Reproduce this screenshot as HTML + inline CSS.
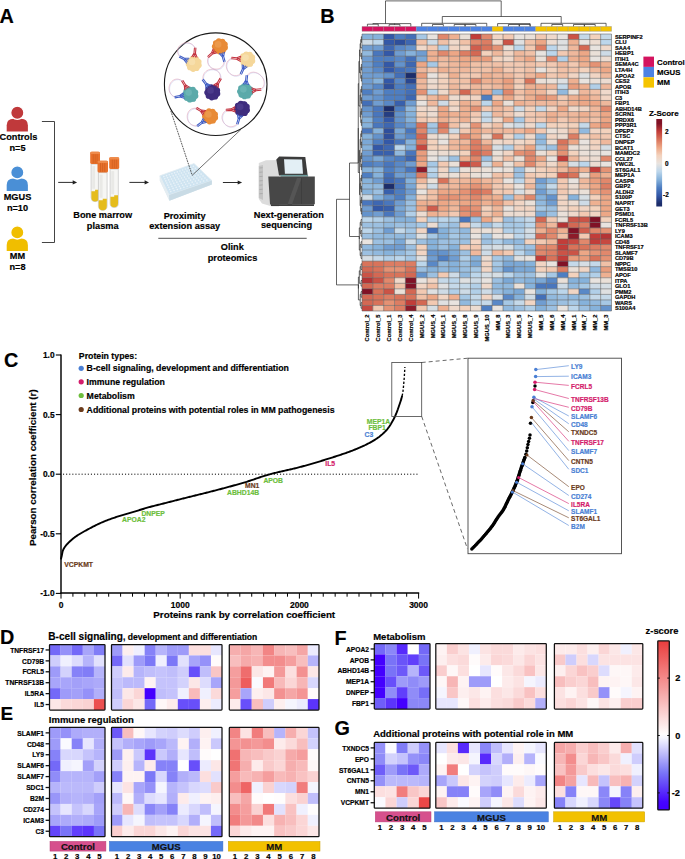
<!DOCTYPE html>
<html><head><meta charset="utf-8"><style>
html,body{margin:0;padding:0;background:#fff;overflow:hidden;}
svg{display:block;}
</style></head><body>
<svg width="685" height="859" viewBox="0 0 685 859" font-family="Liberation Sans, sans-serif">
<rect width="685" height="859" fill="#fff"/>
<text x="-0.40" y="22.80" font-size="19.8" font-weight="bold" text-anchor="start" fill="#000" stroke="#000" stroke-width="0.18" >A</text>
<path d="M6.7 131.40 L6.7 125.30 Q6.7 118.80 13.5 118.80 L21.1 118.80 Q27.9 118.80 27.9 125.30 L27.9 131.40 Z" fill="#C0393B"/>
<circle cx="17.3" cy="112.80" r="6.6" fill="#C0393B" stroke="#fff" stroke-width="1.3"/>
<path d="M6.7 191.00 L6.7 184.90 Q6.7 178.40 13.5 178.40 L21.1 178.40 Q27.9 178.40 27.9 184.90 L27.9 191.00 Z" fill="#4A8FD6"/>
<circle cx="17.3" cy="172.40" r="6.6" fill="#4A8FD6" stroke="#fff" stroke-width="1.3"/>
<path d="M6.7 251.00 L6.7 244.90 Q6.7 238.40 13.5 238.40 L21.1 238.40 Q27.9 238.40 27.9 244.90 L27.9 251.00 Z" fill="#F0BE00"/>
<circle cx="17.3" cy="232.40" r="6.6" fill="#F0BE00" stroke="#fff" stroke-width="1.3"/>
<text x="18.50" y="139.90" font-size="9.6" font-weight="bold" text-anchor="middle" fill="#000" stroke="#000" stroke-width="0.18" textLength="37.82" lengthAdjust="spacingAndGlyphs">Controls</text>
<text x="17.50" y="151.20" font-size="9.6" font-weight="bold" text-anchor="middle" fill="#000" stroke="#000" stroke-width="0.18" textLength="16.11" lengthAdjust="spacingAndGlyphs">n=5</text>
<text x="17.50" y="199.50" font-size="9.6" font-weight="bold" text-anchor="middle" fill="#000" stroke="#000" stroke-width="0.18" textLength="27.60" lengthAdjust="spacingAndGlyphs">MGUS</text>
<text x="17.50" y="210.90" font-size="9.6" font-weight="bold" text-anchor="middle" fill="#000" stroke="#000" stroke-width="0.18" textLength="21.23" lengthAdjust="spacingAndGlyphs">n=10</text>
<text x="17.50" y="258.70" font-size="9.6" font-weight="bold" text-anchor="middle" fill="#000" stroke="#000" stroke-width="0.18" textLength="15.33" lengthAdjust="spacingAndGlyphs">MM</text>
<text x="17.50" y="270.10" font-size="9.6" font-weight="bold" text-anchor="middle" fill="#000" stroke="#000" stroke-width="0.18" textLength="16.11" lengthAdjust="spacingAndGlyphs">n=8</text>
<path d="M41.9 121.5 H54.5 V242.5 H41.9" fill="none" stroke="#3a3a3a" stroke-width="0.95"/>
<line x1="58.20" y1="182.40" x2="74.10" y2="182.40" stroke="#222" stroke-width="0.95" />
<path d="M77.10 182.40 L72.70 180.30 L72.70 184.50 Z" fill="#222"/>
<line x1="129.40" y1="182.40" x2="146.00" y2="182.40" stroke="#222" stroke-width="0.95" />
<path d="M149.00 182.40 L144.60 180.30 L144.60 184.50 Z" fill="#222"/>
<line x1="222.90" y1="182.50" x2="239.10" y2="182.50" stroke="#222" stroke-width="0.95" />
<path d="M242.10 182.50 L237.70 180.40 L237.70 184.60 Z" fill="#222"/>
<path d="M91.10 164.10 V197.70 A4.00 4.00 0 0 0 99.10 197.70 V164.10 Z" fill="#F6F6F4" stroke="#B8B8B8" stroke-width="0.6"/>
<path d="M91.40 191.30 L95.10 191.30 L95.10 189.80 L98.80 189.80 V197.70 A3.70 3.70 0 0 1 91.40 197.70 Z" fill="#E5BC1C"/>
<rect x="92.30" y="166.10" width="2.80" height="22.70" fill="#E9E9E6"/>
<rect x="90.20" y="151.80" width="9.80" height="12.30" rx="1.6" fill="#E8712B"/>
<rect x="90.20" y="151.80" width="9.80" height="2.2" rx="1.1" fill="#EE8A4A"/>
<rect x="92.84" y="154.20" width="0.6" height="9.10" fill="#C95A1D"/>
<rect x="94.80" y="154.20" width="0.6" height="9.10" fill="#C95A1D"/>
<rect x="96.76" y="154.20" width="0.6" height="9.10" fill="#C95A1D"/>
<path d="M110.10 169.10 V203.40 A4.10 4.10 0 0 0 118.30 203.40 V169.10 Z" fill="#F6F6F4" stroke="#B8B8B8" stroke-width="0.6"/>
<path d="M110.40 196.70 L114.20 196.70 L114.20 195.20 L118.00 195.20 V203.40 A3.80 3.80 0 0 1 110.40 203.40 Z" fill="#E5BC1C"/>
<rect x="111.30" y="171.10" width="2.87" height="23.10" fill="#E9E9E6"/>
<rect x="109.20" y="157.20" width="10.00" height="11.90" rx="1.6" fill="#E8712B"/>
<rect x="109.20" y="157.20" width="10.00" height="2.2" rx="1.1" fill="#EE8A4A"/>
<rect x="111.90" y="159.60" width="0.6" height="8.70" fill="#C95A1D"/>
<rect x="113.90" y="159.60" width="0.6" height="8.70" fill="#C95A1D"/>
<rect x="115.90" y="159.60" width="0.6" height="8.70" fill="#C95A1D"/>
<path d="M98.40 172.60 V206.15 A4.35 4.35 0 0 0 107.10 206.15 V172.60 Z" fill="#F6F6F4" stroke="#B8B8B8" stroke-width="0.6"/>
<path d="M98.70 200.20 L102.75 200.20 L102.75 198.70 L106.80 198.70 V206.15 A4.05 4.05 0 0 1 98.70 206.15 Z" fill="#E5BC1C"/>
<rect x="99.60" y="174.60" width="3.04" height="23.10" fill="#E9E9E6"/>
<rect x="97.50" y="160.70" width="10.50" height="11.90" rx="1.6" fill="#E8712B"/>
<rect x="97.50" y="160.70" width="10.50" height="2.2" rx="1.1" fill="#EE8A4A"/>
<rect x="100.35" y="163.10" width="0.6" height="8.70" fill="#C95A1D"/>
<rect x="102.45" y="163.10" width="0.6" height="8.70" fill="#C95A1D"/>
<rect x="104.55" y="163.10" width="0.6" height="8.70" fill="#C95A1D"/>
<path d="M159.8 175.8 L194 163.5 L211.9 180.6 L211.9 184.5 L169.4 200.7 L159.8 180.5 Z" fill="#DCE9F0"/>
<path d="M159.8 175.8 L194 163.5 L211.9 180.6 L169 195 Z" fill="#CFE4F1" stroke="#E6EFF4" stroke-width="0.8"/>
<path d="M159.8 175.8 L169 195 L169.4 200.7 L159.8 180.5 Z" fill="#E4EDF2"/>
<path d="M169 195 L211.9 180.6 L211.9 184.5 L169.4 200.7 Z" fill="#C9DBE5"/>
<circle cx="163.82" cy="176.60" r="0.8" fill="#EAF3F9"/>
<circle cx="164.81" cy="178.75" r="0.8" fill="#EAF3F9"/>
<circle cx="165.81" cy="180.89" r="0.8" fill="#EAF3F9"/>
<circle cx="166.80" cy="183.03" r="0.8" fill="#EAF3F9"/>
<circle cx="167.79" cy="185.17" r="0.8" fill="#EAF3F9"/>
<circle cx="168.78" cy="187.31" r="0.8" fill="#EAF3F9"/>
<circle cx="169.77" cy="189.45" r="0.8" fill="#EAF3F9"/>
<circle cx="170.77" cy="191.60" r="0.8" fill="#EAF3F9"/>
<circle cx="166.51" cy="175.66" r="0.8" fill="#EAF3F9"/>
<circle cx="167.59" cy="177.79" r="0.8" fill="#EAF3F9"/>
<circle cx="168.67" cy="179.91" r="0.8" fill="#EAF3F9"/>
<circle cx="169.74" cy="182.04" r="0.8" fill="#EAF3F9"/>
<circle cx="170.82" cy="184.16" r="0.8" fill="#EAF3F9"/>
<circle cx="171.90" cy="186.29" r="0.8" fill="#EAF3F9"/>
<circle cx="172.97" cy="188.41" r="0.8" fill="#EAF3F9"/>
<circle cx="174.05" cy="190.54" r="0.8" fill="#EAF3F9"/>
<circle cx="169.21" cy="174.72" r="0.8" fill="#EAF3F9"/>
<circle cx="170.37" cy="176.83" r="0.8" fill="#EAF3F9"/>
<circle cx="171.53" cy="178.94" r="0.8" fill="#EAF3F9"/>
<circle cx="172.69" cy="181.05" r="0.8" fill="#EAF3F9"/>
<circle cx="173.85" cy="183.15" r="0.8" fill="#EAF3F9"/>
<circle cx="175.01" cy="185.26" r="0.8" fill="#EAF3F9"/>
<circle cx="176.17" cy="187.37" r="0.8" fill="#EAF3F9"/>
<circle cx="177.33" cy="189.48" r="0.8" fill="#EAF3F9"/>
<circle cx="171.90" cy="173.78" r="0.8" fill="#EAF3F9"/>
<circle cx="173.14" cy="175.87" r="0.8" fill="#EAF3F9"/>
<circle cx="174.39" cy="177.96" r="0.8" fill="#EAF3F9"/>
<circle cx="175.63" cy="180.05" r="0.8" fill="#EAF3F9"/>
<circle cx="176.88" cy="182.15" r="0.8" fill="#EAF3F9"/>
<circle cx="178.12" cy="184.24" r="0.8" fill="#EAF3F9"/>
<circle cx="179.37" cy="186.33" r="0.8" fill="#EAF3F9"/>
<circle cx="180.61" cy="188.42" r="0.8" fill="#EAF3F9"/>
<circle cx="174.59" cy="172.84" r="0.8" fill="#EAF3F9"/>
<circle cx="175.92" cy="174.91" r="0.8" fill="#EAF3F9"/>
<circle cx="177.25" cy="176.99" r="0.8" fill="#EAF3F9"/>
<circle cx="178.58" cy="179.06" r="0.8" fill="#EAF3F9"/>
<circle cx="179.91" cy="181.14" r="0.8" fill="#EAF3F9"/>
<circle cx="181.24" cy="183.21" r="0.8" fill="#EAF3F9"/>
<circle cx="182.57" cy="185.29" r="0.8" fill="#EAF3F9"/>
<circle cx="183.90" cy="187.36" r="0.8" fill="#EAF3F9"/>
<circle cx="177.28" cy="171.90" r="0.8" fill="#EAF3F9"/>
<circle cx="178.70" cy="173.95" r="0.8" fill="#EAF3F9"/>
<circle cx="180.11" cy="176.01" r="0.8" fill="#EAF3F9"/>
<circle cx="181.52" cy="178.07" r="0.8" fill="#EAF3F9"/>
<circle cx="182.94" cy="180.13" r="0.8" fill="#EAF3F9"/>
<circle cx="184.35" cy="182.19" r="0.8" fill="#EAF3F9"/>
<circle cx="185.77" cy="184.25" r="0.8" fill="#EAF3F9"/>
<circle cx="187.18" cy="186.30" r="0.8" fill="#EAF3F9"/>
<circle cx="179.97" cy="170.95" r="0.8" fill="#EAF3F9"/>
<circle cx="181.47" cy="173.00" r="0.8" fill="#EAF3F9"/>
<circle cx="182.97" cy="175.04" r="0.8" fill="#EAF3F9"/>
<circle cx="184.47" cy="177.08" r="0.8" fill="#EAF3F9"/>
<circle cx="185.97" cy="179.12" r="0.8" fill="#EAF3F9"/>
<circle cx="187.47" cy="181.16" r="0.8" fill="#EAF3F9"/>
<circle cx="188.96" cy="183.20" r="0.8" fill="#EAF3F9"/>
<circle cx="190.46" cy="185.25" r="0.8" fill="#EAF3F9"/>
<circle cx="182.67" cy="170.01" r="0.8" fill="#EAF3F9"/>
<circle cx="184.25" cy="172.04" r="0.8" fill="#EAF3F9"/>
<circle cx="185.83" cy="174.06" r="0.8" fill="#EAF3F9"/>
<circle cx="187.41" cy="176.09" r="0.8" fill="#EAF3F9"/>
<circle cx="189.00" cy="178.11" r="0.8" fill="#EAF3F9"/>
<circle cx="190.58" cy="180.14" r="0.8" fill="#EAF3F9"/>
<circle cx="192.16" cy="182.16" r="0.8" fill="#EAF3F9"/>
<circle cx="193.75" cy="184.19" r="0.8" fill="#EAF3F9"/>
<circle cx="185.36" cy="169.07" r="0.8" fill="#EAF3F9"/>
<circle cx="187.03" cy="171.08" r="0.8" fill="#EAF3F9"/>
<circle cx="188.69" cy="173.09" r="0.8" fill="#EAF3F9"/>
<circle cx="190.36" cy="175.10" r="0.8" fill="#EAF3F9"/>
<circle cx="192.03" cy="177.10" r="0.8" fill="#EAF3F9"/>
<circle cx="193.69" cy="179.11" r="0.8" fill="#EAF3F9"/>
<circle cx="195.36" cy="181.12" r="0.8" fill="#EAF3F9"/>
<circle cx="197.03" cy="183.13" r="0.8" fill="#EAF3F9"/>
<circle cx="188.05" cy="168.13" r="0.8" fill="#EAF3F9"/>
<circle cx="189.80" cy="170.12" r="0.8" fill="#EAF3F9"/>
<circle cx="191.55" cy="172.11" r="0.8" fill="#EAF3F9"/>
<circle cx="193.31" cy="174.10" r="0.8" fill="#EAF3F9"/>
<circle cx="195.06" cy="176.10" r="0.8" fill="#EAF3F9"/>
<circle cx="196.81" cy="178.09" r="0.8" fill="#EAF3F9"/>
<circle cx="198.56" cy="180.08" r="0.8" fill="#EAF3F9"/>
<circle cx="200.31" cy="182.07" r="0.8" fill="#EAF3F9"/>
<circle cx="190.74" cy="167.19" r="0.8" fill="#EAF3F9"/>
<circle cx="192.58" cy="169.16" r="0.8" fill="#EAF3F9"/>
<circle cx="194.41" cy="171.14" r="0.8" fill="#EAF3F9"/>
<circle cx="196.25" cy="173.11" r="0.8" fill="#EAF3F9"/>
<circle cx="198.09" cy="175.09" r="0.8" fill="#EAF3F9"/>
<circle cx="199.92" cy="177.06" r="0.8" fill="#EAF3F9"/>
<circle cx="201.76" cy="179.04" r="0.8" fill="#EAF3F9"/>
<circle cx="203.59" cy="181.01" r="0.8" fill="#EAF3F9"/>
<circle cx="193.44" cy="166.25" r="0.8" fill="#EAF3F9"/>
<circle cx="195.36" cy="168.20" r="0.8" fill="#EAF3F9"/>
<circle cx="197.28" cy="170.16" r="0.8" fill="#EAF3F9"/>
<circle cx="199.20" cy="172.12" r="0.8" fill="#EAF3F9"/>
<circle cx="201.12" cy="174.08" r="0.8" fill="#EAF3F9"/>
<circle cx="203.04" cy="176.04" r="0.8" fill="#EAF3F9"/>
<circle cx="204.96" cy="178.00" r="0.8" fill="#EAF3F9"/>
<circle cx="206.88" cy="179.95" r="0.8" fill="#EAF3F9"/>
<line x1="170.8" y1="110.9" x2="192.2" y2="175.3" stroke="#333" stroke-width="0.8" stroke-dasharray="1.8,0.8"/>
<line x1="240.9" y1="129.5" x2="192.2" y2="175.3" stroke="#333" stroke-width="0.7"/>
<circle cx="215.7" cy="84.2" r="51.3" fill="#fff" stroke="#1a1a1a" stroke-width="1.1"/>
<path d="M195.16 48.26 C189.27 36.15 171.08 46.24 179.90 56.72" fill="none" stroke="#E39AAE" stroke-width="0.55"/>
<path d="M195.76 48.86 C189.87 36.75 171.68 46.84 180.50 57.32" fill="none" stroke="#B7BFEA" stroke-width="0.4"/>
<circle cx="193.80" cy="63.80" r="7.40" fill="#F5D79A"/>
<circle cx="198.89" cy="65.37" r="2.81" fill="#F5D79A"/>
<circle cx="196.69" cy="68.28" r="2.81" fill="#F5D79A"/>
<circle cx="193.13" cy="69.09" r="2.81" fill="#F5D79A"/>
<circle cx="189.89" cy="67.42" r="2.81" fill="#F5D79A"/>
<circle cx="188.48" cy="64.06" r="2.81" fill="#F5D79A"/>
<circle cx="189.56" cy="60.58" r="2.81" fill="#F5D79A"/>
<circle cx="192.62" cy="58.60" r="2.81" fill="#F5D79A"/>
<circle cx="196.23" cy="59.06" r="2.81" fill="#F5D79A"/>
<circle cx="198.71" cy="61.73" r="2.81" fill="#F5D79A"/>
<circle cx="191.95" cy="61.95" r="3.33" fill="#FAE7BE" opacity="0.5"/>
<path d="M194.43 47.99 L193.99 52.98 L191.79 56.67 M193.99 52.98 L195.52 57.00" stroke="#C3323F" stroke-width="1.05" fill="none" stroke-linecap="round" stroke-linejoin="round"/>
<path d="M195.92 48.13 L195.49 53.11 L193.29 56.80 M195.49 53.11 L197.01 57.13" stroke="#C3323F" stroke-width="1.05" fill="none" stroke-linecap="round" stroke-linejoin="round"/>
<path d="M179.38 57.30 L183.84 59.57 L186.44 62.99 M183.84 59.57 L188.14 59.66" stroke="#3E5CC4" stroke-width="1.05" fill="none" stroke-linecap="round" stroke-linejoin="round"/>
<path d="M180.06 55.96 L184.52 58.23 L187.12 61.65 M184.52 58.23 L188.82 58.32" stroke="#3E5CC4" stroke-width="1.05" fill="none" stroke-linecap="round" stroke-linejoin="round"/>
<path d="M208.41 56.74 C203.33 69.37 222.28 74.80 224.30 61.30" fill="none" stroke="#E39AAE" stroke-width="0.55"/>
<path d="M209.01 57.34 C203.93 69.97 222.88 75.40 224.90 61.90" fill="none" stroke="#B7BFEA" stroke-width="0.4"/>
<circle cx="220.00" cy="46.30" r="7.40" fill="#E88B37"/>
<circle cx="225.09" cy="47.87" r="2.81" fill="#E88B37"/>
<circle cx="222.89" cy="50.78" r="2.81" fill="#E88B37"/>
<circle cx="219.33" cy="51.59" r="2.81" fill="#E88B37"/>
<circle cx="216.09" cy="49.92" r="2.81" fill="#E88B37"/>
<circle cx="214.68" cy="46.56" r="2.81" fill="#E88B37"/>
<circle cx="215.76" cy="43.08" r="2.81" fill="#E88B37"/>
<circle cx="218.82" cy="41.10" r="2.81" fill="#E88B37"/>
<circle cx="222.43" cy="41.56" r="2.81" fill="#E88B37"/>
<circle cx="224.91" cy="44.23" r="2.81" fill="#E88B37"/>
<circle cx="218.15" cy="44.45" r="3.33" fill="#F0A860" opacity="0.5"/>
<path d="M208.76 57.43 L212.48 54.08 L216.60 52.88 M212.48 54.08 L214.10 50.10" stroke="#C3323F" stroke-width="1.05" fill="none" stroke-linecap="round" stroke-linejoin="round"/>
<path d="M207.76 56.31 L211.47 52.97 L215.60 51.77 M211.47 52.97 L213.10 48.99" stroke="#C3323F" stroke-width="1.05" fill="none" stroke-linecap="round" stroke-linejoin="round"/>
<path d="M225.08 61.28 L223.70 56.47 L224.43 52.24 M223.70 56.47 L220.83 53.27" stroke="#3E5CC4" stroke-width="1.05" fill="none" stroke-linecap="round" stroke-linejoin="round"/>
<path d="M223.63 61.69 L222.26 56.89 L222.99 52.65 M222.26 56.89 L219.39 53.68" stroke="#3E5CC4" stroke-width="1.05" fill="none" stroke-linecap="round" stroke-linejoin="round"/>
<path d="M231.86 58.04 C219.34 63.28 230.31 81.89 241.05 73.65" fill="none" stroke="#E39AAE" stroke-width="0.55"/>
<path d="M232.46 58.64 C219.94 63.88 230.91 82.49 241.65 74.25" fill="none" stroke="#B7BFEA" stroke-width="0.4"/>
<circle cx="247.40" cy="59.40" r="7.40" fill="#F5D79A"/>
<circle cx="252.49" cy="60.97" r="2.81" fill="#F5D79A"/>
<circle cx="250.29" cy="63.88" r="2.81" fill="#F5D79A"/>
<circle cx="246.73" cy="64.69" r="2.81" fill="#F5D79A"/>
<circle cx="243.49" cy="63.02" r="2.81" fill="#F5D79A"/>
<circle cx="242.08" cy="59.66" r="2.81" fill="#F5D79A"/>
<circle cx="243.16" cy="56.18" r="2.81" fill="#F5D79A"/>
<circle cx="246.22" cy="54.20" r="2.81" fill="#F5D79A"/>
<circle cx="249.83" cy="54.66" r="2.81" fill="#F5D79A"/>
<circle cx="252.31" cy="57.33" r="2.81" fill="#F5D79A"/>
<circle cx="245.55" cy="57.55" r="3.33" fill="#FAE7BE" opacity="0.5"/>
<path d="M231.59 58.77 L236.58 59.21 L240.27 61.41 M236.58 59.21 L240.60 57.68" stroke="#C3323F" stroke-width="1.05" fill="none" stroke-linecap="round" stroke-linejoin="round"/>
<path d="M231.73 57.28 L236.71 57.71 L240.40 59.91 M236.71 57.71 L240.73 56.19" stroke="#C3323F" stroke-width="1.05" fill="none" stroke-linecap="round" stroke-linejoin="round"/>
<path d="M241.66 74.14 L243.69 69.57 L246.98 66.79 M243.69 69.57 L243.56 65.27" stroke="#3E5CC4" stroke-width="1.05" fill="none" stroke-linecap="round" stroke-linejoin="round"/>
<path d="M240.29 73.53 L242.32 68.96 L245.61 66.18 M242.32 68.96 L242.19 64.66" stroke="#3E5CC4" stroke-width="1.05" fill="none" stroke-linecap="round" stroke-linejoin="round"/>
<path d="M182.47 81.03 C171.39 72.96 162.66 92.13 175.14 97.11" fill="none" stroke="#E39AAE" stroke-width="0.55"/>
<path d="M183.07 81.63 C171.99 73.56 163.26 92.73 175.74 97.71" fill="none" stroke="#B7BFEA" stroke-width="0.4"/>
<circle cx="190.50" cy="94.40" r="7.40" fill="#5BAAAA"/>
<circle cx="195.59" cy="95.97" r="2.81" fill="#5BAAAA"/>
<circle cx="193.39" cy="98.88" r="2.81" fill="#5BAAAA"/>
<circle cx="189.83" cy="99.69" r="2.81" fill="#5BAAAA"/>
<circle cx="186.59" cy="98.02" r="2.81" fill="#5BAAAA"/>
<circle cx="185.18" cy="94.66" r="2.81" fill="#5BAAAA"/>
<circle cx="186.26" cy="91.18" r="2.81" fill="#5BAAAA"/>
<circle cx="189.32" cy="89.20" r="2.81" fill="#5BAAAA"/>
<circle cx="192.93" cy="89.66" r="2.81" fill="#5BAAAA"/>
<circle cx="195.41" cy="92.33" r="2.81" fill="#5BAAAA"/>
<circle cx="188.65" cy="92.55" r="3.33" fill="#7CC0C0" opacity="0.5"/>
<path d="M181.72 81.24 L184.29 85.53 L184.69 89.81 M184.29 85.53 L187.89 87.88" stroke="#C3323F" stroke-width="1.05" fill="none" stroke-linecap="round" stroke-linejoin="round"/>
<path d="M183.01 80.47 L185.58 84.76 L185.97 89.04 M185.58 84.76 L189.18 87.11" stroke="#C3323F" stroke-width="1.05" fill="none" stroke-linecap="round" stroke-linejoin="round"/>
<path d="M175.07 97.88 L179.99 97.01 L184.13 98.18 M179.99 97.01 L183.48 94.50" stroke="#3E5CC4" stroke-width="1.05" fill="none" stroke-linecap="round" stroke-linejoin="round"/>
<path d="M174.81 96.41 L179.73 95.54 L183.87 96.71 M179.73 95.54 L183.22 93.02" stroke="#3E5CC4" stroke-width="1.05" fill="none" stroke-linecap="round" stroke-linejoin="round"/>
<path d="M203.01 79.84 C201.21 66.45 221.98 65.36 220.43 78.93" fill="none" stroke="#E39AAE" stroke-width="0.55"/>
<path d="M203.61 80.44 C201.81 67.05 222.58 65.96 221.03 79.53" fill="none" stroke="#B7BFEA" stroke-width="0.4"/>
<circle cx="212.40" cy="92.30" r="7.40" fill="#3F2D7E"/>
<circle cx="217.49" cy="93.87" r="2.81" fill="#3F2D7E"/>
<circle cx="215.29" cy="96.78" r="2.81" fill="#3F2D7E"/>
<circle cx="211.73" cy="97.59" r="2.81" fill="#3F2D7E"/>
<circle cx="208.49" cy="95.92" r="2.81" fill="#3F2D7E"/>
<circle cx="207.08" cy="92.56" r="2.81" fill="#3F2D7E"/>
<circle cx="208.16" cy="89.08" r="2.81" fill="#3F2D7E"/>
<circle cx="211.22" cy="87.10" r="2.81" fill="#3F2D7E"/>
<circle cx="214.83" cy="87.56" r="2.81" fill="#3F2D7E"/>
<circle cx="217.31" cy="90.23" r="2.81" fill="#3F2D7E"/>
<circle cx="210.55" cy="90.45" r="3.33" fill="#5A4A9A" opacity="0.5"/>
<path d="M202.29 80.13 L205.30 84.13 L206.14 88.34 M205.30 84.13 L209.13 86.09" stroke="#3E5CC4" stroke-width="1.05" fill="none" stroke-linecap="round" stroke-linejoin="round"/>
<path d="M203.49 79.23 L206.50 83.22 L207.34 87.44 M206.50 83.22 L210.32 85.19" stroke="#3E5CC4" stroke-width="1.05" fill="none" stroke-linecap="round" stroke-linejoin="round"/>
<path d="M219.89 78.37 L217.32 82.66 L213.72 85.01 M217.32 82.66 L216.93 86.94" stroke="#C3323F" stroke-width="1.05" fill="none" stroke-linecap="round" stroke-linejoin="round"/>
<path d="M221.18 79.14 L218.61 83.43 L215.01 85.78 M218.61 83.43 L218.21 87.71" stroke="#C3323F" stroke-width="1.05" fill="none" stroke-linecap="round" stroke-linejoin="round"/>
<path d="M246.83 75.69 C254.92 64.92 271.48 81.48 260.71 89.57" fill="none" stroke="#E39AAE" stroke-width="0.55"/>
<path d="M247.43 76.29 C255.52 65.52 272.08 82.08 261.31 90.17" fill="none" stroke="#B7BFEA" stroke-width="0.4"/>
<circle cx="245.20" cy="91.20" r="7.40" fill="#5BAAAA"/>
<circle cx="250.29" cy="92.77" r="2.81" fill="#5BAAAA"/>
<circle cx="248.09" cy="95.68" r="2.81" fill="#5BAAAA"/>
<circle cx="244.53" cy="96.49" r="2.81" fill="#5BAAAA"/>
<circle cx="241.29" cy="94.82" r="2.81" fill="#5BAAAA"/>
<circle cx="239.88" cy="91.46" r="2.81" fill="#5BAAAA"/>
<circle cx="240.96" cy="87.98" r="2.81" fill="#5BAAAA"/>
<circle cx="244.02" cy="86.00" r="2.81" fill="#5BAAAA"/>
<circle cx="247.63" cy="86.46" r="2.81" fill="#5BAAAA"/>
<circle cx="250.11" cy="89.13" r="2.81" fill="#5BAAAA"/>
<circle cx="243.35" cy="89.35" r="3.33" fill="#7CC0C0" opacity="0.5"/>
<path d="M246.11 75.41 L245.58 80.38 L243.32 84.04 M245.58 80.38 L247.04 84.43" stroke="#3E5CC4" stroke-width="1.05" fill="none" stroke-linecap="round" stroke-linejoin="round"/>
<path d="M247.60 75.56 L247.07 80.54 L244.81 84.19 M247.07 80.54 L248.53 84.58" stroke="#3E5CC4" stroke-width="1.05" fill="none" stroke-linecap="round" stroke-linejoin="round"/>
<path d="M260.84 88.80 L255.86 89.33 L251.82 87.87 M255.86 89.33 L252.21 91.59" stroke="#C3323F" stroke-width="1.05" fill="none" stroke-linecap="round" stroke-linejoin="round"/>
<path d="M260.99 90.29 L256.02 90.82 L251.97 89.36 M256.02 90.82 L252.36 93.08" stroke="#C3323F" stroke-width="1.05" fill="none" stroke-linecap="round" stroke-linejoin="round"/>
<path d="M196.83 108.27 C183.26 106.72 184.35 127.49 197.74 125.69" fill="none" stroke="#E39AAE" stroke-width="0.55"/>
<path d="M197.43 108.87 C183.86 107.32 184.95 128.09 198.34 126.29" fill="none" stroke="#B7BFEA" stroke-width="0.4"/>
<circle cx="210.20" cy="116.30" r="7.40" fill="#E88B37"/>
<circle cx="215.29" cy="117.87" r="2.81" fill="#E88B37"/>
<circle cx="213.09" cy="120.78" r="2.81" fill="#E88B37"/>
<circle cx="209.53" cy="121.59" r="2.81" fill="#E88B37"/>
<circle cx="206.29" cy="119.92" r="2.81" fill="#E88B37"/>
<circle cx="204.88" cy="116.56" r="2.81" fill="#E88B37"/>
<circle cx="205.96" cy="113.08" r="2.81" fill="#E88B37"/>
<circle cx="209.02" cy="111.10" r="2.81" fill="#E88B37"/>
<circle cx="212.63" cy="111.56" r="2.81" fill="#E88B37"/>
<circle cx="215.11" cy="114.23" r="2.81" fill="#E88B37"/>
<circle cx="208.35" cy="114.45" r="3.33" fill="#F0A860" opacity="0.5"/>
<path d="M196.27 108.81 L200.56 111.38 L202.91 114.98 M200.56 111.38 L204.84 111.77" stroke="#C3323F" stroke-width="1.05" fill="none" stroke-linecap="round" stroke-linejoin="round"/>
<path d="M197.04 107.52 L201.33 110.09 L203.68 113.69 M201.33 110.09 L205.61 110.49" stroke="#C3323F" stroke-width="1.05" fill="none" stroke-linecap="round" stroke-linejoin="round"/>
<path d="M198.03 126.41 L202.03 123.40 L206.24 122.56 M202.03 123.40 L203.99 119.57" stroke="#3E5CC4" stroke-width="1.05" fill="none" stroke-linecap="round" stroke-linejoin="round"/>
<path d="M197.13 125.21 L201.12 122.20 L205.34 121.36 M201.12 122.20 L203.09 118.38" stroke="#3E5CC4" stroke-width="1.05" fill="none" stroke-linecap="round" stroke-linejoin="round"/>
<path d="M226.46 110.06 C215.04 117.39 228.14 133.56 237.44 123.62" fill="none" stroke="#E39AAE" stroke-width="0.55"/>
<path d="M227.06 110.66 C215.64 117.99 228.74 134.16 238.04 124.22" fill="none" stroke="#B7BFEA" stroke-width="0.4"/>
<circle cx="242.00" cy="108.70" r="7.40" fill="#3F2D7E"/>
<circle cx="247.09" cy="110.27" r="2.81" fill="#3F2D7E"/>
<circle cx="244.89" cy="113.18" r="2.81" fill="#3F2D7E"/>
<circle cx="241.33" cy="113.99" r="2.81" fill="#3F2D7E"/>
<circle cx="238.09" cy="112.32" r="2.81" fill="#3F2D7E"/>
<circle cx="236.68" cy="108.96" r="2.81" fill="#3F2D7E"/>
<circle cx="237.76" cy="105.48" r="2.81" fill="#3F2D7E"/>
<circle cx="240.82" cy="103.50" r="2.81" fill="#3F2D7E"/>
<circle cx="244.43" cy="103.96" r="2.81" fill="#3F2D7E"/>
<circle cx="246.91" cy="106.63" r="2.81" fill="#3F2D7E"/>
<circle cx="240.15" cy="106.85" r="3.33" fill="#5A4A9A" opacity="0.5"/>
<path d="M226.33 110.82 L231.31 110.39 L235.33 111.91 M231.31 110.39 L235.00 108.19" stroke="#C3323F" stroke-width="1.05" fill="none" stroke-linecap="round" stroke-linejoin="round"/>
<path d="M226.19 109.33 L231.18 108.89 L235.20 110.42 M231.18 108.89 L234.87 106.69" stroke="#C3323F" stroke-width="1.05" fill="none" stroke-linecap="round" stroke-linejoin="round"/>
<path d="M238.10 124.03 L239.56 119.25 L242.48 116.09 M239.56 119.25 L238.90 115.00" stroke="#3E5CC4" stroke-width="1.05" fill="none" stroke-linecap="round" stroke-linejoin="round"/>
<path d="M236.66 123.59 L238.13 118.81 L241.05 115.65 M238.13 118.81 L237.47 114.56" stroke="#3E5CC4" stroke-width="1.05" fill="none" stroke-linecap="round" stroke-linejoin="round"/>
<path d="M258.8 163 L266 160.2 L279 160 L279 206.5 L272 206.5 L262 203.5 L258.8 199 Z" fill="#DCDCDC"/>
<path d="M258.8 166 L263 165 L263 200 L258.8 198 Z" fill="#C4C4C4"/>
<line x1="259.4" y1="168.0" x2="262.6" y2="167.7" stroke="#9a9a9a" stroke-width="0.6"/>
<line x1="259.4" y1="172.3" x2="262.6" y2="172.0" stroke="#9a9a9a" stroke-width="0.6"/>
<line x1="259.4" y1="176.6" x2="262.6" y2="176.3" stroke="#9a9a9a" stroke-width="0.6"/>
<line x1="259.4" y1="180.9" x2="262.6" y2="180.6" stroke="#9a9a9a" stroke-width="0.6"/>
<line x1="259.4" y1="185.2" x2="262.6" y2="184.9" stroke="#9a9a9a" stroke-width="0.6"/>
<line x1="259.4" y1="189.5" x2="262.6" y2="189.2" stroke="#9a9a9a" stroke-width="0.6"/>
<line x1="259.4" y1="193.8" x2="262.6" y2="193.5" stroke="#9a9a9a" stroke-width="0.6"/>
<path d="M276.3 159.5 L279.2 156.6 L305.3 157.1 L307.7 175.6 L279 175.6 Z" fill="#3C3C3C"/>
<path d="M284 159.3 L302 159.6 L303 173.7 L284.9 173.7 Z" fill="#E3EFF5"/>
<rect x="280.6" y="174.9" width="27.5" height="1.8" fill="#6E9C9C"/>
<path d="M268.3 176.6 L314.8 176.6 L314.8 204.3 L270 204.6 Z" fill="#474747"/>
<path d="M297 178 L301.5 178 L292 204.5 L287.5 204.5 Z" fill="#555"/>
<line x1="301.5" y1="178" x2="301.5" y2="204" stroke="#393939" stroke-width="0.6"/>
<rect x="271" y="204.3" width="43" height="1.6" fill="#2a2a2a"/>
<text x="102.70" y="217.90" font-size="9.6" font-weight="bold" text-anchor="middle" fill="#000" stroke="#000" stroke-width="0.18" textLength="58.79" lengthAdjust="spacingAndGlyphs">Bone marrow</text>
<text x="102.70" y="228.80" font-size="9.6" font-weight="bold" text-anchor="middle" fill="#000" stroke="#000" stroke-width="0.18" textLength="31.71" lengthAdjust="spacingAndGlyphs">plasma</text>
<text x="184.60" y="218.60" font-size="9.6" font-weight="bold" text-anchor="middle" fill="#000" stroke="#000" stroke-width="0.18" textLength="41.93" lengthAdjust="spacingAndGlyphs">Proximity</text>
<text x="184.70" y="229.10" font-size="9.6" font-weight="bold" text-anchor="middle" fill="#000" stroke="#000" stroke-width="0.18" textLength="71.08" lengthAdjust="spacingAndGlyphs">extension assay</text>
<text x="288.80" y="217.90" font-size="9.6" font-weight="bold" text-anchor="middle" fill="#000" stroke="#000" stroke-width="0.18" textLength="70.03" lengthAdjust="spacingAndGlyphs">Next-generation</text>
<text x="286.50" y="228.20" font-size="9.6" font-weight="bold" text-anchor="middle" fill="#000" stroke="#000" stroke-width="0.18" textLength="51.12" lengthAdjust="spacingAndGlyphs">sequencing</text>
<line x1="158.30" y1="238.30" x2="306.70" y2="238.30" stroke="#222" stroke-width="0.8" />
<text x="232.30" y="250.00" font-size="9.6" font-weight="bold" text-anchor="middle" fill="#000" stroke="#000" stroke-width="0.18" textLength="23.00" lengthAdjust="spacingAndGlyphs">Olink</text>
<text x="232.50" y="260.60" font-size="9.6" font-weight="bold" text-anchor="middle" fill="#000" stroke="#000" stroke-width="0.18" textLength="49.59" lengthAdjust="spacingAndGlyphs">proteomics</text>
<text x="320.20" y="22.60" font-size="19.8" font-weight="bold" text-anchor="start" fill="#000" stroke="#000" stroke-width="0.18" >B</text>
<g><rect x="362.00" y="34.00" width="10.85" height="5.54" fill="#86b2db"/><rect x="372.85" y="34.00" width="10.85" height="5.54" fill="#86b2db"/><rect x="383.70" y="34.00" width="10.85" height="5.54" fill="#3358a8"/><rect x="394.54" y="34.00" width="10.85" height="5.54" fill="#4e7ec2"/><rect x="405.39" y="34.00" width="10.85" height="5.54" fill="#436fb8"/><rect x="416.24" y="34.00" width="10.85" height="5.54" fill="#a6c8e5"/><rect x="427.09" y="34.00" width="10.85" height="5.54" fill="#e8e3df"/><rect x="437.93" y="34.00" width="10.85" height="5.54" fill="#e1886c"/><rect x="448.78" y="34.00" width="10.85" height="5.54" fill="#eeb091"/><rect x="459.63" y="34.00" width="10.85" height="5.54" fill="#eae0d8"/><rect x="470.48" y="34.00" width="10.85" height="5.54" fill="#c23d39"/><rect x="481.33" y="34.00" width="10.85" height="5.54" fill="#e1886c"/><rect x="492.17" y="34.00" width="10.85" height="5.54" fill="#f1d5c4"/><rect x="503.02" y="34.00" width="10.85" height="5.54" fill="#f2c9b2"/><rect x="513.87" y="34.00" width="10.85" height="5.54" fill="#e8e3df"/><rect x="524.72" y="34.00" width="10.85" height="5.54" fill="#eae0d8"/><rect x="535.57" y="34.00" width="10.85" height="5.54" fill="#f2c9b2"/><rect x="546.41" y="34.00" width="10.85" height="5.54" fill="#efd9cb"/><rect x="557.26" y="34.00" width="10.85" height="5.54" fill="#e8e3df"/><rect x="568.11" y="34.00" width="10.85" height="5.54" fill="#cb5346"/><rect x="578.96" y="34.00" width="10.85" height="5.54" fill="#c5d9e9"/><rect x="589.80" y="34.00" width="10.85" height="5.54" fill="#f3d2bd"/><rect x="600.65" y="34.00" width="10.85" height="5.54" fill="#c5d9e9"/><rect x="362.00" y="39.54" width="10.85" height="5.54" fill="#cedbe6"/><rect x="372.85" y="39.54" width="10.85" height="5.54" fill="#bcd6eb"/><rect x="383.70" y="39.54" width="10.85" height="5.54" fill="#3358a8"/><rect x="394.54" y="39.54" width="10.85" height="5.54" fill="#2e4f9c"/><rect x="405.39" y="39.54" width="10.85" height="5.54" fill="#3e67b2"/><rect x="416.24" y="39.54" width="10.85" height="5.54" fill="#f1c1a7"/><rect x="427.09" y="39.54" width="10.85" height="5.54" fill="#cedbe6"/><rect x="437.93" y="39.54" width="10.85" height="5.54" fill="#f1c1a7"/><rect x="448.78" y="39.54" width="10.85" height="5.54" fill="#efd9cb"/><rect x="459.63" y="39.54" width="10.85" height="5.54" fill="#f1c1a7"/><rect x="470.48" y="39.54" width="10.85" height="5.54" fill="#e1886c"/><rect x="481.33" y="39.54" width="10.85" height="5.54" fill="#dd7d63"/><rect x="492.17" y="39.54" width="10.85" height="5.54" fill="#efd9cb"/><rect x="503.02" y="39.54" width="10.85" height="5.54" fill="#cb5346"/><rect x="513.87" y="39.54" width="10.85" height="5.54" fill="#dfe0e1"/><rect x="524.72" y="39.54" width="10.85" height="5.54" fill="#f1c1a7"/><rect x="535.57" y="39.54" width="10.85" height="5.54" fill="#eda786"/><rect x="546.41" y="39.54" width="10.85" height="5.54" fill="#ecdcd1"/><rect x="557.26" y="39.54" width="10.85" height="5.54" fill="#dfe0e1"/><rect x="568.11" y="39.54" width="10.85" height="5.54" fill="#eeb091"/><rect x="578.96" y="39.54" width="10.85" height="5.54" fill="#e8e3df"/><rect x="589.80" y="39.54" width="10.85" height="5.54" fill="#ecdcd1"/><rect x="600.65" y="39.54" width="10.85" height="5.54" fill="#bcd6eb"/><rect x="362.00" y="45.08" width="10.85" height="5.54" fill="#709dd1"/><rect x="372.85" y="45.08" width="10.85" height="5.54" fill="#709dd1"/><rect x="383.70" y="45.08" width="10.85" height="5.54" fill="#3e67b2"/><rect x="394.54" y="45.08" width="10.85" height="5.54" fill="#5988c7"/><rect x="405.39" y="45.08" width="10.85" height="5.54" fill="#6493cc"/><rect x="416.24" y="45.08" width="10.85" height="5.54" fill="#efd9cb"/><rect x="427.09" y="45.08" width="10.85" height="5.54" fill="#f2c9b2"/><rect x="437.93" y="45.08" width="10.85" height="5.54" fill="#b1cfe8"/><rect x="448.78" y="45.08" width="10.85" height="5.54" fill="#f1d5c4"/><rect x="459.63" y="45.08" width="10.85" height="5.54" fill="#f1d5c4"/><rect x="470.48" y="45.08" width="10.85" height="5.54" fill="#d05d4d"/><rect x="481.33" y="45.08" width="10.85" height="5.54" fill="#d9735a"/><rect x="492.17" y="45.08" width="10.85" height="5.54" fill="#e59274"/><rect x="503.02" y="45.08" width="10.85" height="5.54" fill="#eae0d8"/><rect x="513.87" y="45.08" width="10.85" height="5.54" fill="#bcd6eb"/><rect x="524.72" y="45.08" width="10.85" height="5.54" fill="#f2c9b2"/><rect x="535.57" y="45.08" width="10.85" height="5.54" fill="#dd7d63"/><rect x="546.41" y="45.08" width="10.85" height="5.54" fill="#bcd6eb"/><rect x="557.26" y="45.08" width="10.85" height="5.54" fill="#dfe0e1"/><rect x="568.11" y="45.08" width="10.85" height="5.54" fill="#efb89c"/><rect x="578.96" y="45.08" width="10.85" height="5.54" fill="#d46853"/><rect x="589.80" y="45.08" width="10.85" height="5.54" fill="#e8e3df"/><rect x="600.65" y="45.08" width="10.85" height="5.54" fill="#efd9cb"/><rect x="362.00" y="50.62" width="10.85" height="5.54" fill="#91b9de"/><rect x="372.85" y="50.62" width="10.85" height="5.54" fill="#4976bd"/><rect x="383.70" y="50.62" width="10.85" height="5.54" fill="#3358a8"/><rect x="394.54" y="50.62" width="10.85" height="5.54" fill="#709dd1"/><rect x="405.39" y="50.62" width="10.85" height="5.54" fill="#86b2db"/><rect x="416.24" y="50.62" width="10.85" height="5.54" fill="#709dd1"/><rect x="427.09" y="50.62" width="10.85" height="5.54" fill="#eeb091"/><rect x="437.93" y="50.62" width="10.85" height="5.54" fill="#e1886c"/><rect x="448.78" y="50.62" width="10.85" height="5.54" fill="#eda786"/><rect x="459.63" y="50.62" width="10.85" height="5.54" fill="#dd7d63"/><rect x="470.48" y="50.62" width="10.85" height="5.54" fill="#d46853"/><rect x="481.33" y="50.62" width="10.85" height="5.54" fill="#f3d2bd"/><rect x="492.17" y="50.62" width="10.85" height="5.54" fill="#efb89c"/><rect x="503.02" y="50.62" width="10.85" height="5.54" fill="#f1d5c4"/><rect x="513.87" y="50.62" width="10.85" height="5.54" fill="#efb89c"/><rect x="524.72" y="50.62" width="10.85" height="5.54" fill="#f1c1a7"/><rect x="535.57" y="50.62" width="10.85" height="5.54" fill="#e8e3df"/><rect x="546.41" y="50.62" width="10.85" height="5.54" fill="#bcd6eb"/><rect x="557.26" y="50.62" width="10.85" height="5.54" fill="#f2c9b2"/><rect x="568.11" y="50.62" width="10.85" height="5.54" fill="#efb89c"/><rect x="578.96" y="50.62" width="10.85" height="5.54" fill="#eda786"/><rect x="589.80" y="50.62" width="10.85" height="5.54" fill="#eae0d8"/><rect x="600.65" y="50.62" width="10.85" height="5.54" fill="#cedbe6"/><rect x="362.00" y="56.16" width="10.85" height="5.54" fill="#709dd1"/><rect x="372.85" y="56.16" width="10.85" height="5.54" fill="#4e7ec2"/><rect x="383.70" y="56.16" width="10.85" height="5.54" fill="#4e7ec2"/><rect x="394.54" y="56.16" width="10.85" height="5.54" fill="#5988c7"/><rect x="405.39" y="56.16" width="10.85" height="5.54" fill="#436fb8"/><rect x="416.24" y="56.16" width="10.85" height="5.54" fill="#7ba8d6"/><rect x="427.09" y="56.16" width="10.85" height="5.54" fill="#eeb091"/><rect x="437.93" y="56.16" width="10.85" height="5.54" fill="#efb89c"/><rect x="448.78" y="56.16" width="10.85" height="5.54" fill="#eeb091"/><rect x="459.63" y="56.16" width="10.85" height="5.54" fill="#eda786"/><rect x="470.48" y="56.16" width="10.85" height="5.54" fill="#e99d7d"/><rect x="481.33" y="56.16" width="10.85" height="5.54" fill="#e99d7d"/><rect x="492.17" y="56.16" width="10.85" height="5.54" fill="#f3d2bd"/><rect x="503.02" y="56.16" width="10.85" height="5.54" fill="#efd9cb"/><rect x="513.87" y="56.16" width="10.85" height="5.54" fill="#efb89c"/><rect x="524.72" y="56.16" width="10.85" height="5.54" fill="#eda786"/><rect x="535.57" y="56.16" width="10.85" height="5.54" fill="#eae0d8"/><rect x="546.41" y="56.16" width="10.85" height="5.54" fill="#e1886c"/><rect x="557.26" y="56.16" width="10.85" height="5.54" fill="#b1cfe8"/><rect x="568.11" y="56.16" width="10.85" height="5.54" fill="#eeb091"/><rect x="578.96" y="56.16" width="10.85" height="5.54" fill="#eda786"/><rect x="589.80" y="56.16" width="10.85" height="5.54" fill="#e8e3df"/><rect x="600.65" y="56.16" width="10.85" height="5.54" fill="#ecdcd1"/><rect x="362.00" y="61.70" width="10.85" height="5.54" fill="#709dd1"/><rect x="372.85" y="61.70" width="10.85" height="5.54" fill="#4e7ec2"/><rect x="383.70" y="61.70" width="10.85" height="5.54" fill="#3358a8"/><rect x="394.54" y="61.70" width="10.85" height="5.54" fill="#6493cc"/><rect x="405.39" y="61.70" width="10.85" height="5.54" fill="#3e67b2"/><rect x="416.24" y="61.70" width="10.85" height="5.54" fill="#eda786"/><rect x="427.09" y="61.70" width="10.85" height="5.54" fill="#a6c8e5"/><rect x="437.93" y="61.70" width="10.85" height="5.54" fill="#f1c1a7"/><rect x="448.78" y="61.70" width="10.85" height="5.54" fill="#efb89c"/><rect x="459.63" y="61.70" width="10.85" height="5.54" fill="#eeb091"/><rect x="470.48" y="61.70" width="10.85" height="5.54" fill="#f1c1a7"/><rect x="481.33" y="61.70" width="10.85" height="5.54" fill="#f1c1a7"/><rect x="492.17" y="61.70" width="10.85" height="5.54" fill="#f1c1a7"/><rect x="503.02" y="61.70" width="10.85" height="5.54" fill="#f2c9b2"/><rect x="513.87" y="61.70" width="10.85" height="5.54" fill="#f2c9b2"/><rect x="524.72" y="61.70" width="10.85" height="5.54" fill="#f1c1a7"/><rect x="535.57" y="61.70" width="10.85" height="5.54" fill="#f2c9b2"/><rect x="546.41" y="61.70" width="10.85" height="5.54" fill="#f2c9b2"/><rect x="557.26" y="61.70" width="10.85" height="5.54" fill="#efb89c"/><rect x="568.11" y="61.70" width="10.85" height="5.54" fill="#f2c9b2"/><rect x="578.96" y="61.70" width="10.85" height="5.54" fill="#eeb091"/><rect x="589.80" y="61.70" width="10.85" height="5.54" fill="#e59274"/><rect x="600.65" y="61.70" width="10.85" height="5.54" fill="#eeb091"/><rect x="362.00" y="67.24" width="10.85" height="5.54" fill="#709dd1"/><rect x="372.85" y="67.24" width="10.85" height="5.54" fill="#5988c7"/><rect x="383.70" y="67.24" width="10.85" height="5.54" fill="#3358a8"/><rect x="394.54" y="67.24" width="10.85" height="5.54" fill="#436fb8"/><rect x="405.39" y="67.24" width="10.85" height="5.54" fill="#4976bd"/><rect x="416.24" y="67.24" width="10.85" height="5.54" fill="#efb89c"/><rect x="427.09" y="67.24" width="10.85" height="5.54" fill="#f2c9b2"/><rect x="437.93" y="67.24" width="10.85" height="5.54" fill="#eeb091"/><rect x="448.78" y="67.24" width="10.85" height="5.54" fill="#efb89c"/><rect x="459.63" y="67.24" width="10.85" height="5.54" fill="#efb89c"/><rect x="470.48" y="67.24" width="10.85" height="5.54" fill="#f1c1a7"/><rect x="481.33" y="67.24" width="10.85" height="5.54" fill="#f1c1a7"/><rect x="492.17" y="67.24" width="10.85" height="5.54" fill="#eeb091"/><rect x="503.02" y="67.24" width="10.85" height="5.54" fill="#f2c9b2"/><rect x="513.87" y="67.24" width="10.85" height="5.54" fill="#f2c9b2"/><rect x="524.72" y="67.24" width="10.85" height="5.54" fill="#f1c1a7"/><rect x="535.57" y="67.24" width="10.85" height="5.54" fill="#e8e3df"/><rect x="546.41" y="67.24" width="10.85" height="5.54" fill="#f3d2bd"/><rect x="557.26" y="67.24" width="10.85" height="5.54" fill="#f1c1a7"/><rect x="568.11" y="67.24" width="10.85" height="5.54" fill="#f1c1a7"/><rect x="578.96" y="67.24" width="10.85" height="5.54" fill="#f3d2bd"/><rect x="589.80" y="67.24" width="10.85" height="5.54" fill="#efb89c"/><rect x="600.65" y="67.24" width="10.85" height="5.54" fill="#eda786"/><rect x="362.00" y="72.78" width="10.85" height="5.54" fill="#709dd1"/><rect x="372.85" y="72.78" width="10.85" height="5.54" fill="#709dd1"/><rect x="383.70" y="72.78" width="10.85" height="5.54" fill="#6493cc"/><rect x="394.54" y="72.78" width="10.85" height="5.54" fill="#436fb8"/><rect x="405.39" y="72.78" width="10.85" height="5.54" fill="#1c2d6b"/><rect x="416.24" y="72.78" width="10.85" height="5.54" fill="#e99d7d"/><rect x="427.09" y="72.78" width="10.85" height="5.54" fill="#e8e3df"/><rect x="437.93" y="72.78" width="10.85" height="5.54" fill="#f3d2bd"/><rect x="448.78" y="72.78" width="10.85" height="5.54" fill="#eeb091"/><rect x="459.63" y="72.78" width="10.85" height="5.54" fill="#f2c9b2"/><rect x="470.48" y="72.78" width="10.85" height="5.54" fill="#f2c9b2"/><rect x="481.33" y="72.78" width="10.85" height="5.54" fill="#eeb091"/><rect x="492.17" y="72.78" width="10.85" height="5.54" fill="#efb89c"/><rect x="503.02" y="72.78" width="10.85" height="5.54" fill="#efb89c"/><rect x="513.87" y="72.78" width="10.85" height="5.54" fill="#f2c9b2"/><rect x="524.72" y="72.78" width="10.85" height="5.54" fill="#efb89c"/><rect x="535.57" y="72.78" width="10.85" height="5.54" fill="#eda786"/><rect x="546.41" y="72.78" width="10.85" height="5.54" fill="#f2c9b2"/><rect x="557.26" y="72.78" width="10.85" height="5.54" fill="#f1c1a7"/><rect x="568.11" y="72.78" width="10.85" height="5.54" fill="#f1d5c4"/><rect x="578.96" y="72.78" width="10.85" height="5.54" fill="#dfe0e1"/><rect x="589.80" y="72.78" width="10.85" height="5.54" fill="#f1d5c4"/><rect x="600.65" y="72.78" width="10.85" height="5.54" fill="#efb89c"/><rect x="362.00" y="78.32" width="10.85" height="5.54" fill="#709dd1"/><rect x="372.85" y="78.32" width="10.85" height="5.54" fill="#86b2db"/><rect x="383.70" y="78.32" width="10.85" height="5.54" fill="#3358a8"/><rect x="394.54" y="78.32" width="10.85" height="5.54" fill="#5988c7"/><rect x="405.39" y="78.32" width="10.85" height="5.54" fill="#2a4790"/><rect x="416.24" y="78.32" width="10.85" height="5.54" fill="#efb89c"/><rect x="427.09" y="78.32" width="10.85" height="5.54" fill="#ecdcd1"/><rect x="437.93" y="78.32" width="10.85" height="5.54" fill="#f3d2bd"/><rect x="448.78" y="78.32" width="10.85" height="5.54" fill="#f1c1a7"/><rect x="459.63" y="78.32" width="10.85" height="5.54" fill="#f1c1a7"/><rect x="470.48" y="78.32" width="10.85" height="5.54" fill="#e1886c"/><rect x="481.33" y="78.32" width="10.85" height="5.54" fill="#eeb091"/><rect x="492.17" y="78.32" width="10.85" height="5.54" fill="#eeb091"/><rect x="503.02" y="78.32" width="10.85" height="5.54" fill="#e99d7d"/><rect x="513.87" y="78.32" width="10.85" height="5.54" fill="#f2c9b2"/><rect x="524.72" y="78.32" width="10.85" height="5.54" fill="#d9735a"/><rect x="535.57" y="78.32" width="10.85" height="5.54" fill="#eae0d8"/><rect x="546.41" y="78.32" width="10.85" height="5.54" fill="#eae0d8"/><rect x="557.26" y="78.32" width="10.85" height="5.54" fill="#dfe0e1"/><rect x="568.11" y="78.32" width="10.85" height="5.54" fill="#eeb091"/><rect x="578.96" y="78.32" width="10.85" height="5.54" fill="#e8e3df"/><rect x="589.80" y="78.32" width="10.85" height="5.54" fill="#eae0d8"/><rect x="600.65" y="78.32" width="10.85" height="5.54" fill="#ecdcd1"/><rect x="362.00" y="83.86" width="10.85" height="5.54" fill="#709dd1"/><rect x="372.85" y="83.86" width="10.85" height="5.54" fill="#5988c7"/><rect x="383.70" y="83.86" width="10.85" height="5.54" fill="#2e4f9c"/><rect x="394.54" y="83.86" width="10.85" height="5.54" fill="#4e7ec2"/><rect x="405.39" y="83.86" width="10.85" height="5.54" fill="#436fb8"/><rect x="416.24" y="83.86" width="10.85" height="5.54" fill="#efb89c"/><rect x="427.09" y="83.86" width="10.85" height="5.54" fill="#efd9cb"/><rect x="437.93" y="83.86" width="10.85" height="5.54" fill="#f3d2bd"/><rect x="448.78" y="83.86" width="10.85" height="5.54" fill="#efb89c"/><rect x="459.63" y="83.86" width="10.85" height="5.54" fill="#f2c9b2"/><rect x="470.48" y="83.86" width="10.85" height="5.54" fill="#efb89c"/><rect x="481.33" y="83.86" width="10.85" height="5.54" fill="#f1c1a7"/><rect x="492.17" y="83.86" width="10.85" height="5.54" fill="#efb89c"/><rect x="503.02" y="83.86" width="10.85" height="5.54" fill="#eda786"/><rect x="513.87" y="83.86" width="10.85" height="5.54" fill="#f3d2bd"/><rect x="524.72" y="83.86" width="10.85" height="5.54" fill="#eeb091"/><rect x="535.57" y="83.86" width="10.85" height="5.54" fill="#eeb091"/><rect x="546.41" y="83.86" width="10.85" height="5.54" fill="#efb89c"/><rect x="557.26" y="83.86" width="10.85" height="5.54" fill="#c5d9e9"/><rect x="568.11" y="83.86" width="10.85" height="5.54" fill="#e99d7d"/><rect x="578.96" y="83.86" width="10.85" height="5.54" fill="#eeb091"/><rect x="589.80" y="83.86" width="10.85" height="5.54" fill="#b1cfe8"/><rect x="600.65" y="83.86" width="10.85" height="5.54" fill="#efb89c"/><rect x="362.00" y="89.40" width="10.85" height="5.54" fill="#4e7ec2"/><rect x="372.85" y="89.40" width="10.85" height="5.54" fill="#709dd1"/><rect x="383.70" y="89.40" width="10.85" height="5.54" fill="#4e7ec2"/><rect x="394.54" y="89.40" width="10.85" height="5.54" fill="#4e7ec2"/><rect x="405.39" y="89.40" width="10.85" height="5.54" fill="#436fb8"/><rect x="416.24" y="89.40" width="10.85" height="5.54" fill="#e59274"/><rect x="427.09" y="89.40" width="10.85" height="5.54" fill="#bcd6eb"/><rect x="437.93" y="89.40" width="10.85" height="5.54" fill="#efd9cb"/><rect x="448.78" y="89.40" width="10.85" height="5.54" fill="#efb89c"/><rect x="459.63" y="89.40" width="10.85" height="5.54" fill="#d46853"/><rect x="470.48" y="89.40" width="10.85" height="5.54" fill="#eeb091"/><rect x="481.33" y="89.40" width="10.85" height="5.54" fill="#eda786"/><rect x="492.17" y="89.40" width="10.85" height="5.54" fill="#91b9de"/><rect x="503.02" y="89.40" width="10.85" height="5.54" fill="#e1886c"/><rect x="513.87" y="89.40" width="10.85" height="5.54" fill="#f1c1a7"/><rect x="524.72" y="89.40" width="10.85" height="5.54" fill="#eeb091"/><rect x="535.57" y="89.40" width="10.85" height="5.54" fill="#efb89c"/><rect x="546.41" y="89.40" width="10.85" height="5.54" fill="#f1d5c4"/><rect x="557.26" y="89.40" width="10.85" height="5.54" fill="#91b9de"/><rect x="568.11" y="89.40" width="10.85" height="5.54" fill="#eae0d8"/><rect x="578.96" y="89.40" width="10.85" height="5.54" fill="#efb89c"/><rect x="589.80" y="89.40" width="10.85" height="5.54" fill="#f1c1a7"/><rect x="600.65" y="89.40" width="10.85" height="5.54" fill="#efd9cb"/><rect x="362.00" y="94.94" width="10.85" height="5.54" fill="#709dd1"/><rect x="372.85" y="94.94" width="10.85" height="5.54" fill="#6493cc"/><rect x="383.70" y="94.94" width="10.85" height="5.54" fill="#4e7ec2"/><rect x="394.54" y="94.94" width="10.85" height="5.54" fill="#4e7ec2"/><rect x="405.39" y="94.94" width="10.85" height="5.54" fill="#3e67b2"/><rect x="416.24" y="94.94" width="10.85" height="5.54" fill="#f3d2bd"/><rect x="427.09" y="94.94" width="10.85" height="5.54" fill="#efb89c"/><rect x="437.93" y="94.94" width="10.85" height="5.54" fill="#eda786"/><rect x="448.78" y="94.94" width="10.85" height="5.54" fill="#ecdcd1"/><rect x="459.63" y="94.94" width="10.85" height="5.54" fill="#f1d5c4"/><rect x="470.48" y="94.94" width="10.85" height="5.54" fill="#f1d5c4"/><rect x="481.33" y="94.94" width="10.85" height="5.54" fill="#4e7ec2"/><rect x="492.17" y="94.94" width="10.85" height="5.54" fill="#f2c9b2"/><rect x="503.02" y="94.94" width="10.85" height="5.54" fill="#eda786"/><rect x="513.87" y="94.94" width="10.85" height="5.54" fill="#f2c9b2"/><rect x="524.72" y="94.94" width="10.85" height="5.54" fill="#eeb091"/><rect x="535.57" y="94.94" width="10.85" height="5.54" fill="#e59274"/><rect x="546.41" y="94.94" width="10.85" height="5.54" fill="#e99d7d"/><rect x="557.26" y="94.94" width="10.85" height="5.54" fill="#f2c9b2"/><rect x="568.11" y="94.94" width="10.85" height="5.54" fill="#eeb091"/><rect x="578.96" y="94.94" width="10.85" height="5.54" fill="#eda786"/><rect x="589.80" y="94.94" width="10.85" height="5.54" fill="#efb89c"/><rect x="600.65" y="94.94" width="10.85" height="5.54" fill="#f1d5c4"/><rect x="362.00" y="100.48" width="10.85" height="5.54" fill="#436fb8"/><rect x="372.85" y="100.48" width="10.85" height="5.54" fill="#709dd1"/><rect x="383.70" y="100.48" width="10.85" height="5.54" fill="#5988c7"/><rect x="394.54" y="100.48" width="10.85" height="5.54" fill="#3860ad"/><rect x="405.39" y="100.48" width="10.85" height="5.54" fill="#709dd1"/><rect x="416.24" y="100.48" width="10.85" height="5.54" fill="#e8e3df"/><rect x="427.09" y="100.48" width="10.85" height="5.54" fill="#efb89c"/><rect x="437.93" y="100.48" width="10.85" height="5.54" fill="#cedbe6"/><rect x="448.78" y="100.48" width="10.85" height="5.54" fill="#f3d2bd"/><rect x="459.63" y="100.48" width="10.85" height="5.54" fill="#eeb091"/><rect x="470.48" y="100.48" width="10.85" height="5.54" fill="#efb89c"/><rect x="481.33" y="100.48" width="10.85" height="5.54" fill="#bcd6eb"/><rect x="492.17" y="100.48" width="10.85" height="5.54" fill="#eda786"/><rect x="503.02" y="100.48" width="10.85" height="5.54" fill="#eae0d8"/><rect x="513.87" y="100.48" width="10.85" height="5.54" fill="#eeb091"/><rect x="524.72" y="100.48" width="10.85" height="5.54" fill="#efb89c"/><rect x="535.57" y="100.48" width="10.85" height="5.54" fill="#efb89c"/><rect x="546.41" y="100.48" width="10.85" height="5.54" fill="#efb89c"/><rect x="557.26" y="100.48" width="10.85" height="5.54" fill="#f1c1a7"/><rect x="568.11" y="100.48" width="10.85" height="5.54" fill="#eeb091"/><rect x="578.96" y="100.48" width="10.85" height="5.54" fill="#eda786"/><rect x="589.80" y="100.48" width="10.85" height="5.54" fill="#eda786"/><rect x="600.65" y="100.48" width="10.85" height="5.54" fill="#efb89c"/><rect x="362.00" y="106.02" width="10.85" height="5.54" fill="#6493cc"/><rect x="372.85" y="106.02" width="10.85" height="5.54" fill="#4976bd"/><rect x="383.70" y="106.02" width="10.85" height="5.54" fill="#1c2d6b"/><rect x="394.54" y="106.02" width="10.85" height="5.54" fill="#4e7ec2"/><rect x="405.39" y="106.02" width="10.85" height="5.54" fill="#91b9de"/><rect x="416.24" y="106.02" width="10.85" height="5.54" fill="#efd9cb"/><rect x="427.09" y="106.02" width="10.85" height="5.54" fill="#efd9cb"/><rect x="437.93" y="106.02" width="10.85" height="5.54" fill="#eda786"/><rect x="448.78" y="106.02" width="10.85" height="5.54" fill="#efd9cb"/><rect x="459.63" y="106.02" width="10.85" height="5.54" fill="#eeb091"/><rect x="470.48" y="106.02" width="10.85" height="5.54" fill="#e59274"/><rect x="481.33" y="106.02" width="10.85" height="5.54" fill="#f2c9b2"/><rect x="492.17" y="106.02" width="10.85" height="5.54" fill="#efb89c"/><rect x="503.02" y="106.02" width="10.85" height="5.54" fill="#f1c1a7"/><rect x="513.87" y="106.02" width="10.85" height="5.54" fill="#cedbe6"/><rect x="524.72" y="106.02" width="10.85" height="5.54" fill="#f3d2bd"/><rect x="535.57" y="106.02" width="10.85" height="5.54" fill="#c5d9e9"/><rect x="546.41" y="106.02" width="10.85" height="5.54" fill="#f1d5c4"/><rect x="557.26" y="106.02" width="10.85" height="5.54" fill="#eda786"/><rect x="568.11" y="106.02" width="10.85" height="5.54" fill="#efd9cb"/><rect x="578.96" y="106.02" width="10.85" height="5.54" fill="#f1d5c4"/><rect x="589.80" y="106.02" width="10.85" height="5.54" fill="#efb89c"/><rect x="600.65" y="106.02" width="10.85" height="5.54" fill="#e1886c"/><rect x="362.00" y="111.56" width="10.85" height="5.54" fill="#709dd1"/><rect x="372.85" y="111.56" width="10.85" height="5.54" fill="#4976bd"/><rect x="383.70" y="111.56" width="10.85" height="5.54" fill="#253e83"/><rect x="394.54" y="111.56" width="10.85" height="5.54" fill="#6493cc"/><rect x="405.39" y="111.56" width="10.85" height="5.54" fill="#86b2db"/><rect x="416.24" y="111.56" width="10.85" height="5.54" fill="#f3d2bd"/><rect x="427.09" y="111.56" width="10.85" height="5.54" fill="#ecdcd1"/><rect x="437.93" y="111.56" width="10.85" height="5.54" fill="#eda786"/><rect x="448.78" y="111.56" width="10.85" height="5.54" fill="#eeb091"/><rect x="459.63" y="111.56" width="10.85" height="5.54" fill="#eeb091"/><rect x="470.48" y="111.56" width="10.85" height="5.54" fill="#f2c9b2"/><rect x="481.33" y="111.56" width="10.85" height="5.54" fill="#c5d9e9"/><rect x="492.17" y="111.56" width="10.85" height="5.54" fill="#efb89c"/><rect x="503.02" y="111.56" width="10.85" height="5.54" fill="#f2c9b2"/><rect x="513.87" y="111.56" width="10.85" height="5.54" fill="#ecdcd1"/><rect x="524.72" y="111.56" width="10.85" height="5.54" fill="#f2c9b2"/><rect x="535.57" y="111.56" width="10.85" height="5.54" fill="#f1c1a7"/><rect x="546.41" y="111.56" width="10.85" height="5.54" fill="#eeb091"/><rect x="557.26" y="111.56" width="10.85" height="5.54" fill="#efb89c"/><rect x="568.11" y="111.56" width="10.85" height="5.54" fill="#efb89c"/><rect x="578.96" y="111.56" width="10.85" height="5.54" fill="#eeb091"/><rect x="589.80" y="111.56" width="10.85" height="5.54" fill="#efb89c"/><rect x="600.65" y="111.56" width="10.85" height="5.54" fill="#eda786"/><rect x="362.00" y="117.10" width="10.85" height="5.54" fill="#86b2db"/><rect x="372.85" y="117.10" width="10.85" height="5.54" fill="#4e7ec2"/><rect x="383.70" y="117.10" width="10.85" height="5.54" fill="#3358a8"/><rect x="394.54" y="117.10" width="10.85" height="5.54" fill="#6493cc"/><rect x="405.39" y="117.10" width="10.85" height="5.54" fill="#86b2db"/><rect x="416.24" y="117.10" width="10.85" height="5.54" fill="#f2c9b2"/><rect x="427.09" y="117.10" width="10.85" height="5.54" fill="#f3d2bd"/><rect x="437.93" y="117.10" width="10.85" height="5.54" fill="#eeb091"/><rect x="448.78" y="117.10" width="10.85" height="5.54" fill="#f1c1a7"/><rect x="459.63" y="117.10" width="10.85" height="5.54" fill="#eeb091"/><rect x="470.48" y="117.10" width="10.85" height="5.54" fill="#f3d2bd"/><rect x="481.33" y="117.10" width="10.85" height="5.54" fill="#c5d9e9"/><rect x="492.17" y="117.10" width="10.85" height="5.54" fill="#efd9cb"/><rect x="503.02" y="117.10" width="10.85" height="5.54" fill="#eda786"/><rect x="513.87" y="117.10" width="10.85" height="5.54" fill="#a6c8e5"/><rect x="524.72" y="117.10" width="10.85" height="5.54" fill="#f2c9b2"/><rect x="535.57" y="117.10" width="10.85" height="5.54" fill="#f2c9b2"/><rect x="546.41" y="117.10" width="10.85" height="5.54" fill="#eeb091"/><rect x="557.26" y="117.10" width="10.85" height="5.54" fill="#f2c9b2"/><rect x="568.11" y="117.10" width="10.85" height="5.54" fill="#efb89c"/><rect x="578.96" y="117.10" width="10.85" height="5.54" fill="#efb89c"/><rect x="589.80" y="117.10" width="10.85" height="5.54" fill="#f1c1a7"/><rect x="600.65" y="117.10" width="10.85" height="5.54" fill="#eda786"/><rect x="362.00" y="122.64" width="10.85" height="5.54" fill="#86b2db"/><rect x="372.85" y="122.64" width="10.85" height="5.54" fill="#4976bd"/><rect x="383.70" y="122.64" width="10.85" height="5.54" fill="#3e67b2"/><rect x="394.54" y="122.64" width="10.85" height="5.54" fill="#5988c7"/><rect x="405.39" y="122.64" width="10.85" height="5.54" fill="#709dd1"/><rect x="416.24" y="122.64" width="10.85" height="5.54" fill="#d9735a"/><rect x="427.09" y="122.64" width="10.85" height="5.54" fill="#a6c8e5"/><rect x="437.93" y="122.64" width="10.85" height="5.54" fill="#d9735a"/><rect x="448.78" y="122.64" width="10.85" height="5.54" fill="#f1c1a7"/><rect x="459.63" y="122.64" width="10.85" height="5.54" fill="#efd9cb"/><rect x="470.48" y="122.64" width="10.85" height="5.54" fill="#e59274"/><rect x="481.33" y="122.64" width="10.85" height="5.54" fill="#f1d5c4"/><rect x="492.17" y="122.64" width="10.85" height="5.54" fill="#f1c1a7"/><rect x="503.02" y="122.64" width="10.85" height="5.54" fill="#dfe0e1"/><rect x="513.87" y="122.64" width="10.85" height="5.54" fill="#cedbe6"/><rect x="524.72" y="122.64" width="10.85" height="5.54" fill="#efd9cb"/><rect x="535.57" y="122.64" width="10.85" height="5.54" fill="#bcd6eb"/><rect x="546.41" y="122.64" width="10.85" height="5.54" fill="#f3d2bd"/><rect x="557.26" y="122.64" width="10.85" height="5.54" fill="#f3d2bd"/><rect x="568.11" y="122.64" width="10.85" height="5.54" fill="#f3d2bd"/><rect x="578.96" y="122.64" width="10.85" height="5.54" fill="#c5d9e9"/><rect x="589.80" y="122.64" width="10.85" height="5.54" fill="#eda786"/><rect x="600.65" y="122.64" width="10.85" height="5.54" fill="#e59274"/><rect x="362.00" y="128.18" width="10.85" height="5.54" fill="#4976bd"/><rect x="372.85" y="128.18" width="10.85" height="5.54" fill="#86b2db"/><rect x="383.70" y="128.18" width="10.85" height="5.54" fill="#2e4f9c"/><rect x="394.54" y="128.18" width="10.85" height="5.54" fill="#7ba8d6"/><rect x="405.39" y="128.18" width="10.85" height="5.54" fill="#4976bd"/><rect x="416.24" y="128.18" width="10.85" height="5.54" fill="#e1886c"/><rect x="427.09" y="128.18" width="10.85" height="5.54" fill="#9cc0e1"/><rect x="437.93" y="128.18" width="10.85" height="5.54" fill="#e1886c"/><rect x="448.78" y="128.18" width="10.85" height="5.54" fill="#cedbe6"/><rect x="459.63" y="128.18" width="10.85" height="5.54" fill="#f2c9b2"/><rect x="470.48" y="128.18" width="10.85" height="5.54" fill="#eda786"/><rect x="481.33" y="128.18" width="10.85" height="5.54" fill="#efb89c"/><rect x="492.17" y="128.18" width="10.85" height="5.54" fill="#efb89c"/><rect x="503.02" y="128.18" width="10.85" height="5.54" fill="#efb89c"/><rect x="513.87" y="128.18" width="10.85" height="5.54" fill="#efb89c"/><rect x="524.72" y="128.18" width="10.85" height="5.54" fill="#eda786"/><rect x="535.57" y="128.18" width="10.85" height="5.54" fill="#f2c9b2"/><rect x="546.41" y="128.18" width="10.85" height="5.54" fill="#eae0d8"/><rect x="557.26" y="128.18" width="10.85" height="5.54" fill="#efd9cb"/><rect x="568.11" y="128.18" width="10.85" height="5.54" fill="#efb89c"/><rect x="578.96" y="128.18" width="10.85" height="5.54" fill="#91b9de"/><rect x="589.80" y="128.18" width="10.85" height="5.54" fill="#f1d5c4"/><rect x="600.65" y="128.18" width="10.85" height="5.54" fill="#f3d2bd"/><rect x="362.00" y="133.72" width="10.85" height="5.54" fill="#86b2db"/><rect x="372.85" y="133.72" width="10.85" height="5.54" fill="#6493cc"/><rect x="383.70" y="133.72" width="10.85" height="5.54" fill="#2e4f9c"/><rect x="394.54" y="133.72" width="10.85" height="5.54" fill="#709dd1"/><rect x="405.39" y="133.72" width="10.85" height="5.54" fill="#5988c7"/><rect x="416.24" y="133.72" width="10.85" height="5.54" fill="#d46853"/><rect x="427.09" y="133.72" width="10.85" height="5.54" fill="#ecdcd1"/><rect x="437.93" y="133.72" width="10.85" height="5.54" fill="#eae0d8"/><rect x="448.78" y="133.72" width="10.85" height="5.54" fill="#f3d2bd"/><rect x="459.63" y="133.72" width="10.85" height="5.54" fill="#e1886c"/><rect x="470.48" y="133.72" width="10.85" height="5.54" fill="#eda786"/><rect x="481.33" y="133.72" width="10.85" height="5.54" fill="#efd9cb"/><rect x="492.17" y="133.72" width="10.85" height="5.54" fill="#d9735a"/><rect x="503.02" y="133.72" width="10.85" height="5.54" fill="#f1d5c4"/><rect x="513.87" y="133.72" width="10.85" height="5.54" fill="#b1cfe8"/><rect x="524.72" y="133.72" width="10.85" height="5.54" fill="#efd9cb"/><rect x="535.57" y="133.72" width="10.85" height="5.54" fill="#91b9de"/><rect x="546.41" y="133.72" width="10.85" height="5.54" fill="#f1d5c4"/><rect x="557.26" y="133.72" width="10.85" height="5.54" fill="#ecdcd1"/><rect x="568.11" y="133.72" width="10.85" height="5.54" fill="#dd7d63"/><rect x="578.96" y="133.72" width="10.85" height="5.54" fill="#f3d2bd"/><rect x="589.80" y="133.72" width="10.85" height="5.54" fill="#f1c1a7"/><rect x="600.65" y="133.72" width="10.85" height="5.54" fill="#f2c9b2"/><rect x="362.00" y="139.26" width="10.85" height="5.54" fill="#7ba8d6"/><rect x="372.85" y="139.26" width="10.85" height="5.54" fill="#4e7ec2"/><rect x="383.70" y="139.26" width="10.85" height="5.54" fill="#3358a8"/><rect x="394.54" y="139.26" width="10.85" height="5.54" fill="#4976bd"/><rect x="405.39" y="139.26" width="10.85" height="5.54" fill="#86b2db"/><rect x="416.24" y="139.26" width="10.85" height="5.54" fill="#dd7d63"/><rect x="427.09" y="139.26" width="10.85" height="5.54" fill="#f3d2bd"/><rect x="437.93" y="139.26" width="10.85" height="5.54" fill="#e8e3df"/><rect x="448.78" y="139.26" width="10.85" height="5.54" fill="#efb89c"/><rect x="459.63" y="139.26" width="10.85" height="5.54" fill="#efb89c"/><rect x="470.48" y="139.26" width="10.85" height="5.54" fill="#dd7d63"/><rect x="481.33" y="139.26" width="10.85" height="5.54" fill="#efb89c"/><rect x="492.17" y="139.26" width="10.85" height="5.54" fill="#efd9cb"/><rect x="503.02" y="139.26" width="10.85" height="5.54" fill="#f1d5c4"/><rect x="513.87" y="139.26" width="10.85" height="5.54" fill="#efd9cb"/><rect x="524.72" y="139.26" width="10.85" height="5.54" fill="#f3d2bd"/><rect x="535.57" y="139.26" width="10.85" height="5.54" fill="#91b9de"/><rect x="546.41" y="139.26" width="10.85" height="5.54" fill="#ecdcd1"/><rect x="557.26" y="139.26" width="10.85" height="5.54" fill="#d9735a"/><rect x="568.11" y="139.26" width="10.85" height="5.54" fill="#eda786"/><rect x="578.96" y="139.26" width="10.85" height="5.54" fill="#e8e3df"/><rect x="589.80" y="139.26" width="10.85" height="5.54" fill="#f3d2bd"/><rect x="600.65" y="139.26" width="10.85" height="5.54" fill="#efb89c"/><rect x="362.00" y="144.80" width="10.85" height="5.54" fill="#86b2db"/><rect x="372.85" y="144.80" width="10.85" height="5.54" fill="#3358a8"/><rect x="383.70" y="144.80" width="10.85" height="5.54" fill="#3e67b2"/><rect x="394.54" y="144.80" width="10.85" height="5.54" fill="#bcd6eb"/><rect x="405.39" y="144.80" width="10.85" height="5.54" fill="#86b2db"/><rect x="416.24" y="144.80" width="10.85" height="5.54" fill="#c74840"/><rect x="427.09" y="144.80" width="10.85" height="5.54" fill="#f3d2bd"/><rect x="437.93" y="144.80" width="10.85" height="5.54" fill="#f3d2bd"/><rect x="448.78" y="144.80" width="10.85" height="5.54" fill="#efb89c"/><rect x="459.63" y="144.80" width="10.85" height="5.54" fill="#eda786"/><rect x="470.48" y="144.80" width="10.85" height="5.54" fill="#dd7d63"/><rect x="481.33" y="144.80" width="10.85" height="5.54" fill="#e59274"/><rect x="492.17" y="144.80" width="10.85" height="5.54" fill="#d6dee4"/><rect x="503.02" y="144.80" width="10.85" height="5.54" fill="#b1cfe8"/><rect x="513.87" y="144.80" width="10.85" height="5.54" fill="#f2c9b2"/><rect x="524.72" y="144.80" width="10.85" height="5.54" fill="#eda786"/><rect x="535.57" y="144.80" width="10.85" height="5.54" fill="#b1cfe8"/><rect x="546.41" y="144.80" width="10.85" height="5.54" fill="#9cc0e1"/><rect x="557.26" y="144.80" width="10.85" height="5.54" fill="#e1886c"/><rect x="568.11" y="144.80" width="10.85" height="5.54" fill="#eae0d8"/><rect x="578.96" y="144.80" width="10.85" height="5.54" fill="#eae0d8"/><rect x="589.80" y="144.80" width="10.85" height="5.54" fill="#f1d5c4"/><rect x="600.65" y="144.80" width="10.85" height="5.54" fill="#d6dee4"/><rect x="362.00" y="150.34" width="10.85" height="5.54" fill="#709dd1"/><rect x="372.85" y="150.34" width="10.85" height="5.54" fill="#3860ad"/><rect x="383.70" y="150.34" width="10.85" height="5.54" fill="#3860ad"/><rect x="394.54" y="150.34" width="10.85" height="5.54" fill="#91b9de"/><rect x="405.39" y="150.34" width="10.85" height="5.54" fill="#4976bd"/><rect x="416.24" y="150.34" width="10.85" height="5.54" fill="#e99d7d"/><rect x="427.09" y="150.34" width="10.85" height="5.54" fill="#eae0d8"/><rect x="437.93" y="150.34" width="10.85" height="5.54" fill="#ecdcd1"/><rect x="448.78" y="150.34" width="10.85" height="5.54" fill="#ecdcd1"/><rect x="459.63" y="150.34" width="10.85" height="5.54" fill="#f3d2bd"/><rect x="470.48" y="150.34" width="10.85" height="5.54" fill="#d46853"/><rect x="481.33" y="150.34" width="10.85" height="5.54" fill="#dd7d63"/><rect x="492.17" y="150.34" width="10.85" height="5.54" fill="#eae0d8"/><rect x="503.02" y="150.34" width="10.85" height="5.54" fill="#f1d5c4"/><rect x="513.87" y="150.34" width="10.85" height="5.54" fill="#e59274"/><rect x="524.72" y="150.34" width="10.85" height="5.54" fill="#e1886c"/><rect x="535.57" y="150.34" width="10.85" height="5.54" fill="#eae0d8"/><rect x="546.41" y="150.34" width="10.85" height="5.54" fill="#f3d2bd"/><rect x="557.26" y="150.34" width="10.85" height="5.54" fill="#e59274"/><rect x="568.11" y="150.34" width="10.85" height="5.54" fill="#f3d2bd"/><rect x="578.96" y="150.34" width="10.85" height="5.54" fill="#eae0d8"/><rect x="589.80" y="150.34" width="10.85" height="5.54" fill="#eae0d8"/><rect x="600.65" y="150.34" width="10.85" height="5.54" fill="#e8e3df"/><rect x="362.00" y="155.88" width="10.85" height="5.54" fill="#6493cc"/><rect x="372.85" y="155.88" width="10.85" height="5.54" fill="#7ba8d6"/><rect x="383.70" y="155.88" width="10.85" height="5.54" fill="#5988c7"/><rect x="394.54" y="155.88" width="10.85" height="5.54" fill="#4e7ec2"/><rect x="405.39" y="155.88" width="10.85" height="5.54" fill="#3e67b2"/><rect x="416.24" y="155.88" width="10.85" height="5.54" fill="#e99d7d"/><rect x="427.09" y="155.88" width="10.85" height="5.54" fill="#e8e3df"/><rect x="437.93" y="155.88" width="10.85" height="5.54" fill="#cedbe6"/><rect x="448.78" y="155.88" width="10.85" height="5.54" fill="#9cc0e1"/><rect x="459.63" y="155.88" width="10.85" height="5.54" fill="#eeb091"/><rect x="470.48" y="155.88" width="10.85" height="5.54" fill="#e1886c"/><rect x="481.33" y="155.88" width="10.85" height="5.54" fill="#9cc0e1"/><rect x="492.17" y="155.88" width="10.85" height="5.54" fill="#ecdcd1"/><rect x="503.02" y="155.88" width="10.85" height="5.54" fill="#f1c1a7"/><rect x="513.87" y="155.88" width="10.85" height="5.54" fill="#eae0d8"/><rect x="524.72" y="155.88" width="10.85" height="5.54" fill="#e1886c"/><rect x="535.57" y="155.88" width="10.85" height="5.54" fill="#eda786"/><rect x="546.41" y="155.88" width="10.85" height="5.54" fill="#e8e3df"/><rect x="557.26" y="155.88" width="10.85" height="5.54" fill="#c23d39"/><rect x="568.11" y="155.88" width="10.85" height="5.54" fill="#efb89c"/><rect x="578.96" y="155.88" width="10.85" height="5.54" fill="#efd9cb"/><rect x="589.80" y="155.88" width="10.85" height="5.54" fill="#ecdcd1"/><rect x="600.65" y="155.88" width="10.85" height="5.54" fill="#e1886c"/><rect x="362.00" y="161.42" width="10.85" height="5.54" fill="#4e7ec2"/><rect x="372.85" y="161.42" width="10.85" height="5.54" fill="#5988c7"/><rect x="383.70" y="161.42" width="10.85" height="5.54" fill="#4976bd"/><rect x="394.54" y="161.42" width="10.85" height="5.54" fill="#5988c7"/><rect x="405.39" y="161.42" width="10.85" height="5.54" fill="#709dd1"/><rect x="416.24" y="161.42" width="10.85" height="5.54" fill="#eda786"/><rect x="427.09" y="161.42" width="10.85" height="5.54" fill="#a6c8e5"/><rect x="437.93" y="161.42" width="10.85" height="5.54" fill="#f2c9b2"/><rect x="448.78" y="161.42" width="10.85" height="5.54" fill="#eae0d8"/><rect x="459.63" y="161.42" width="10.85" height="5.54" fill="#c23d39"/><rect x="470.48" y="161.42" width="10.85" height="5.54" fill="#d05d4d"/><rect x="481.33" y="161.42" width="10.85" height="5.54" fill="#cedbe6"/><rect x="492.17" y="161.42" width="10.85" height="5.54" fill="#eeb091"/><rect x="503.02" y="161.42" width="10.85" height="5.54" fill="#eae0d8"/><rect x="513.87" y="161.42" width="10.85" height="5.54" fill="#f1c1a7"/><rect x="524.72" y="161.42" width="10.85" height="5.54" fill="#e1886c"/><rect x="535.57" y="161.42" width="10.85" height="5.54" fill="#f1c1a7"/><rect x="546.41" y="161.42" width="10.85" height="5.54" fill="#efd9cb"/><rect x="557.26" y="161.42" width="10.85" height="5.54" fill="#eeb091"/><rect x="568.11" y="161.42" width="10.85" height="5.54" fill="#d6dee4"/><rect x="578.96" y="161.42" width="10.85" height="5.54" fill="#bcd6eb"/><rect x="589.80" y="161.42" width="10.85" height="5.54" fill="#ecdcd1"/><rect x="600.65" y="161.42" width="10.85" height="5.54" fill="#e8e3df"/><rect x="362.00" y="166.96" width="10.85" height="5.54" fill="#86b2db"/><rect x="372.85" y="166.96" width="10.85" height="5.54" fill="#86b2db"/><rect x="383.70" y="166.96" width="10.85" height="5.54" fill="#4e7ec2"/><rect x="394.54" y="166.96" width="10.85" height="5.54" fill="#6493cc"/><rect x="405.39" y="166.96" width="10.85" height="5.54" fill="#4976bd"/><rect x="416.24" y="166.96" width="10.85" height="5.54" fill="#8d1b2a"/><rect x="427.09" y="166.96" width="10.85" height="5.54" fill="#bcd6eb"/><rect x="437.93" y="166.96" width="10.85" height="5.54" fill="#f1d5c4"/><rect x="448.78" y="166.96" width="10.85" height="5.54" fill="#b1cfe8"/><rect x="459.63" y="166.96" width="10.85" height="5.54" fill="#eae0d8"/><rect x="470.48" y="166.96" width="10.85" height="5.54" fill="#efd9cb"/><rect x="481.33" y="166.96" width="10.85" height="5.54" fill="#eae0d8"/><rect x="492.17" y="166.96" width="10.85" height="5.54" fill="#e8e3df"/><rect x="503.02" y="166.96" width="10.85" height="5.54" fill="#eae0d8"/><rect x="513.87" y="166.96" width="10.85" height="5.54" fill="#9cc0e1"/><rect x="524.72" y="166.96" width="10.85" height="5.54" fill="#eae0d8"/><rect x="535.57" y="166.96" width="10.85" height="5.54" fill="#f3d2bd"/><rect x="546.41" y="166.96" width="10.85" height="5.54" fill="#f2c9b2"/><rect x="557.26" y="166.96" width="10.85" height="5.54" fill="#efb89c"/><rect x="568.11" y="166.96" width="10.85" height="5.54" fill="#e59274"/><rect x="578.96" y="166.96" width="10.85" height="5.54" fill="#eeb091"/><rect x="589.80" y="166.96" width="10.85" height="5.54" fill="#c23d39"/><rect x="600.65" y="166.96" width="10.85" height="5.54" fill="#e59274"/><rect x="362.00" y="172.50" width="10.85" height="5.54" fill="#4e7ec2"/><rect x="372.85" y="172.50" width="10.85" height="5.54" fill="#86b2db"/><rect x="383.70" y="172.50" width="10.85" height="5.54" fill="#436fb8"/><rect x="394.54" y="172.50" width="10.85" height="5.54" fill="#709dd1"/><rect x="405.39" y="172.50" width="10.85" height="5.54" fill="#709dd1"/><rect x="416.24" y="172.50" width="10.85" height="5.54" fill="#dd7d63"/><rect x="427.09" y="172.50" width="10.85" height="5.54" fill="#b1cfe8"/><rect x="437.93" y="172.50" width="10.85" height="5.54" fill="#efd9cb"/><rect x="448.78" y="172.50" width="10.85" height="5.54" fill="#eae0d8"/><rect x="459.63" y="172.50" width="10.85" height="5.54" fill="#f3d2bd"/><rect x="470.48" y="172.50" width="10.85" height="5.54" fill="#eae0d8"/><rect x="481.33" y="172.50" width="10.85" height="5.54" fill="#e8e3df"/><rect x="492.17" y="172.50" width="10.85" height="5.54" fill="#f1c1a7"/><rect x="503.02" y="172.50" width="10.85" height="5.54" fill="#f2c9b2"/><rect x="513.87" y="172.50" width="10.85" height="5.54" fill="#9cc0e1"/><rect x="524.72" y="172.50" width="10.85" height="5.54" fill="#f2c9b2"/><rect x="535.57" y="172.50" width="10.85" height="5.54" fill="#f3d2bd"/><rect x="546.41" y="172.50" width="10.85" height="5.54" fill="#f3d2bd"/><rect x="557.26" y="172.50" width="10.85" height="5.54" fill="#d05d4d"/><rect x="568.11" y="172.50" width="10.85" height="5.54" fill="#d9735a"/><rect x="578.96" y="172.50" width="10.85" height="5.54" fill="#ecdcd1"/><rect x="589.80" y="172.50" width="10.85" height="5.54" fill="#e99d7d"/><rect x="600.65" y="172.50" width="10.85" height="5.54" fill="#eeb091"/><rect x="362.00" y="178.04" width="10.85" height="5.54" fill="#86b2db"/><rect x="372.85" y="178.04" width="10.85" height="5.54" fill="#709dd1"/><rect x="383.70" y="178.04" width="10.85" height="5.54" fill="#3e67b2"/><rect x="394.54" y="178.04" width="10.85" height="5.54" fill="#4976bd"/><rect x="405.39" y="178.04" width="10.85" height="5.54" fill="#86b2db"/><rect x="416.24" y="178.04" width="10.85" height="5.54" fill="#efb89c"/><rect x="427.09" y="178.04" width="10.85" height="5.54" fill="#eae0d8"/><rect x="437.93" y="178.04" width="10.85" height="5.54" fill="#d9735a"/><rect x="448.78" y="178.04" width="10.85" height="5.54" fill="#efb89c"/><rect x="459.63" y="178.04" width="10.85" height="5.54" fill="#efb89c"/><rect x="470.48" y="178.04" width="10.85" height="5.54" fill="#eda786"/><rect x="481.33" y="178.04" width="10.85" height="5.54" fill="#efb89c"/><rect x="492.17" y="178.04" width="10.85" height="5.54" fill="#f1c1a7"/><rect x="503.02" y="178.04" width="10.85" height="5.54" fill="#e8e3df"/><rect x="513.87" y="178.04" width="10.85" height="5.54" fill="#bcd6eb"/><rect x="524.72" y="178.04" width="10.85" height="5.54" fill="#f2c9b2"/><rect x="535.57" y="178.04" width="10.85" height="5.54" fill="#709dd1"/><rect x="546.41" y="178.04" width="10.85" height="5.54" fill="#91b9de"/><rect x="557.26" y="178.04" width="10.85" height="5.54" fill="#f2c9b2"/><rect x="568.11" y="178.04" width="10.85" height="5.54" fill="#e8e3df"/><rect x="578.96" y="178.04" width="10.85" height="5.54" fill="#efb89c"/><rect x="589.80" y="178.04" width="10.85" height="5.54" fill="#e99d7d"/><rect x="600.65" y="178.04" width="10.85" height="5.54" fill="#e1886c"/><rect x="362.00" y="183.58" width="10.85" height="5.54" fill="#91b9de"/><rect x="372.85" y="183.58" width="10.85" height="5.54" fill="#91b9de"/><rect x="383.70" y="183.58" width="10.85" height="5.54" fill="#1c2d6b"/><rect x="394.54" y="183.58" width="10.85" height="5.54" fill="#4976bd"/><rect x="405.39" y="183.58" width="10.85" height="5.54" fill="#7ba8d6"/><rect x="416.24" y="183.58" width="10.85" height="5.54" fill="#f3d2bd"/><rect x="427.09" y="183.58" width="10.85" height="5.54" fill="#cedbe6"/><rect x="437.93" y="183.58" width="10.85" height="5.54" fill="#efb89c"/><rect x="448.78" y="183.58" width="10.85" height="5.54" fill="#efb89c"/><rect x="459.63" y="183.58" width="10.85" height="5.54" fill="#eda786"/><rect x="470.48" y="183.58" width="10.85" height="5.54" fill="#e59274"/><rect x="481.33" y="183.58" width="10.85" height="5.54" fill="#eda786"/><rect x="492.17" y="183.58" width="10.85" height="5.54" fill="#f2c9b2"/><rect x="503.02" y="183.58" width="10.85" height="5.54" fill="#f3d2bd"/><rect x="513.87" y="183.58" width="10.85" height="5.54" fill="#e8e3df"/><rect x="524.72" y="183.58" width="10.85" height="5.54" fill="#efb89c"/><rect x="535.57" y="183.58" width="10.85" height="5.54" fill="#86b2db"/><rect x="546.41" y="183.58" width="10.85" height="5.54" fill="#c5d9e9"/><rect x="557.26" y="183.58" width="10.85" height="5.54" fill="#f2c9b2"/><rect x="568.11" y="183.58" width="10.85" height="5.54" fill="#ecdcd1"/><rect x="578.96" y="183.58" width="10.85" height="5.54" fill="#f1c1a7"/><rect x="589.80" y="183.58" width="10.85" height="5.54" fill="#eda786"/><rect x="600.65" y="183.58" width="10.85" height="5.54" fill="#dd7d63"/><rect x="362.00" y="189.12" width="10.85" height="5.54" fill="#86b2db"/><rect x="372.85" y="189.12" width="10.85" height="5.54" fill="#9cc0e1"/><rect x="383.70" y="189.12" width="10.85" height="5.54" fill="#3860ad"/><rect x="394.54" y="189.12" width="10.85" height="5.54" fill="#4e7ec2"/><rect x="405.39" y="189.12" width="10.85" height="5.54" fill="#709dd1"/><rect x="416.24" y="189.12" width="10.85" height="5.54" fill="#e8e3df"/><rect x="427.09" y="189.12" width="10.85" height="5.54" fill="#f1c1a7"/><rect x="437.93" y="189.12" width="10.85" height="5.54" fill="#eda786"/><rect x="448.78" y="189.12" width="10.85" height="5.54" fill="#eda786"/><rect x="459.63" y="189.12" width="10.85" height="5.54" fill="#e59274"/><rect x="470.48" y="189.12" width="10.85" height="5.54" fill="#d9735a"/><rect x="481.33" y="189.12" width="10.85" height="5.54" fill="#dd7d63"/><rect x="492.17" y="189.12" width="10.85" height="5.54" fill="#f2c9b2"/><rect x="503.02" y="189.12" width="10.85" height="5.54" fill="#f2c9b2"/><rect x="513.87" y="189.12" width="10.85" height="5.54" fill="#d6dee4"/><rect x="524.72" y="189.12" width="10.85" height="5.54" fill="#efd9cb"/><rect x="535.57" y="189.12" width="10.85" height="5.54" fill="#709dd1"/><rect x="546.41" y="189.12" width="10.85" height="5.54" fill="#9cc0e1"/><rect x="557.26" y="189.12" width="10.85" height="5.54" fill="#f2c9b2"/><rect x="568.11" y="189.12" width="10.85" height="5.54" fill="#efd9cb"/><rect x="578.96" y="189.12" width="10.85" height="5.54" fill="#eae0d8"/><rect x="589.80" y="189.12" width="10.85" height="5.54" fill="#eda786"/><rect x="600.65" y="189.12" width="10.85" height="5.54" fill="#e59274"/><rect x="362.00" y="194.66" width="10.85" height="5.54" fill="#cedbe6"/><rect x="372.85" y="194.66" width="10.85" height="5.54" fill="#86b2db"/><rect x="383.70" y="194.66" width="10.85" height="5.54" fill="#6493cc"/><rect x="394.54" y="194.66" width="10.85" height="5.54" fill="#4e7ec2"/><rect x="405.39" y="194.66" width="10.85" height="5.54" fill="#86b2db"/><rect x="416.24" y="194.66" width="10.85" height="5.54" fill="#f3d2bd"/><rect x="427.09" y="194.66" width="10.85" height="5.54" fill="#f1c1a7"/><rect x="437.93" y="194.66" width="10.85" height="5.54" fill="#e59274"/><rect x="448.78" y="194.66" width="10.85" height="5.54" fill="#e59274"/><rect x="459.63" y="194.66" width="10.85" height="5.54" fill="#e99d7d"/><rect x="470.48" y="194.66" width="10.85" height="5.54" fill="#e1886c"/><rect x="481.33" y="194.66" width="10.85" height="5.54" fill="#eda786"/><rect x="492.17" y="194.66" width="10.85" height="5.54" fill="#eeb091"/><rect x="503.02" y="194.66" width="10.85" height="5.54" fill="#9cc0e1"/><rect x="513.87" y="194.66" width="10.85" height="5.54" fill="#efb89c"/><rect x="524.72" y="194.66" width="10.85" height="5.54" fill="#e1886c"/><rect x="535.57" y="194.66" width="10.85" height="5.54" fill="#86b2db"/><rect x="546.41" y="194.66" width="10.85" height="5.54" fill="#6493cc"/><rect x="557.26" y="194.66" width="10.85" height="5.54" fill="#f1d5c4"/><rect x="568.11" y="194.66" width="10.85" height="5.54" fill="#86b2db"/><rect x="578.96" y="194.66" width="10.85" height="5.54" fill="#d6dee4"/><rect x="589.80" y="194.66" width="10.85" height="5.54" fill="#f3d2bd"/><rect x="600.65" y="194.66" width="10.85" height="5.54" fill="#eda786"/><rect x="362.00" y="200.20" width="10.85" height="5.54" fill="#4976bd"/><rect x="372.85" y="200.20" width="10.85" height="5.54" fill="#3e67b2"/><rect x="383.70" y="200.20" width="10.85" height="5.54" fill="#4976bd"/><rect x="394.54" y="200.20" width="10.85" height="5.54" fill="#709dd1"/><rect x="405.39" y="200.20" width="10.85" height="5.54" fill="#9cc0e1"/><rect x="416.24" y="200.20" width="10.85" height="5.54" fill="#eeb091"/><rect x="427.09" y="200.20" width="10.85" height="5.54" fill="#eeb091"/><rect x="437.93" y="200.20" width="10.85" height="5.54" fill="#eda786"/><rect x="448.78" y="200.20" width="10.85" height="5.54" fill="#eeb091"/><rect x="459.63" y="200.20" width="10.85" height="5.54" fill="#eda786"/><rect x="470.48" y="200.20" width="10.85" height="5.54" fill="#e99d7d"/><rect x="481.33" y="200.20" width="10.85" height="5.54" fill="#eeb091"/><rect x="492.17" y="200.20" width="10.85" height="5.54" fill="#e99d7d"/><rect x="503.02" y="200.20" width="10.85" height="5.54" fill="#f1c1a7"/><rect x="513.87" y="200.20" width="10.85" height="5.54" fill="#f1d5c4"/><rect x="524.72" y="200.20" width="10.85" height="5.54" fill="#eae0d8"/><rect x="535.57" y="200.20" width="10.85" height="5.54" fill="#91b9de"/><rect x="546.41" y="200.20" width="10.85" height="5.54" fill="#709dd1"/><rect x="557.26" y="200.20" width="10.85" height="5.54" fill="#f1d5c4"/><rect x="568.11" y="200.20" width="10.85" height="5.54" fill="#ecdcd1"/><rect x="578.96" y="200.20" width="10.85" height="5.54" fill="#cedbe6"/><rect x="589.80" y="200.20" width="10.85" height="5.54" fill="#eeb091"/><rect x="600.65" y="200.20" width="10.85" height="5.54" fill="#eda786"/><rect x="362.00" y="205.74" width="10.85" height="5.54" fill="#709dd1"/><rect x="372.85" y="205.74" width="10.85" height="5.54" fill="#3358a8"/><rect x="383.70" y="205.74" width="10.85" height="5.54" fill="#3860ad"/><rect x="394.54" y="205.74" width="10.85" height="5.54" fill="#7ba8d6"/><rect x="405.39" y="205.74" width="10.85" height="5.54" fill="#9cc0e1"/><rect x="416.24" y="205.74" width="10.85" height="5.54" fill="#eda786"/><rect x="427.09" y="205.74" width="10.85" height="5.54" fill="#d05d4d"/><rect x="437.93" y="205.74" width="10.85" height="5.54" fill="#eda786"/><rect x="448.78" y="205.74" width="10.85" height="5.54" fill="#efb89c"/><rect x="459.63" y="205.74" width="10.85" height="5.54" fill="#e1886c"/><rect x="470.48" y="205.74" width="10.85" height="5.54" fill="#e59274"/><rect x="481.33" y="205.74" width="10.85" height="5.54" fill="#f3d2bd"/><rect x="492.17" y="205.74" width="10.85" height="5.54" fill="#efb89c"/><rect x="503.02" y="205.74" width="10.85" height="5.54" fill="#e8e3df"/><rect x="513.87" y="205.74" width="10.85" height="5.54" fill="#f1d5c4"/><rect x="524.72" y="205.74" width="10.85" height="5.54" fill="#f1d5c4"/><rect x="535.57" y="205.74" width="10.85" height="5.54" fill="#a6c8e5"/><rect x="546.41" y="205.74" width="10.85" height="5.54" fill="#9cc0e1"/><rect x="557.26" y="205.74" width="10.85" height="5.54" fill="#efd9cb"/><rect x="568.11" y="205.74" width="10.85" height="5.54" fill="#f3d2bd"/><rect x="578.96" y="205.74" width="10.85" height="5.54" fill="#f1d5c4"/><rect x="589.80" y="205.74" width="10.85" height="5.54" fill="#f3d2bd"/><rect x="600.65" y="205.74" width="10.85" height="5.54" fill="#eda786"/><rect x="362.00" y="211.28" width="10.85" height="5.54" fill="#6493cc"/><rect x="372.85" y="211.28" width="10.85" height="5.54" fill="#709dd1"/><rect x="383.70" y="211.28" width="10.85" height="5.54" fill="#4976bd"/><rect x="394.54" y="211.28" width="10.85" height="5.54" fill="#709dd1"/><rect x="405.39" y="211.28" width="10.85" height="5.54" fill="#b1cfe8"/><rect x="416.24" y="211.28" width="10.85" height="5.54" fill="#ecdcd1"/><rect x="427.09" y="211.28" width="10.85" height="5.54" fill="#eeb091"/><rect x="437.93" y="211.28" width="10.85" height="5.54" fill="#efb89c"/><rect x="448.78" y="211.28" width="10.85" height="5.54" fill="#f2c9b2"/><rect x="459.63" y="211.28" width="10.85" height="5.54" fill="#e59274"/><rect x="470.48" y="211.28" width="10.85" height="5.54" fill="#dd7d63"/><rect x="481.33" y="211.28" width="10.85" height="5.54" fill="#f2c9b2"/><rect x="492.17" y="211.28" width="10.85" height="5.54" fill="#eeb091"/><rect x="503.02" y="211.28" width="10.85" height="5.54" fill="#ecdcd1"/><rect x="513.87" y="211.28" width="10.85" height="5.54" fill="#ecdcd1"/><rect x="524.72" y="211.28" width="10.85" height="5.54" fill="#efd9cb"/><rect x="535.57" y="211.28" width="10.85" height="5.54" fill="#7ba8d6"/><rect x="546.41" y="211.28" width="10.85" height="5.54" fill="#9cc0e1"/><rect x="557.26" y="211.28" width="10.85" height="5.54" fill="#eae0d8"/><rect x="568.11" y="211.28" width="10.85" height="5.54" fill="#efd9cb"/><rect x="578.96" y="211.28" width="10.85" height="5.54" fill="#f2c9b2"/><rect x="589.80" y="211.28" width="10.85" height="5.54" fill="#f1d5c4"/><rect x="600.65" y="211.28" width="10.85" height="5.54" fill="#eda786"/><rect x="362.00" y="216.82" width="10.85" height="5.54" fill="#bcd6eb"/><rect x="372.85" y="216.82" width="10.85" height="5.54" fill="#b1cfe8"/><rect x="383.70" y="216.82" width="10.85" height="5.54" fill="#9cc0e1"/><rect x="394.54" y="216.82" width="10.85" height="5.54" fill="#86b2db"/><rect x="405.39" y="216.82" width="10.85" height="5.54" fill="#86b2db"/><rect x="416.24" y="216.82" width="10.85" height="5.54" fill="#f3d2bd"/><rect x="427.09" y="216.82" width="10.85" height="5.54" fill="#b1cfe8"/><rect x="437.93" y="216.82" width="10.85" height="5.54" fill="#bcd6eb"/><rect x="448.78" y="216.82" width="10.85" height="5.54" fill="#b1cfe8"/><rect x="459.63" y="216.82" width="10.85" height="5.54" fill="#4976bd"/><rect x="470.48" y="216.82" width="10.85" height="5.54" fill="#9cc0e1"/><rect x="481.33" y="216.82" width="10.85" height="5.54" fill="#eda786"/><rect x="492.17" y="216.82" width="10.85" height="5.54" fill="#f3d2bd"/><rect x="503.02" y="216.82" width="10.85" height="5.54" fill="#9cc0e1"/><rect x="513.87" y="216.82" width="10.85" height="5.54" fill="#b1cfe8"/><rect x="524.72" y="216.82" width="10.85" height="5.54" fill="#c5d9e9"/><rect x="535.57" y="216.82" width="10.85" height="5.54" fill="#d46853"/><rect x="546.41" y="216.82" width="10.85" height="5.54" fill="#f2c9b2"/><rect x="557.26" y="216.82" width="10.85" height="5.54" fill="#eae0d8"/><rect x="568.11" y="216.82" width="10.85" height="5.54" fill="#cb5346"/><rect x="578.96" y="216.82" width="10.85" height="5.54" fill="#cb5346"/><rect x="589.80" y="216.82" width="10.85" height="5.54" fill="#801226"/><rect x="600.65" y="216.82" width="10.85" height="5.54" fill="#f3d2bd"/><rect x="362.00" y="222.36" width="10.85" height="5.54" fill="#9cc0e1"/><rect x="372.85" y="222.36" width="10.85" height="5.54" fill="#9cc0e1"/><rect x="383.70" y="222.36" width="10.85" height="5.54" fill="#91b9de"/><rect x="394.54" y="222.36" width="10.85" height="5.54" fill="#9cc0e1"/><rect x="405.39" y="222.36" width="10.85" height="5.54" fill="#9cc0e1"/><rect x="416.24" y="222.36" width="10.85" height="5.54" fill="#a6c8e5"/><rect x="427.09" y="222.36" width="10.85" height="5.54" fill="#ecdcd1"/><rect x="437.93" y="222.36" width="10.85" height="5.54" fill="#a6c8e5"/><rect x="448.78" y="222.36" width="10.85" height="5.54" fill="#9cc0e1"/><rect x="459.63" y="222.36" width="10.85" height="5.54" fill="#f2c9b2"/><rect x="470.48" y="222.36" width="10.85" height="5.54" fill="#c5d9e9"/><rect x="481.33" y="222.36" width="10.85" height="5.54" fill="#9cc0e1"/><rect x="492.17" y="222.36" width="10.85" height="5.54" fill="#c5d9e9"/><rect x="503.02" y="222.36" width="10.85" height="5.54" fill="#a6c8e5"/><rect x="513.87" y="222.36" width="10.85" height="5.54" fill="#a6c8e5"/><rect x="524.72" y="222.36" width="10.85" height="5.54" fill="#bcd6eb"/><rect x="535.57" y="222.36" width="10.85" height="5.54" fill="#e59274"/><rect x="546.41" y="222.36" width="10.85" height="5.54" fill="#efb89c"/><rect x="557.26" y="222.36" width="10.85" height="5.54" fill="#b53435"/><rect x="568.11" y="222.36" width="10.85" height="5.54" fill="#d46853"/><rect x="578.96" y="222.36" width="10.85" height="5.54" fill="#dd7d63"/><rect x="589.80" y="222.36" width="10.85" height="5.54" fill="#801226"/><rect x="600.65" y="222.36" width="10.85" height="5.54" fill="#e8e3df"/><rect x="362.00" y="227.90" width="10.85" height="5.54" fill="#bcd6eb"/><rect x="372.85" y="227.90" width="10.85" height="5.54" fill="#9cc0e1"/><rect x="383.70" y="227.90" width="10.85" height="5.54" fill="#709dd1"/><rect x="394.54" y="227.90" width="10.85" height="5.54" fill="#c5d9e9"/><rect x="405.39" y="227.90" width="10.85" height="5.54" fill="#a6c8e5"/><rect x="416.24" y="227.90" width="10.85" height="5.54" fill="#f1d5c4"/><rect x="427.09" y="227.90" width="10.85" height="5.54" fill="#436fb8"/><rect x="437.93" y="227.90" width="10.85" height="5.54" fill="#86b2db"/><rect x="448.78" y="227.90" width="10.85" height="5.54" fill="#9cc0e1"/><rect x="459.63" y="227.90" width="10.85" height="5.54" fill="#91b9de"/><rect x="470.48" y="227.90" width="10.85" height="5.54" fill="#ecdcd1"/><rect x="481.33" y="227.90" width="10.85" height="5.54" fill="#eae0d8"/><rect x="492.17" y="227.90" width="10.85" height="5.54" fill="#ecdcd1"/><rect x="503.02" y="227.90" width="10.85" height="5.54" fill="#b1cfe8"/><rect x="513.87" y="227.90" width="10.85" height="5.54" fill="#b1cfe8"/><rect x="524.72" y="227.90" width="10.85" height="5.54" fill="#d6dee4"/><rect x="535.57" y="227.90" width="10.85" height="5.54" fill="#eeb091"/><rect x="546.41" y="227.90" width="10.85" height="5.54" fill="#e1886c"/><rect x="557.26" y="227.90" width="10.85" height="5.54" fill="#eeb091"/><rect x="568.11" y="227.90" width="10.85" height="5.54" fill="#801226"/><rect x="578.96" y="227.90" width="10.85" height="5.54" fill="#d05d4d"/><rect x="589.80" y="227.90" width="10.85" height="5.54" fill="#e1886c"/><rect x="600.65" y="227.90" width="10.85" height="5.54" fill="#e59274"/><rect x="362.00" y="233.44" width="10.85" height="5.54" fill="#9cc0e1"/><rect x="372.85" y="233.44" width="10.85" height="5.54" fill="#91b9de"/><rect x="383.70" y="233.44" width="10.85" height="5.54" fill="#91b9de"/><rect x="394.54" y="233.44" width="10.85" height="5.54" fill="#91b9de"/><rect x="405.39" y="233.44" width="10.85" height="5.54" fill="#9cc0e1"/><rect x="416.24" y="233.44" width="10.85" height="5.54" fill="#dfe0e1"/><rect x="427.09" y="233.44" width="10.85" height="5.54" fill="#a6c8e5"/><rect x="437.93" y="233.44" width="10.85" height="5.54" fill="#86b2db"/><rect x="448.78" y="233.44" width="10.85" height="5.54" fill="#a6c8e5"/><rect x="459.63" y="233.44" width="10.85" height="5.54" fill="#9cc0e1"/><rect x="470.48" y="233.44" width="10.85" height="5.54" fill="#e8e3df"/><rect x="481.33" y="233.44" width="10.85" height="5.54" fill="#a6c8e5"/><rect x="492.17" y="233.44" width="10.85" height="5.54" fill="#e8e3df"/><rect x="503.02" y="233.44" width="10.85" height="5.54" fill="#e8e3df"/><rect x="513.87" y="233.44" width="10.85" height="5.54" fill="#bcd6eb"/><rect x="524.72" y="233.44" width="10.85" height="5.54" fill="#cedbe6"/><rect x="535.57" y="233.44" width="10.85" height="5.54" fill="#d46853"/><rect x="546.41" y="233.44" width="10.85" height="5.54" fill="#e1886c"/><rect x="557.26" y="233.44" width="10.85" height="5.54" fill="#f1c1a7"/><rect x="568.11" y="233.44" width="10.85" height="5.54" fill="#8d1b2a"/><rect x="578.96" y="233.44" width="10.85" height="5.54" fill="#f2c9b2"/><rect x="589.80" y="233.44" width="10.85" height="5.54" fill="#c23d39"/><rect x="600.65" y="233.44" width="10.85" height="5.54" fill="#b53435"/><rect x="362.00" y="238.98" width="10.85" height="5.54" fill="#e8e3df"/><rect x="372.85" y="238.98" width="10.85" height="5.54" fill="#9cc0e1"/><rect x="383.70" y="238.98" width="10.85" height="5.54" fill="#9cc0e1"/><rect x="394.54" y="238.98" width="10.85" height="5.54" fill="#7ba8d6"/><rect x="405.39" y="238.98" width="10.85" height="5.54" fill="#cedbe6"/><rect x="416.24" y="238.98" width="10.85" height="5.54" fill="#9cc0e1"/><rect x="427.09" y="238.98" width="10.85" height="5.54" fill="#86b2db"/><rect x="437.93" y="238.98" width="10.85" height="5.54" fill="#9cc0e1"/><rect x="448.78" y="238.98" width="10.85" height="5.54" fill="#9cc0e1"/><rect x="459.63" y="238.98" width="10.85" height="5.54" fill="#9cc0e1"/><rect x="470.48" y="238.98" width="10.85" height="5.54" fill="#f1d5c4"/><rect x="481.33" y="238.98" width="10.85" height="5.54" fill="#9cc0e1"/><rect x="492.17" y="238.98" width="10.85" height="5.54" fill="#b1cfe8"/><rect x="503.02" y="238.98" width="10.85" height="5.54" fill="#91b9de"/><rect x="513.87" y="238.98" width="10.85" height="5.54" fill="#91b9de"/><rect x="524.72" y="238.98" width="10.85" height="5.54" fill="#f3d2bd"/><rect x="535.57" y="238.98" width="10.85" height="5.54" fill="#f2c9b2"/><rect x="546.41" y="238.98" width="10.85" height="5.54" fill="#efb89c"/><rect x="557.26" y="238.98" width="10.85" height="5.54" fill="#c23d39"/><rect x="568.11" y="238.98" width="10.85" height="5.54" fill="#c74840"/><rect x="578.96" y="238.98" width="10.85" height="5.54" fill="#e1886c"/><rect x="589.80" y="238.98" width="10.85" height="5.54" fill="#c23d39"/><rect x="600.65" y="238.98" width="10.85" height="5.54" fill="#c74840"/><rect x="362.00" y="244.52" width="10.85" height="5.54" fill="#91b9de"/><rect x="372.85" y="244.52" width="10.85" height="5.54" fill="#86b2db"/><rect x="383.70" y="244.52" width="10.85" height="5.54" fill="#709dd1"/><rect x="394.54" y="244.52" width="10.85" height="5.54" fill="#709dd1"/><rect x="405.39" y="244.52" width="10.85" height="5.54" fill="#9cc0e1"/><rect x="416.24" y="244.52" width="10.85" height="5.54" fill="#f3d2bd"/><rect x="427.09" y="244.52" width="10.85" height="5.54" fill="#86b2db"/><rect x="437.93" y="244.52" width="10.85" height="5.54" fill="#9cc0e1"/><rect x="448.78" y="244.52" width="10.85" height="5.54" fill="#86b2db"/><rect x="459.63" y="244.52" width="10.85" height="5.54" fill="#f2c9b2"/><rect x="470.48" y="244.52" width="10.85" height="5.54" fill="#f2c9b2"/><rect x="481.33" y="244.52" width="10.85" height="5.54" fill="#cedbe6"/><rect x="492.17" y="244.52" width="10.85" height="5.54" fill="#d6dee4"/><rect x="503.02" y="244.52" width="10.85" height="5.54" fill="#d6dee4"/><rect x="513.87" y="244.52" width="10.85" height="5.54" fill="#a6c8e5"/><rect x="524.72" y="244.52" width="10.85" height="5.54" fill="#9cc0e1"/><rect x="535.57" y="244.52" width="10.85" height="5.54" fill="#e1886c"/><rect x="546.41" y="244.52" width="10.85" height="5.54" fill="#e1886c"/><rect x="557.26" y="244.52" width="10.85" height="5.54" fill="#c23d39"/><rect x="568.11" y="244.52" width="10.85" height="5.54" fill="#d9735a"/><rect x="578.96" y="244.52" width="10.85" height="5.54" fill="#d9735a"/><rect x="589.80" y="244.52" width="10.85" height="5.54" fill="#dd7d63"/><rect x="600.65" y="244.52" width="10.85" height="5.54" fill="#e1886c"/><rect x="362.00" y="250.06" width="10.85" height="5.54" fill="#9cc0e1"/><rect x="372.85" y="250.06" width="10.85" height="5.54" fill="#91b9de"/><rect x="383.70" y="250.06" width="10.85" height="5.54" fill="#86b2db"/><rect x="394.54" y="250.06" width="10.85" height="5.54" fill="#91b9de"/><rect x="405.39" y="250.06" width="10.85" height="5.54" fill="#a6c8e5"/><rect x="416.24" y="250.06" width="10.85" height="5.54" fill="#f1d5c4"/><rect x="427.09" y="250.06" width="10.85" height="5.54" fill="#6493cc"/><rect x="437.93" y="250.06" width="10.85" height="5.54" fill="#6493cc"/><rect x="448.78" y="250.06" width="10.85" height="5.54" fill="#7ba8d6"/><rect x="459.63" y="250.06" width="10.85" height="5.54" fill="#9cc0e1"/><rect x="470.48" y="250.06" width="10.85" height="5.54" fill="#efb89c"/><rect x="481.33" y="250.06" width="10.85" height="5.54" fill="#cedbe6"/><rect x="492.17" y="250.06" width="10.85" height="5.54" fill="#efb89c"/><rect x="503.02" y="250.06" width="10.85" height="5.54" fill="#f2c9b2"/><rect x="513.87" y="250.06" width="10.85" height="5.54" fill="#bcd6eb"/><rect x="524.72" y="250.06" width="10.85" height="5.54" fill="#91b9de"/><rect x="535.57" y="250.06" width="10.85" height="5.54" fill="#e1886c"/><rect x="546.41" y="250.06" width="10.85" height="5.54" fill="#dd7d63"/><rect x="557.26" y="250.06" width="10.85" height="5.54" fill="#cb5346"/><rect x="568.11" y="250.06" width="10.85" height="5.54" fill="#cb5346"/><rect x="578.96" y="250.06" width="10.85" height="5.54" fill="#eda786"/><rect x="589.80" y="250.06" width="10.85" height="5.54" fill="#e59274"/><rect x="600.65" y="250.06" width="10.85" height="5.54" fill="#e1886c"/><rect x="362.00" y="255.60" width="10.85" height="5.54" fill="#d6dee4"/><rect x="372.85" y="255.60" width="10.85" height="5.54" fill="#c5d9e9"/><rect x="383.70" y="255.60" width="10.85" height="5.54" fill="#b1cfe8"/><rect x="394.54" y="255.60" width="10.85" height="5.54" fill="#bcd6eb"/><rect x="405.39" y="255.60" width="10.85" height="5.54" fill="#a6c8e5"/><rect x="416.24" y="255.60" width="10.85" height="5.54" fill="#dfe0e1"/><rect x="427.09" y="255.60" width="10.85" height="5.54" fill="#709dd1"/><rect x="437.93" y="255.60" width="10.85" height="5.54" fill="#4e7ec2"/><rect x="448.78" y="255.60" width="10.85" height="5.54" fill="#709dd1"/><rect x="459.63" y="255.60" width="10.85" height="5.54" fill="#b1cfe8"/><rect x="470.48" y="255.60" width="10.85" height="5.54" fill="#86b2db"/><rect x="481.33" y="255.60" width="10.85" height="5.54" fill="#ecdcd1"/><rect x="492.17" y="255.60" width="10.85" height="5.54" fill="#a6c8e5"/><rect x="503.02" y="255.60" width="10.85" height="5.54" fill="#91b9de"/><rect x="513.87" y="255.60" width="10.85" height="5.54" fill="#dfe0e1"/><rect x="524.72" y="255.60" width="10.85" height="5.54" fill="#e8e3df"/><rect x="535.57" y="255.60" width="10.85" height="5.54" fill="#c23d39"/><rect x="546.41" y="255.60" width="10.85" height="5.54" fill="#d9735a"/><rect x="557.26" y="255.60" width="10.85" height="5.54" fill="#c23d39"/><rect x="568.11" y="255.60" width="10.85" height="5.54" fill="#e99d7d"/><rect x="578.96" y="255.60" width="10.85" height="5.54" fill="#e99d7d"/><rect x="589.80" y="255.60" width="10.85" height="5.54" fill="#d9735a"/><rect x="600.65" y="255.60" width="10.85" height="5.54" fill="#e59274"/><rect x="362.00" y="261.14" width="10.85" height="5.54" fill="#d9735a"/><rect x="372.85" y="261.14" width="10.85" height="5.54" fill="#d9735a"/><rect x="383.70" y="261.14" width="10.85" height="5.54" fill="#dd7d63"/><rect x="394.54" y="261.14" width="10.85" height="5.54" fill="#dd7d63"/><rect x="405.39" y="261.14" width="10.85" height="5.54" fill="#dd7d63"/><rect x="416.24" y="261.14" width="10.85" height="5.54" fill="#bcd6eb"/><rect x="427.09" y="261.14" width="10.85" height="5.54" fill="#5988c7"/><rect x="437.93" y="261.14" width="10.85" height="5.54" fill="#91b9de"/><rect x="448.78" y="261.14" width="10.85" height="5.54" fill="#86b2db"/><rect x="459.63" y="261.14" width="10.85" height="5.54" fill="#9cc0e1"/><rect x="470.48" y="261.14" width="10.85" height="5.54" fill="#7ba8d6"/><rect x="481.33" y="261.14" width="10.85" height="5.54" fill="#f1d5c4"/><rect x="492.17" y="261.14" width="10.85" height="5.54" fill="#a6c8e5"/><rect x="503.02" y="261.14" width="10.85" height="5.54" fill="#7ba8d6"/><rect x="513.87" y="261.14" width="10.85" height="5.54" fill="#7ba8d6"/><rect x="524.72" y="261.14" width="10.85" height="5.54" fill="#86b2db"/><rect x="535.57" y="261.14" width="10.85" height="5.54" fill="#f1d5c4"/><rect x="546.41" y="261.14" width="10.85" height="5.54" fill="#e8e3df"/><rect x="557.26" y="261.14" width="10.85" height="5.54" fill="#801226"/><rect x="568.11" y="261.14" width="10.85" height="5.54" fill="#c5d9e9"/><rect x="578.96" y="261.14" width="10.85" height="5.54" fill="#d6dee4"/><rect x="589.80" y="261.14" width="10.85" height="5.54" fill="#c5d9e9"/><rect x="600.65" y="261.14" width="10.85" height="5.54" fill="#f1c1a7"/><rect x="362.00" y="266.68" width="10.85" height="5.54" fill="#d46853"/><rect x="372.85" y="266.68" width="10.85" height="5.54" fill="#d9735a"/><rect x="383.70" y="266.68" width="10.85" height="5.54" fill="#e59274"/><rect x="394.54" y="266.68" width="10.85" height="5.54" fill="#e59274"/><rect x="405.39" y="266.68" width="10.85" height="5.54" fill="#d9735a"/><rect x="416.24" y="266.68" width="10.85" height="5.54" fill="#9cc0e1"/><rect x="427.09" y="266.68" width="10.85" height="5.54" fill="#86b2db"/><rect x="437.93" y="266.68" width="10.85" height="5.54" fill="#91b9de"/><rect x="448.78" y="266.68" width="10.85" height="5.54" fill="#86b2db"/><rect x="459.63" y="266.68" width="10.85" height="5.54" fill="#9cc0e1"/><rect x="470.48" y="266.68" width="10.85" height="5.54" fill="#a6c8e5"/><rect x="481.33" y="266.68" width="10.85" height="5.54" fill="#f1d5c4"/><rect x="492.17" y="266.68" width="10.85" height="5.54" fill="#9cc0e1"/><rect x="503.02" y="266.68" width="10.85" height="5.54" fill="#6493cc"/><rect x="513.87" y="266.68" width="10.85" height="5.54" fill="#7ba8d6"/><rect x="524.72" y="266.68" width="10.85" height="5.54" fill="#7ba8d6"/><rect x="535.57" y="266.68" width="10.85" height="5.54" fill="#f3d2bd"/><rect x="546.41" y="266.68" width="10.85" height="5.54" fill="#f2c9b2"/><rect x="557.26" y="266.68" width="10.85" height="5.54" fill="#dd7d63"/><rect x="568.11" y="266.68" width="10.85" height="5.54" fill="#eae0d8"/><rect x="578.96" y="266.68" width="10.85" height="5.54" fill="#f1d5c4"/><rect x="589.80" y="266.68" width="10.85" height="5.54" fill="#91b9de"/><rect x="600.65" y="266.68" width="10.85" height="5.54" fill="#e99d7d"/><rect x="362.00" y="272.22" width="10.85" height="5.54" fill="#cb5346"/><rect x="372.85" y="272.22" width="10.85" height="5.54" fill="#d46853"/><rect x="383.70" y="272.22" width="10.85" height="5.54" fill="#d9735a"/><rect x="394.54" y="272.22" width="10.85" height="5.54" fill="#d9735a"/><rect x="405.39" y="272.22" width="10.85" height="5.54" fill="#d46853"/><rect x="416.24" y="272.22" width="10.85" height="5.54" fill="#6493cc"/><rect x="427.09" y="272.22" width="10.85" height="5.54" fill="#9cc0e1"/><rect x="437.93" y="272.22" width="10.85" height="5.54" fill="#f2c9b2"/><rect x="448.78" y="272.22" width="10.85" height="5.54" fill="#cedbe6"/><rect x="459.63" y="272.22" width="10.85" height="5.54" fill="#91b9de"/><rect x="470.48" y="272.22" width="10.85" height="5.54" fill="#bcd6eb"/><rect x="481.33" y="272.22" width="10.85" height="5.54" fill="#d6dee4"/><rect x="492.17" y="272.22" width="10.85" height="5.54" fill="#d6dee4"/><rect x="503.02" y="272.22" width="10.85" height="5.54" fill="#bcd6eb"/><rect x="513.87" y="272.22" width="10.85" height="5.54" fill="#9cc0e1"/><rect x="524.72" y="272.22" width="10.85" height="5.54" fill="#9cc0e1"/><rect x="535.57" y="272.22" width="10.85" height="5.54" fill="#dfe0e1"/><rect x="546.41" y="272.22" width="10.85" height="5.54" fill="#a6c8e5"/><rect x="557.26" y="272.22" width="10.85" height="5.54" fill="#4e7ec2"/><rect x="568.11" y="272.22" width="10.85" height="5.54" fill="#f3d2bd"/><rect x="578.96" y="272.22" width="10.85" height="5.54" fill="#a6c8e5"/><rect x="589.80" y="272.22" width="10.85" height="5.54" fill="#b1cfe8"/><rect x="600.65" y="272.22" width="10.85" height="5.54" fill="#eeb091"/><rect x="362.00" y="277.76" width="10.85" height="5.54" fill="#b53435"/><rect x="372.85" y="277.76" width="10.85" height="5.54" fill="#cb5346"/><rect x="383.70" y="277.76" width="10.85" height="5.54" fill="#e1886c"/><rect x="394.54" y="277.76" width="10.85" height="5.54" fill="#efd9cb"/><rect x="405.39" y="277.76" width="10.85" height="5.54" fill="#801226"/><rect x="416.24" y="277.76" width="10.85" height="5.54" fill="#e8e3df"/><rect x="427.09" y="277.76" width="10.85" height="5.54" fill="#f1d5c4"/><rect x="437.93" y="277.76" width="10.85" height="5.54" fill="#c5d9e9"/><rect x="448.78" y="277.76" width="10.85" height="5.54" fill="#bcd6eb"/><rect x="459.63" y="277.76" width="10.85" height="5.54" fill="#dfe0e1"/><rect x="470.48" y="277.76" width="10.85" height="5.54" fill="#cedbe6"/><rect x="481.33" y="277.76" width="10.85" height="5.54" fill="#e8e3df"/><rect x="492.17" y="277.76" width="10.85" height="5.54" fill="#9cc0e1"/><rect x="503.02" y="277.76" width="10.85" height="5.54" fill="#7ba8d6"/><rect x="513.87" y="277.76" width="10.85" height="5.54" fill="#91b9de"/><rect x="524.72" y="277.76" width="10.85" height="5.54" fill="#86b2db"/><rect x="535.57" y="277.76" width="10.85" height="5.54" fill="#7ba8d6"/><rect x="546.41" y="277.76" width="10.85" height="5.54" fill="#5988c7"/><rect x="557.26" y="277.76" width="10.85" height="5.54" fill="#eae0d8"/><rect x="568.11" y="277.76" width="10.85" height="5.54" fill="#86b2db"/><rect x="578.96" y="277.76" width="10.85" height="5.54" fill="#86b2db"/><rect x="589.80" y="277.76" width="10.85" height="5.54" fill="#e8e3df"/><rect x="600.65" y="277.76" width="10.85" height="5.54" fill="#eae0d8"/><rect x="362.00" y="283.30" width="10.85" height="5.54" fill="#d46853"/><rect x="372.85" y="283.30" width="10.85" height="5.54" fill="#dd7d63"/><rect x="383.70" y="283.30" width="10.85" height="5.54" fill="#dd7d63"/><rect x="394.54" y="283.30" width="10.85" height="5.54" fill="#f1c1a7"/><rect x="405.39" y="283.30" width="10.85" height="5.54" fill="#801226"/><rect x="416.24" y="283.30" width="10.85" height="5.54" fill="#f1d5c4"/><rect x="427.09" y="283.30" width="10.85" height="5.54" fill="#f1c1a7"/><rect x="437.93" y="283.30" width="10.85" height="5.54" fill="#dfe0e1"/><rect x="448.78" y="283.30" width="10.85" height="5.54" fill="#c5d9e9"/><rect x="459.63" y="283.30" width="10.85" height="5.54" fill="#c5d9e9"/><rect x="470.48" y="283.30" width="10.85" height="5.54" fill="#b1cfe8"/><rect x="481.33" y="283.30" width="10.85" height="5.54" fill="#efd9cb"/><rect x="492.17" y="283.30" width="10.85" height="5.54" fill="#91b9de"/><rect x="503.02" y="283.30" width="10.85" height="5.54" fill="#91b9de"/><rect x="513.87" y="283.30" width="10.85" height="5.54" fill="#eae0d8"/><rect x="524.72" y="283.30" width="10.85" height="5.54" fill="#86b2db"/><rect x="535.57" y="283.30" width="10.85" height="5.54" fill="#4976bd"/><rect x="546.41" y="283.30" width="10.85" height="5.54" fill="#4976bd"/><rect x="557.26" y="283.30" width="10.85" height="5.54" fill="#cedbe6"/><rect x="568.11" y="283.30" width="10.85" height="5.54" fill="#91b9de"/><rect x="578.96" y="283.30" width="10.85" height="5.54" fill="#a6c8e5"/><rect x="589.80" y="283.30" width="10.85" height="5.54" fill="#cedbe6"/><rect x="600.65" y="283.30" width="10.85" height="5.54" fill="#d6dee4"/><rect x="362.00" y="288.84" width="10.85" height="5.54" fill="#801226"/><rect x="372.85" y="288.84" width="10.85" height="5.54" fill="#d9735a"/><rect x="383.70" y="288.84" width="10.85" height="5.54" fill="#cb5346"/><rect x="394.54" y="288.84" width="10.85" height="5.54" fill="#eae0d8"/><rect x="405.39" y="288.84" width="10.85" height="5.54" fill="#d46853"/><rect x="416.24" y="288.84" width="10.85" height="5.54" fill="#f2c9b2"/><rect x="427.09" y="288.84" width="10.85" height="5.54" fill="#dfe0e1"/><rect x="437.93" y="288.84" width="10.85" height="5.54" fill="#cedbe6"/><rect x="448.78" y="288.84" width="10.85" height="5.54" fill="#b1cfe8"/><rect x="459.63" y="288.84" width="10.85" height="5.54" fill="#cedbe6"/><rect x="470.48" y="288.84" width="10.85" height="5.54" fill="#b1cfe8"/><rect x="481.33" y="288.84" width="10.85" height="5.54" fill="#cedbe6"/><rect x="492.17" y="288.84" width="10.85" height="5.54" fill="#9cc0e1"/><rect x="503.02" y="288.84" width="10.85" height="5.54" fill="#86b2db"/><rect x="513.87" y="288.84" width="10.85" height="5.54" fill="#7ba8d6"/><rect x="524.72" y="288.84" width="10.85" height="5.54" fill="#e8e3df"/><rect x="535.57" y="288.84" width="10.85" height="5.54" fill="#86b2db"/><rect x="546.41" y="288.84" width="10.85" height="5.54" fill="#a6c8e5"/><rect x="557.26" y="288.84" width="10.85" height="5.54" fill="#bcd6eb"/><rect x="568.11" y="288.84" width="10.85" height="5.54" fill="#f1d5c4"/><rect x="578.96" y="288.84" width="10.85" height="5.54" fill="#5988c7"/><rect x="589.80" y="288.84" width="10.85" height="5.54" fill="#b1cfe8"/><rect x="600.65" y="288.84" width="10.85" height="5.54" fill="#dfe0e1"/><rect x="362.00" y="294.38" width="10.85" height="5.54" fill="#d46853"/><rect x="372.85" y="294.38" width="10.85" height="5.54" fill="#d9735a"/><rect x="383.70" y="294.38" width="10.85" height="5.54" fill="#dd7d63"/><rect x="394.54" y="294.38" width="10.85" height="5.54" fill="#d9735a"/><rect x="405.39" y="294.38" width="10.85" height="5.54" fill="#d9735a"/><rect x="416.24" y="294.38" width="10.85" height="5.54" fill="#f1c1a7"/><rect x="427.09" y="294.38" width="10.85" height="5.54" fill="#eda786"/><rect x="437.93" y="294.38" width="10.85" height="5.54" fill="#f1d5c4"/><rect x="448.78" y="294.38" width="10.85" height="5.54" fill="#eeb091"/><rect x="459.63" y="294.38" width="10.85" height="5.54" fill="#a6c8e5"/><rect x="470.48" y="294.38" width="10.85" height="5.54" fill="#c5d9e9"/><rect x="481.33" y="294.38" width="10.85" height="5.54" fill="#f1d5c4"/><rect x="492.17" y="294.38" width="10.85" height="5.54" fill="#d6dee4"/><rect x="503.02" y="294.38" width="10.85" height="5.54" fill="#5988c7"/><rect x="513.87" y="294.38" width="10.85" height="5.54" fill="#86b2db"/><rect x="524.72" y="294.38" width="10.85" height="5.54" fill="#cedbe6"/><rect x="535.57" y="294.38" width="10.85" height="5.54" fill="#436fb8"/><rect x="546.41" y="294.38" width="10.85" height="5.54" fill="#91b9de"/><rect x="557.26" y="294.38" width="10.85" height="5.54" fill="#9cc0e1"/><rect x="568.11" y="294.38" width="10.85" height="5.54" fill="#91b9de"/><rect x="578.96" y="294.38" width="10.85" height="5.54" fill="#9cc0e1"/><rect x="589.80" y="294.38" width="10.85" height="5.54" fill="#c5d9e9"/><rect x="600.65" y="294.38" width="10.85" height="5.54" fill="#c5d9e9"/><rect x="362.00" y="299.92" width="10.85" height="5.54" fill="#d46853"/><rect x="372.85" y="299.92" width="10.85" height="5.54" fill="#d9735a"/><rect x="383.70" y="299.92" width="10.85" height="5.54" fill="#e59274"/><rect x="394.54" y="299.92" width="10.85" height="5.54" fill="#dd7d63"/><rect x="405.39" y="299.92" width="10.85" height="5.54" fill="#c23d39"/><rect x="416.24" y="299.92" width="10.85" height="5.54" fill="#d46853"/><rect x="427.09" y="299.92" width="10.85" height="5.54" fill="#f2c9b2"/><rect x="437.93" y="299.92" width="10.85" height="5.54" fill="#dfe0e1"/><rect x="448.78" y="299.92" width="10.85" height="5.54" fill="#e8e3df"/><rect x="459.63" y="299.92" width="10.85" height="5.54" fill="#91b9de"/><rect x="470.48" y="299.92" width="10.85" height="5.54" fill="#bcd6eb"/><rect x="481.33" y="299.92" width="10.85" height="5.54" fill="#c5d9e9"/><rect x="492.17" y="299.92" width="10.85" height="5.54" fill="#5988c7"/><rect x="503.02" y="299.92" width="10.85" height="5.54" fill="#a6c8e5"/><rect x="513.87" y="299.92" width="10.85" height="5.54" fill="#c5d9e9"/><rect x="524.72" y="299.92" width="10.85" height="5.54" fill="#f1d5c4"/><rect x="535.57" y="299.92" width="10.85" height="5.54" fill="#709dd1"/><rect x="546.41" y="299.92" width="10.85" height="5.54" fill="#91b9de"/><rect x="557.26" y="299.92" width="10.85" height="5.54" fill="#9cc0e1"/><rect x="568.11" y="299.92" width="10.85" height="5.54" fill="#a6c8e5"/><rect x="578.96" y="299.92" width="10.85" height="5.54" fill="#86b2db"/><rect x="589.80" y="299.92" width="10.85" height="5.54" fill="#91b9de"/><rect x="600.65" y="299.92" width="10.85" height="5.54" fill="#a6c8e5"/><rect x="362.00" y="305.46" width="10.85" height="5.54" fill="#c74840"/><rect x="372.85" y="305.46" width="10.85" height="5.54" fill="#f2c9b2"/><rect x="383.70" y="305.46" width="10.85" height="5.54" fill="#e59274"/><rect x="394.54" y="305.46" width="10.85" height="5.54" fill="#dd7d63"/><rect x="405.39" y="305.46" width="10.85" height="5.54" fill="#8d1b2a"/><rect x="416.24" y="305.46" width="10.85" height="5.54" fill="#f2c9b2"/><rect x="427.09" y="305.46" width="10.85" height="5.54" fill="#d6dee4"/><rect x="437.93" y="305.46" width="10.85" height="5.54" fill="#eeb091"/><rect x="448.78" y="305.46" width="10.85" height="5.54" fill="#efd9cb"/><rect x="459.63" y="305.46" width="10.85" height="5.54" fill="#f3d2bd"/><rect x="470.48" y="305.46" width="10.85" height="5.54" fill="#ecdcd1"/><rect x="481.33" y="305.46" width="10.85" height="5.54" fill="#4e7ec2"/><rect x="492.17" y="305.46" width="10.85" height="5.54" fill="#e8e3df"/><rect x="503.02" y="305.46" width="10.85" height="5.54" fill="#91b9de"/><rect x="513.87" y="305.46" width="10.85" height="5.54" fill="#9cc0e1"/><rect x="524.72" y="305.46" width="10.85" height="5.54" fill="#b1cfe8"/><rect x="535.57" y="305.46" width="10.85" height="5.54" fill="#86b2db"/><rect x="546.41" y="305.46" width="10.85" height="5.54" fill="#9cc0e1"/><rect x="557.26" y="305.46" width="10.85" height="5.54" fill="#e8e3df"/><rect x="568.11" y="305.46" width="10.85" height="5.54" fill="#bcd6eb"/><rect x="578.96" y="305.46" width="10.85" height="5.54" fill="#9cc0e1"/><rect x="589.80" y="305.46" width="10.85" height="5.54" fill="#86b2db"/><rect x="600.65" y="305.46" width="10.85" height="5.54" fill="#6493cc"/></g>
<path d="M362.00 34.00V311.00M372.85 34.00V311.00M383.70 34.00V311.00M394.54 34.00V311.00M405.39 34.00V311.00M416.24 34.00V311.00M427.09 34.00V311.00M437.93 34.00V311.00M448.78 34.00V311.00M459.63 34.00V311.00M470.48 34.00V311.00M481.33 34.00V311.00M492.17 34.00V311.00M503.02 34.00V311.00M513.87 34.00V311.00M524.72 34.00V311.00M535.57 34.00V311.00M546.41 34.00V311.00M557.26 34.00V311.00M568.11 34.00V311.00M578.96 34.00V311.00M589.80 34.00V311.00M600.65 34.00V311.00M611.50 34.00V311.00M362.00 34.00H611.50M362.00 39.54H611.50M362.00 45.08H611.50M362.00 50.62H611.50M362.00 56.16H611.50M362.00 61.70H611.50M362.00 67.24H611.50M362.00 72.78H611.50M362.00 78.32H611.50M362.00 83.86H611.50M362.00 89.40H611.50M362.00 94.94H611.50M362.00 100.48H611.50M362.00 106.02H611.50M362.00 111.56H611.50M362.00 117.10H611.50M362.00 122.64H611.50M362.00 128.18H611.50M362.00 133.72H611.50M362.00 139.26H611.50M362.00 144.80H611.50M362.00 150.34H611.50M362.00 155.88H611.50M362.00 161.42H611.50M362.00 166.96H611.50M362.00 172.50H611.50M362.00 178.04H611.50M362.00 183.58H611.50M362.00 189.12H611.50M362.00 194.66H611.50M362.00 200.20H611.50M362.00 205.74H611.50M362.00 211.28H611.50M362.00 216.82H611.50M362.00 222.36H611.50M362.00 227.90H611.50M362.00 233.44H611.50M362.00 238.98H611.50M362.00 244.52H611.50M362.00 250.06H611.50M362.00 255.60H611.50M362.00 261.14H611.50M362.00 266.68H611.50M362.00 272.22H611.50M362.00 277.76H611.50M362.00 283.30H611.50M362.00 288.84H611.50M362.00 294.38H611.50M362.00 299.92H611.50M362.00 305.46H611.50M362.00 311.00H611.50" stroke="#5c5c5c" stroke-width="0.55" fill="none"/>
<rect x="362.00" y="26.50" width="10.85" height="4.80" fill="#D4145F" />
<rect x="372.85" y="26.50" width="10.85" height="4.80" fill="#D4145F" />
<rect x="383.70" y="26.50" width="10.85" height="4.80" fill="#D4145F" />
<rect x="394.54" y="26.50" width="10.85" height="4.80" fill="#D4145F" />
<rect x="405.39" y="26.50" width="10.85" height="4.80" fill="#D4145F" />
<rect x="416.24" y="26.50" width="10.85" height="4.80" fill="#4D82E3" />
<rect x="427.09" y="26.50" width="10.85" height="4.80" fill="#4D82E3" />
<rect x="437.93" y="26.50" width="10.85" height="4.80" fill="#4D82E3" />
<rect x="448.78" y="26.50" width="10.85" height="4.80" fill="#4D82E3" />
<rect x="459.63" y="26.50" width="10.85" height="4.80" fill="#4D82E3" />
<rect x="470.48" y="26.50" width="10.85" height="4.80" fill="#4D82E3" />
<rect x="481.33" y="26.50" width="10.85" height="4.80" fill="#4D82E3" />
<rect x="492.17" y="26.50" width="10.85" height="4.80" fill="#F5C400" />
<rect x="503.02" y="26.50" width="10.85" height="4.80" fill="#4D82E3" />
<rect x="513.87" y="26.50" width="10.85" height="4.80" fill="#4D82E3" />
<rect x="524.72" y="26.50" width="10.85" height="4.80" fill="#4D82E3" />
<rect x="535.57" y="26.50" width="10.85" height="4.80" fill="#F5C400" />
<rect x="546.41" y="26.50" width="10.85" height="4.80" fill="#F5C400" />
<rect x="557.26" y="26.50" width="10.85" height="4.80" fill="#F5C400" />
<rect x="568.11" y="26.50" width="10.85" height="4.80" fill="#F5C400" />
<rect x="578.96" y="26.50" width="10.85" height="4.80" fill="#F5C400" />
<rect x="589.80" y="26.50" width="10.85" height="4.80" fill="#F5C400" />
<rect x="600.65" y="26.50" width="10.85" height="4.80" fill="#F5C400" />
<path d="M362.00 26.5V31.3M372.85 26.5V31.3M383.70 26.5V31.3M394.54 26.5V31.3M405.39 26.5V31.3M416.24 26.5V31.3M427.09 26.5V31.3M437.93 26.5V31.3M448.78 26.5V31.3M459.63 26.5V31.3M470.48 26.5V31.3M481.33 26.5V31.3M492.17 26.5V31.3M503.02 26.5V31.3M513.87 26.5V31.3M524.72 26.5V31.3M535.57 26.5V31.3M546.41 26.5V31.3M557.26 26.5V31.3M568.11 26.5V31.3M578.96 26.5V31.3M589.80 26.5V31.3M600.65 26.5V31.3M611.50 26.5V31.3M362.0 26.5H611.5M362.0 31.3H611.5" stroke="#8a8a8a" stroke-width="0.4" fill="none"/>
<path d="M385.5 23.6V0.9H501.2V16.5M442.3 23.3V16.5H561.2V23.3M367.42 26.3V24.2H378.27V26.3M372.85 24.2V23.6H410.82V26.3M389.12 26.3V24.6H399.97V26.3M394.54 24.6V23.6M421.66 26.3V23.3H486.75V26.3M432.51 26.3V24.5H443.36V26.3M454.21 26.3V24.5H465.05V26.3M465.05 26.3V24.5H475.90V26.3M508.45 26.3V24.5H519.29V26.3M519.29 26.3V24.5H530.14V26.3M497.60 26.3V23.6H530.14V26.3M540.99 26.3V23.3H606.08V26.3M551.84 26.3V24.5H562.68V26.3M573.53 26.3V24.5H584.38V26.3M584.38 26.3V24.5H595.23V26.3" stroke="#222" stroke-width="0.7" fill="none"/>
<path d="M336.5 199.3V284.9M336.5 199.3H349.5M349.5 163.0V236.5M362.00 36.77H361.38V42.31H362.00M361.38 39.54H360.76V47.85H362.00M362.00 53.39H361.38V58.93H362.00M360.76 43.70H360.14V56.16H361.38M362.00 64.47H361.38V70.01H362.00M362.00 75.55H361.38V81.09H362.00M361.38 67.24H360.76V78.32H361.38M360.14 49.93H359.52V72.78H360.76M362.00 86.63H361.38V92.17H362.00M362.00 97.71H361.38V103.25H362.00M361.38 89.40H360.76V100.48H361.38M362.00 108.79H361.38V114.33H362.00M362.00 119.87H361.38V125.41H362.00M361.38 111.56H360.76V122.64H361.38M360.76 94.94H360.14V117.10H360.76M359.52 61.35H358.90V106.02H360.14M362.00 130.95H361.38V136.49H362.00M362.00 142.03H361.38V147.57H362.00M361.38 133.72H360.76V144.80H361.38M362.00 153.11H361.38V158.65H362.00M362.00 164.19H361.38V169.73H362.00M361.38 155.88H360.76V166.96H361.38M360.76 139.26H360.14V161.42H360.76M362.00 175.27H361.38V180.81H362.00M362.00 186.35H361.38V191.89H362.00M361.38 178.04H360.76V189.12H361.38M362.00 197.43H361.38V202.97H362.00M362.00 208.51H361.38V214.05H362.00M361.38 200.20H360.76V211.28H361.38M360.76 183.58H360.14V205.74H360.76M360.14 150.34H359.52V194.66H360.14M358.90 83.69H358.28V172.50H359.52M362.00 219.59H361.10V225.13H362.00M362.00 230.67H361.10V236.21H362.00M361.10 222.36H360.20V233.44H361.10M362.00 241.75H361.10V247.29H362.00M362.00 252.83H361.10V258.37H362.00M361.10 244.52H360.20V255.60H361.10M360.20 227.90H359.30V250.06H360.20M362.00 263.91H361.10V269.45H362.00M361.10 266.68H360.20V274.99H362.00M362.00 280.53H361.10V286.07H362.00M360.20 270.83H359.30V283.30H361.10M362.00 291.61H361.10V297.15H362.00M362.00 302.69H361.10V308.23H362.00M361.10 294.38H360.20V305.46H361.10M359.30 277.07H358.40V299.92H360.20M349.5 163.0H358.28V128.09M349.5 236.5H359.30V238.98M336.5 284.9H358.40V288.49" stroke="#222" stroke-width="0.7" fill="none"/>
<text x="614.90" y="38.77" font-size="5.7" font-weight="bold" text-anchor="start" fill="#000" stroke="#000" stroke-width="0.18" >SERPINF2</text>
<text x="614.90" y="44.31" font-size="5.7" font-weight="bold" text-anchor="start" fill="#000" stroke="#000" stroke-width="0.18" >CLU</text>
<text x="614.90" y="49.85" font-size="5.7" font-weight="bold" text-anchor="start" fill="#000" stroke="#000" stroke-width="0.18" >SAA4</text>
<text x="614.90" y="55.39" font-size="5.7" font-weight="bold" text-anchor="start" fill="#000" stroke="#000" stroke-width="0.18" >HEBP1</text>
<text x="614.90" y="60.93" font-size="5.7" font-weight="bold" text-anchor="start" fill="#000" stroke="#000" stroke-width="0.18" >ITIH1</text>
<text x="614.90" y="66.47" font-size="5.7" font-weight="bold" text-anchor="start" fill="#000" stroke="#000" stroke-width="0.18" >SEMA4C</text>
<text x="614.90" y="72.01" font-size="5.7" font-weight="bold" text-anchor="start" fill="#000" stroke="#000" stroke-width="0.18" >LTA4H</text>
<text x="614.90" y="77.55" font-size="5.7" font-weight="bold" text-anchor="start" fill="#000" stroke="#000" stroke-width="0.18" >APOA2</text>
<text x="614.90" y="83.09" font-size="5.7" font-weight="bold" text-anchor="start" fill="#000" stroke="#000" stroke-width="0.18" >CES2</text>
<text x="614.90" y="88.63" font-size="5.7" font-weight="bold" text-anchor="start" fill="#000" stroke="#000" stroke-width="0.18" >APOB</text>
<text x="614.90" y="94.17" font-size="5.7" font-weight="bold" text-anchor="start" fill="#000" stroke="#000" stroke-width="0.18" >ITIH3</text>
<text x="614.90" y="99.71" font-size="5.7" font-weight="bold" text-anchor="start" fill="#000" stroke="#000" stroke-width="0.18" >C3</text>
<text x="614.90" y="105.25" font-size="5.7" font-weight="bold" text-anchor="start" fill="#000" stroke="#000" stroke-width="0.18" >FBP1</text>
<text x="614.90" y="110.79" font-size="5.7" font-weight="bold" text-anchor="start" fill="#000" stroke="#000" stroke-width="0.18" >ABHD14B</text>
<text x="614.90" y="116.33" font-size="5.7" font-weight="bold" text-anchor="start" fill="#000" stroke="#000" stroke-width="0.18" >SCRN1</text>
<text x="614.90" y="121.87" font-size="5.7" font-weight="bold" text-anchor="start" fill="#000" stroke="#000" stroke-width="0.18" >PRDX6</text>
<text x="614.90" y="127.41" font-size="5.7" font-weight="bold" text-anchor="start" fill="#000" stroke="#000" stroke-width="0.18" >PPP3R1</text>
<text x="614.90" y="132.95" font-size="5.7" font-weight="bold" text-anchor="start" fill="#000" stroke="#000" stroke-width="0.18" >DPEP2</text>
<text x="614.90" y="138.49" font-size="5.7" font-weight="bold" text-anchor="start" fill="#000" stroke="#000" stroke-width="0.18" >CTSC</text>
<text x="614.90" y="144.03" font-size="5.7" font-weight="bold" text-anchor="start" fill="#000" stroke="#000" stroke-width="0.18" >DNPEP</text>
<text x="614.90" y="149.57" font-size="5.7" font-weight="bold" text-anchor="start" fill="#000" stroke="#000" stroke-width="0.18" >BCAT1</text>
<text x="614.90" y="155.11" font-size="5.7" font-weight="bold" text-anchor="start" fill="#000" stroke="#000" stroke-width="0.18" >MAMDC2</text>
<text x="614.90" y="160.65" font-size="5.7" font-weight="bold" text-anchor="start" fill="#000" stroke="#000" stroke-width="0.18" >CCL27</text>
<text x="614.90" y="166.19" font-size="5.7" font-weight="bold" text-anchor="start" fill="#000" stroke="#000" stroke-width="0.18" >VWC2L</text>
<text x="614.90" y="171.73" font-size="5.7" font-weight="bold" text-anchor="start" fill="#000" stroke="#000" stroke-width="0.18" >ST6GAL1</text>
<text x="614.90" y="177.27" font-size="5.7" font-weight="bold" text-anchor="start" fill="#000" stroke="#000" stroke-width="0.18" >MEP1A</text>
<text x="614.90" y="182.81" font-size="5.7" font-weight="bold" text-anchor="start" fill="#000" stroke="#000" stroke-width="0.18" >CASP8</text>
<text x="614.90" y="188.35" font-size="5.7" font-weight="bold" text-anchor="start" fill="#000" stroke="#000" stroke-width="0.18" >GBP2</text>
<text x="614.90" y="193.89" font-size="5.7" font-weight="bold" text-anchor="start" fill="#000" stroke="#000" stroke-width="0.18" >ALDH2</text>
<text x="614.90" y="199.43" font-size="5.7" font-weight="bold" text-anchor="start" fill="#000" stroke="#000" stroke-width="0.18" >S100P</text>
<text x="614.90" y="204.97" font-size="5.7" font-weight="bold" text-anchor="start" fill="#000" stroke="#000" stroke-width="0.18" >NAPRT</text>
<text x="614.90" y="210.51" font-size="5.7" font-weight="bold" text-anchor="start" fill="#000" stroke="#000" stroke-width="0.18" >GET3</text>
<text x="614.90" y="216.05" font-size="5.7" font-weight="bold" text-anchor="start" fill="#000" stroke="#000" stroke-width="0.18" >PSMD1</text>
<text x="614.90" y="221.59" font-size="5.7" font-weight="bold" text-anchor="start" fill="#000" stroke="#000" stroke-width="0.18" >FCRL5</text>
<text x="614.90" y="227.13" font-size="5.7" font-weight="bold" text-anchor="start" fill="#000" stroke="#000" stroke-width="0.18" >TNFRSF13B</text>
<text x="614.90" y="232.67" font-size="5.7" font-weight="bold" text-anchor="start" fill="#000" stroke="#000" stroke-width="0.18" >LY9</text>
<text x="614.90" y="238.21" font-size="5.7" font-weight="bold" text-anchor="start" fill="#000" stroke="#000" stroke-width="0.18" >ICAM3</text>
<text x="614.90" y="243.75" font-size="5.7" font-weight="bold" text-anchor="start" fill="#000" stroke="#000" stroke-width="0.18" >CD48</text>
<text x="614.90" y="249.29" font-size="5.7" font-weight="bold" text-anchor="start" fill="#000" stroke="#000" stroke-width="0.18" >TNFRSF17</text>
<text x="614.90" y="254.83" font-size="5.7" font-weight="bold" text-anchor="start" fill="#000" stroke="#000" stroke-width="0.18" >SLAMF7</text>
<text x="614.90" y="260.37" font-size="5.7" font-weight="bold" text-anchor="start" fill="#000" stroke="#000" stroke-width="0.18" >CD79B</text>
<text x="614.90" y="265.91" font-size="5.7" font-weight="bold" text-anchor="start" fill="#000" stroke="#000" stroke-width="0.18" >NPPC</text>
<text x="614.90" y="271.45" font-size="5.7" font-weight="bold" text-anchor="start" fill="#000" stroke="#000" stroke-width="0.18" >TMSB10</text>
<text x="614.90" y="276.99" font-size="5.7" font-weight="bold" text-anchor="start" fill="#000" stroke="#000" stroke-width="0.18" >APOF</text>
<text x="614.90" y="282.53" font-size="5.7" font-weight="bold" text-anchor="start" fill="#000" stroke="#000" stroke-width="0.18" >ITPA</text>
<text x="614.90" y="288.07" font-size="5.7" font-weight="bold" text-anchor="start" fill="#000" stroke="#000" stroke-width="0.18" >GLO1</text>
<text x="614.90" y="293.61" font-size="5.7" font-weight="bold" text-anchor="start" fill="#000" stroke="#000" stroke-width="0.18" >PMM2</text>
<text x="614.90" y="299.15" font-size="5.7" font-weight="bold" text-anchor="start" fill="#000" stroke="#000" stroke-width="0.18" >GAPDH</text>
<text x="614.90" y="304.69" font-size="5.7" font-weight="bold" text-anchor="start" fill="#000" stroke="#000" stroke-width="0.18" >WARS</text>
<text x="614.90" y="310.23" font-size="5.7" font-weight="bold" text-anchor="start" fill="#000" stroke="#000" stroke-width="0.18" >S100A4</text>
<text x="369.42" y="314.60" font-size="5.75" font-weight="bold" stroke="#000" stroke-width="0.18" text-anchor="end" transform="rotate(-90 369.42 314.60)">Control_2</text>
<text x="380.27" y="314.60" font-size="5.75" font-weight="bold" stroke="#000" stroke-width="0.18" text-anchor="end" transform="rotate(-90 380.27 314.60)">Control_5</text>
<text x="391.12" y="314.60" font-size="5.75" font-weight="bold" stroke="#000" stroke-width="0.18" text-anchor="end" transform="rotate(-90 391.12 314.60)">Control_1</text>
<text x="401.97" y="314.60" font-size="5.75" font-weight="bold" stroke="#000" stroke-width="0.18" text-anchor="end" transform="rotate(-90 401.97 314.60)">Control_3</text>
<text x="412.82" y="314.60" font-size="5.75" font-weight="bold" stroke="#000" stroke-width="0.18" text-anchor="end" transform="rotate(-90 412.82 314.60)">Control_4</text>
<text x="423.66" y="314.60" font-size="5.75" font-weight="bold" stroke="#000" stroke-width="0.18" text-anchor="end" transform="rotate(-90 423.66 314.60)">MGUS_2</text>
<text x="434.51" y="314.60" font-size="5.75" font-weight="bold" stroke="#000" stroke-width="0.18" text-anchor="end" transform="rotate(-90 434.51 314.60)">MGUS_4</text>
<text x="445.36" y="314.60" font-size="5.75" font-weight="bold" stroke="#000" stroke-width="0.18" text-anchor="end" transform="rotate(-90 445.36 314.60)">MGUS_1</text>
<text x="456.21" y="314.60" font-size="5.75" font-weight="bold" stroke="#000" stroke-width="0.18" text-anchor="end" transform="rotate(-90 456.21 314.60)">MGUS_6</text>
<text x="467.05" y="314.60" font-size="5.75" font-weight="bold" stroke="#000" stroke-width="0.18" text-anchor="end" transform="rotate(-90 467.05 314.60)">MGUS_8</text>
<text x="477.90" y="314.60" font-size="5.75" font-weight="bold" stroke="#000" stroke-width="0.18" text-anchor="end" transform="rotate(-90 477.90 314.60)">MGUS_9</text>
<text x="488.75" y="314.60" font-size="5.75" font-weight="bold" stroke="#000" stroke-width="0.18" text-anchor="end" transform="rotate(-90 488.75 314.60)">MGUS_10</text>
<text x="499.60" y="314.60" font-size="5.75" font-weight="bold" stroke="#000" stroke-width="0.18" text-anchor="end" transform="rotate(-90 499.60 314.60)">MM_8</text>
<text x="510.45" y="314.60" font-size="5.75" font-weight="bold" stroke="#000" stroke-width="0.18" text-anchor="end" transform="rotate(-90 510.45 314.60)">MGUS_3</text>
<text x="521.29" y="314.60" font-size="5.75" font-weight="bold" stroke="#000" stroke-width="0.18" text-anchor="end" transform="rotate(-90 521.29 314.60)">MGUS_5</text>
<text x="532.14" y="314.60" font-size="5.75" font-weight="bold" stroke="#000" stroke-width="0.18" text-anchor="end" transform="rotate(-90 532.14 314.60)">MGUS_7</text>
<text x="542.99" y="314.60" font-size="5.75" font-weight="bold" stroke="#000" stroke-width="0.18" text-anchor="end" transform="rotate(-90 542.99 314.60)">MM_5</text>
<text x="553.84" y="314.60" font-size="5.75" font-weight="bold" stroke="#000" stroke-width="0.18" text-anchor="end" transform="rotate(-90 553.84 314.60)">MM_6</text>
<text x="564.68" y="314.60" font-size="5.75" font-weight="bold" stroke="#000" stroke-width="0.18" text-anchor="end" transform="rotate(-90 564.68 314.60)">MM_4</text>
<text x="575.53" y="314.60" font-size="5.75" font-weight="bold" stroke="#000" stroke-width="0.18" text-anchor="end" transform="rotate(-90 575.53 314.60)">MM_1</text>
<text x="586.38" y="314.60" font-size="5.75" font-weight="bold" stroke="#000" stroke-width="0.18" text-anchor="end" transform="rotate(-90 586.38 314.60)">MM_7</text>
<text x="597.23" y="314.60" font-size="5.75" font-weight="bold" stroke="#000" stroke-width="0.18" text-anchor="end" transform="rotate(-90 597.23 314.60)">MM_2</text>
<text x="608.08" y="314.60" font-size="5.75" font-weight="bold" stroke="#000" stroke-width="0.18" text-anchor="end" transform="rotate(-90 608.08 314.60)">MM_3</text>
<rect x="643.40" y="56.60" width="10.60" height="10.30" fill="#D4145F" />
<rect x="643.40" y="66.90" width="10.60" height="10.40" fill="#4D82E3" />
<rect x="643.40" y="77.30" width="10.60" height="10.30" fill="#F5C400" />
<text x="657.00" y="64.50" font-size="7.8" font-weight="bold" text-anchor="start" fill="#000" stroke="#000" stroke-width="0.18" >Control</text>
<text x="657.00" y="74.90" font-size="7.8" font-weight="bold" text-anchor="start" fill="#000" stroke="#000" stroke-width="0.18" >MGUS</text>
<text x="657.00" y="85.30" font-size="7.8" font-weight="bold" text-anchor="start" fill="#000" stroke="#000" stroke-width="0.18" >MM</text>
<text x="648.90" y="116.10" font-size="8.0" font-weight="bold" text-anchor="start" fill="#000" stroke="#000" stroke-width="0.18" >Z-Score</text>
<defs><linearGradient id="zs" x1="0" y1="0" x2="0" y2="1"><stop offset="0.0514" stop-color="#801226"/><stop offset="0.1429" stop-color="#c23d39"/><stop offset="0.2343" stop-color="#d9735a"/><stop offset="0.3257" stop-color="#eda786"/><stop offset="0.4171" stop-color="#f3d2bd"/><stop offset="0.5086" stop-color="#e8e3df"/><stop offset="0.6000" stop-color="#bcd6eb"/><stop offset="0.6914" stop-color="#86b2db"/><stop offset="0.7829" stop-color="#4e7ec2"/><stop offset="0.8743" stop-color="#3358a8"/><stop offset="0.9657" stop-color="#1c2d6b"/></linearGradient></defs>
<rect x="656.30" y="119.00" width="5.80" height="87.50" fill="url(#zs)" />
<text x="665.00" y="133.90" font-size="6.4" font-weight="bold" text-anchor="start" fill="#000" stroke="#000" stroke-width="0.18" >2</text>
<text x="665.00" y="165.90" font-size="6.4" font-weight="bold" text-anchor="start" fill="#000" stroke="#000" stroke-width="0.18" >0</text>
<text x="663.00" y="197.40" font-size="6.4" font-weight="bold" text-anchor="start" fill="#000" stroke="#000" stroke-width="0.18" >-2</text>
<text x="4.00" y="366.60" font-size="19.8" font-weight="bold" text-anchor="start" fill="#000" stroke="#000" stroke-width="0.18" >C</text>
<line x1="61.00" y1="354.40" x2="61.00" y2="593.60" stroke="#000" stroke-width="1.45" />
<line x1="60.40" y1="593.00" x2="419.20" y2="593.00" stroke="#000" stroke-width="1.45" />
<line x1="55.80" y1="355.00" x2="61.00" y2="355.00" stroke="#000" stroke-width="1.1" />
<text x="54.60" y="357.95" font-size="8.4" font-weight="bold" text-anchor="end" fill="#000" stroke="#000" stroke-width="0.18" >1.0</text>
<line x1="55.80" y1="414.60" x2="61.00" y2="414.60" stroke="#000" stroke-width="1.1" />
<text x="54.60" y="417.55" font-size="8.4" font-weight="bold" text-anchor="end" fill="#000" stroke="#000" stroke-width="0.18" >0.5</text>
<line x1="55.80" y1="474.20" x2="61.00" y2="474.20" stroke="#000" stroke-width="1.1" />
<text x="54.60" y="477.15" font-size="8.4" font-weight="bold" text-anchor="end" fill="#000" stroke="#000" stroke-width="0.18" >0.0</text>
<line x1="55.80" y1="533.80" x2="61.00" y2="533.80" stroke="#000" stroke-width="1.1" />
<text x="54.60" y="536.75" font-size="8.4" font-weight="bold" text-anchor="end" fill="#000" stroke="#000" stroke-width="0.18" >-0.5</text>
<line x1="55.80" y1="593.40" x2="61.00" y2="593.40" stroke="#000" stroke-width="1.1" />
<text x="54.60" y="596.35" font-size="8.4" font-weight="bold" text-anchor="end" fill="#000" stroke="#000" stroke-width="0.18" >-1.0</text>
<path d="M61.00 593.0V598.60M72.92 593.0V596.70M84.84 593.0V596.70M96.76 593.0V596.70M108.68 593.0V596.70M120.60 593.0V596.70M132.52 593.0V596.70M144.44 593.0V596.70M156.36 593.0V596.70M168.28 593.0V596.70M180.20 593.0V598.60M192.12 593.0V596.70M204.04 593.0V596.70M215.96 593.0V596.70M227.88 593.0V596.70M239.80 593.0V596.70M251.72 593.0V596.70M263.64 593.0V596.70M275.56 593.0V596.70M287.48 593.0V596.70M299.40 593.0V598.60M311.32 593.0V596.70M323.24 593.0V596.70M335.16 593.0V596.70M347.08 593.0V596.70M359.00 593.0V596.70M370.92 593.0V596.70M382.84 593.0V596.70M394.76 593.0V596.70M406.68 593.0V596.70M418.60 593.0V598.60" stroke="#000" stroke-width="1.0" fill="none"/>
<text x="61.00" y="607.80" font-size="8.5" font-weight="bold" text-anchor="middle" fill="#000" stroke="#000" stroke-width="0.18" >0</text>
<text x="180.20" y="607.80" font-size="8.5" font-weight="bold" text-anchor="middle" fill="#000" stroke="#000" stroke-width="0.18" >1000</text>
<text x="299.40" y="607.80" font-size="8.5" font-weight="bold" text-anchor="middle" fill="#000" stroke="#000" stroke-width="0.18" >2000</text>
<text x="418.60" y="607.80" font-size="8.5" font-weight="bold" text-anchor="middle" fill="#000" stroke="#000" stroke-width="0.18" >3000</text>
<text x="153.30" y="617.90" font-size="9.8" font-weight="bold" text-anchor="start" fill="#000" stroke="#000" stroke-width="0.18" >Proteins rank by correlation coefficient</text>
<text x="35.6" y="467.7" font-size="9.8" font-weight="bold" stroke="#000" stroke-width="0.18" text-anchor="middle" transform="rotate(-90 35.6 467.7)">Pearson correlation coefficient (r)</text>
<line x1="63" y1="474.20" x2="419.5" y2="474.20" stroke="#000" stroke-width="1.0" stroke-dasharray="1.1,2.0"/>
<path d="M60.90 559.40 L61.76 555.72 L62.61 551.32 L63.47 549.22 L64.32 547.78 L65.18 546.54 L66.03 545.43 L66.89 544.42 L67.74 543.51 L68.60 542.64 L69.45 541.80 L70.31 540.98 L71.16 540.19 L72.02 539.44 L72.87 538.72 L73.73 538.03 L74.58 537.38 L75.44 536.76 L76.29 536.16 L77.15 535.59 L78.00 535.03 L78.86 534.49 L79.72 533.97 L80.57 533.46 L81.43 532.96 L82.28 532.47 L83.14 531.99 L83.99 531.51 L84.85 531.04 L85.70 530.58 L86.56 530.11 L87.41 529.64 L88.27 529.18 L89.12 528.72 L89.98 528.26 L90.83 527.81 L91.69 527.35 L92.54 526.91 L93.40 526.46 L94.25 526.03 L95.11 525.59 L95.96 525.17 L96.82 524.75 L97.68 524.33 L98.53 523.92 L99.39 523.53 L100.24 523.13 L101.10 522.75 L101.95 522.37 L102.81 522.01 L103.66 521.65 L104.52 521.30 L105.37 520.96 L106.23 520.62 L107.08 520.29 L107.94 519.97 L108.79 519.65 L109.65 519.34 L110.50 519.03 L111.36 518.72 L112.21 518.42 L113.07 518.12 L113.93 517.83 L114.78 517.54 L115.64 517.26 L116.49 516.97 L117.35 516.69 L118.20 516.41 L119.06 516.13 L119.91 515.85 L120.77 515.58 L121.62 515.32 L122.48 515.06 L123.33 514.80 L124.19 514.54 L125.04 514.29 L125.90 514.04 L126.75 513.79 L127.61 513.55 L128.46 513.30 L129.32 513.06 L130.17 512.81 L131.03 512.57 L131.89 512.32 L132.74 512.08 L133.60 511.83 L134.45 511.58 L135.31 511.33 L136.16 511.07 L137.02 510.81 L137.87 510.55 L138.73 510.29 L139.58 510.03 L140.44 509.77 L141.29 509.51 L142.15 509.24 L143.00 508.98 L143.86 508.72 L144.71 508.46 L145.57 508.21 L146.42 507.95 L147.28 507.70 L148.13 507.45 L148.99 507.20 L149.85 506.96 L150.70 506.73 L151.56 506.50 L152.41 506.27 L153.27 506.05 L154.12 505.84 L154.98 505.63 L155.83 505.42 L156.69 505.21 L157.54 505.00 L158.40 504.79 L159.25 504.58 L160.11 504.37 L160.96 504.15 L161.82 503.94 L162.67 503.72 L163.53 503.50 L164.38 503.28 L165.24 503.07 L166.09 502.85 L166.95 502.63 L167.81 502.41 L168.66 502.19 L169.52 501.97 L170.37 501.75 L171.23 501.54 L172.08 501.32 L172.94 501.10 L173.79 500.88 L174.65 500.66 L175.50 500.44 L176.36 500.22 L177.21 500.00 L178.07 499.78 L178.92 499.57 L179.78 499.35 L180.63 499.13 L181.49 498.92 L182.34 498.70 L183.20 498.48 L184.05 498.27 L184.91 498.05 L185.77 497.84 L186.62 497.63 L187.48 497.41 L188.33 497.20 L189.19 496.99 L190.04 496.77 L190.90 496.56 L191.75 496.35 L192.61 496.14 L193.46 495.93 L194.32 495.72 L195.17 495.50 L196.03 495.29 L196.88 495.08 L197.74 494.87 L198.59 494.66 L199.45 494.45 L200.30 494.23 L201.16 494.02 L202.02 493.81 L202.87 493.60 L203.73 493.38 L204.58 493.17 L205.44 492.96 L206.29 492.74 L207.15 492.53 L208.00 492.31 L208.86 492.10 L209.71 491.88 L210.57 491.66 L211.42 491.44 L212.28 491.23 L213.13 491.01 L213.99 490.79 L214.84 490.57 L215.70 490.35 L216.55 490.12 L217.41 489.90 L218.26 489.68 L219.12 489.45 L219.98 489.23 L220.83 489.00 L221.69 488.77 L222.54 488.54 L223.40 488.32 L224.25 488.09 L225.11 487.86 L225.96 487.63 L226.82 487.40 L227.67 487.16 L228.53 486.93 L229.38 486.70 L230.24 486.47 L231.09 486.23 L231.95 486.00 L232.80 485.76 L233.66 485.52 L234.51 485.29 L235.37 485.05 L236.22 484.81 L237.08 484.56 L237.94 484.32 L238.79 484.08 L239.65 483.83 L240.50 483.59 L241.36 483.34 L242.21 483.09 L243.07 482.84 L243.92 482.58 L244.78 482.33 L245.63 482.07 L246.49 481.82 L247.34 481.55 L248.20 481.28 L249.05 481.01 L249.91 480.73 L250.76 480.45 L251.62 480.16 L252.47 479.88 L253.33 479.58 L254.18 479.29 L255.04 479.00 L255.90 478.70 L256.75 478.41 L257.61 478.11 L258.46 477.82 L259.32 477.52 L260.17 477.23 L261.03 476.95 L261.88 476.66 L262.74 476.38 L263.59 476.10 L264.45 475.83 L265.30 475.57 L266.16 475.31 L267.01 475.05 L267.87 474.80 L268.72 474.57 L269.58 474.33 L270.43 474.10 L271.29 473.87 L272.14 473.65 L273.00 473.43 L273.86 473.22 L274.71 473.01 L275.57 472.80 L276.42 472.59 L277.28 472.39 L278.13 472.19 L278.99 471.99 L279.84 471.79 L280.70 471.59 L281.55 471.40 L282.41 471.20 L283.26 471.01 L284.12 470.82 L284.97 470.62 L285.83 470.43 L286.68 470.24 L287.54 470.05 L288.39 469.85 L289.25 469.66 L290.11 469.46 L290.96 469.27 L291.82 469.07 L292.67 468.87 L293.53 468.67 L294.38 468.46 L295.24 468.26 L296.09 468.05 L296.95 467.84 L297.80 467.62 L298.66 467.40 L299.51 467.18 L300.37 466.95 L301.22 466.72 L302.08 466.49 L302.93 466.26 L303.79 466.03 L304.64 465.79 L305.50 465.56 L306.35 465.32 L307.21 465.08 L308.07 464.84 L308.92 464.59 L309.78 464.35 L310.63 464.10 L311.49 463.86 L312.34 463.61 L313.20 463.36 L314.05 463.10 L314.91 462.85 L315.76 462.60 L316.62 462.34 L317.47 462.08 L318.33 461.82 L319.18 461.56 L320.04 461.30 L320.89 461.04 L321.75 460.77 L322.60 460.51 L323.46 460.24 L324.31 459.98 L325.17 459.71 L326.03 459.44 L326.88 459.17 L327.74 458.90 L328.59 458.63 L329.45 458.36 L330.30 458.09 L331.16 457.83 L332.01 457.56 L332.87 457.29 L333.72 457.01 L334.58 456.74 L335.43 456.47 L336.29 456.20 L337.14 455.92 L338.00 455.64 L338.85 455.36 L339.71 455.08 L340.56 454.80 L341.42 454.51 L342.27 454.22 L343.13 453.93 L343.99 453.64 L344.84 453.34 L345.70 453.04 L346.55 452.74 L347.41 452.43 L348.26 452.12 L349.12 451.81 L349.97 451.49 L350.83 451.17 L351.68 450.85 L352.54 450.52 L353.39 450.18 L354.25 449.84 L355.10 449.50 L355.96 449.15 L356.81 448.79 L357.67 448.43 L358.52 448.07 L359.38 447.71 L360.23 447.34 L361.09 446.96 L361.95 446.58 L362.80 446.20 L363.66 445.80 L364.51 445.40 L365.37 445.00 L366.22 444.58 L367.08 444.15 L367.93 443.72 L368.79 443.27 L369.64 442.82 L370.50 442.35 L371.35 441.87 L372.21 441.38 L373.06 440.87 L373.92 440.35 L374.77 439.82 L375.63 439.27 L376.48 438.71 L377.34 438.13 L378.20 437.52 L379.05 436.90 L379.91 436.24 L380.76 435.56 L381.62 434.85 L382.47 434.10 L383.33 433.32 L384.18 432.50 L385.04 431.64 L385.89 430.74 L386.75 429.79 L387.60 428.78 L388.46 427.66 L389.31 426.46 L390.17 425.17 L391.02 423.80 L391.88 422.34 L392.73 420.81 L393.59 419.20 L394.44 417.52 L395.30 415.73 L396.16 413.75 L397.01 411.59 L397.87 409.27 L398.72 406.81 L399.58 404.23 L400.43 401.72 L401.29 399.12 L402.14 395.85" fill="none" stroke="#000" stroke-width="1.9" stroke-linejoin="round"/>
<path d="M402.14 395.85 L402.21 395.53 L402.28 395.21 L402.35 394.87 L402.42 394.53 L402.49 394.17 L402.57 393.81 L402.64 393.43 L402.71 393.05 L402.78 392.64 L402.85 392.20 L402.92 391.72 L402.99 391.20 L403.06 390.63 L403.13 390.04 L403.20 389.41 L403.27 388.75 L403.34 388.06 L403.41 387.35 L403.48 386.61 L403.55 385.84 L403.62 385.06 L403.69 384.26 L403.76 383.45 L403.84 382.62 L403.91 381.78 L403.98 380.94 L404.05 380.08 L404.12 379.21 L404.19 378.28 L404.26 377.30 L404.33 376.28 L404.40 375.22 L404.47 374.12 L404.54 372.99 L404.61 371.84 L404.68 370.67 L404.75 369.48 L404.82 368.28 L404.89 367.07" fill="none" stroke="#000" stroke-width="1.35" stroke-dasharray="2.3,1.7"/>
<rect x="391.8" y="362.5" width="29.9" height="53.9" fill="none" stroke="#444" stroke-width="0.8"/>
<line x1="421.7" y1="362.5" x2="468" y2="358.2" stroke="#444" stroke-width="0.8" stroke-dasharray="4,3"/>
<line x1="421.7" y1="416.4" x2="467.5" y2="549" stroke="#444" stroke-width="0.8" stroke-dasharray="4,3"/>
<text x="78.80" y="359.00" font-size="8.75" font-weight="bold" text-anchor="start" fill="#000" stroke="#000" stroke-width="0.18" >Protein types:</text>
<circle cx="81.2" cy="368.30" r="2.6" fill="#4A7FD4"/>
<text x="86.60" y="371.30" font-size="8.75" font-weight="bold" text-anchor="start" fill="#000" stroke="#000" stroke-width="0.18" >B-cell signaling, development and differentiation</text>
<circle cx="81.2" cy="381.80" r="2.6" fill="#D41C6B"/>
<text x="86.60" y="384.80" font-size="8.75" font-weight="bold" text-anchor="start" fill="#000" stroke="#000" stroke-width="0.18" >Immune regulation</text>
<circle cx="81.2" cy="395.50" r="2.6" fill="#6DBE3C"/>
<text x="86.60" y="398.50" font-size="8.75" font-weight="bold" text-anchor="start" fill="#000" stroke="#000" stroke-width="0.18" >Metabolism</text>
<circle cx="81.2" cy="409.50" r="2.6" fill="#6B3B1B"/>
<text x="86.60" y="412.50" font-size="8.75" font-weight="bold" text-anchor="start" fill="#000" stroke="#000" stroke-width="0.18" >Additional proteins with potential roles in MM pathogenesis</text>
<text x="366.80" y="424.20" font-size="6.8" font-weight="bold" text-anchor="start" fill="#6DBE3C" stroke="#6DBE3C" stroke-width="0.18" >MEP1A</text>
<text x="368.40" y="430.30" font-size="6.8" font-weight="bold" text-anchor="start" fill="#6DBE3C" stroke="#6DBE3C" stroke-width="0.18" >FBP1</text>
<text x="364.50" y="436.70" font-size="6.8" font-weight="bold" text-anchor="start" fill="#4A7FD4" stroke="#4A7FD4" stroke-width="0.18" >C3</text>
<text x="325.30" y="466.30" font-size="6.8" font-weight="bold" text-anchor="start" fill="#D41C6B" stroke="#D41C6B" stroke-width="0.18" >IL5</text>
<text x="263.40" y="482.60" font-size="6.8" font-weight="bold" text-anchor="start" fill="#6DBE3C" stroke="#6DBE3C" stroke-width="0.18" >APOB</text>
<text x="245.00" y="488.40" font-size="6.8" font-weight="bold" text-anchor="start" fill="#6B3B1B" stroke="#6B3B1B" stroke-width="0.18" >MN1</text>
<text x="227.00" y="494.50" font-size="6.8" font-weight="bold" text-anchor="start" fill="#6DBE3C" stroke="#6DBE3C" stroke-width="0.18" >ABHD14B</text>
<text x="141.40" y="515.90" font-size="6.8" font-weight="bold" text-anchor="start" fill="#6DBE3C" stroke="#6DBE3C" stroke-width="0.18" >DNPEP</text>
<text x="122.10" y="521.70" font-size="6.8" font-weight="bold" text-anchor="start" fill="#6DBE3C" stroke="#6DBE3C" stroke-width="0.18" >APOA2</text>
<text x="64.30" y="566.70" font-size="6.8" font-weight="bold" text-anchor="start" fill="#6B3B1B" stroke="#6B3B1B" stroke-width="0.18" >VCPKMT</text>
<rect x="468" y="358.2" width="153.5" height="195.5" fill="none" stroke="#444" stroke-width="0.9"/>
<circle cx="530.03" cy="435.00" r="1.75" fill="#000"/><circle cx="529.44" cy="438.20" r="1.75" fill="#000"/><circle cx="528.61" cy="441.40" r="1.75" fill="#000"/><circle cx="527.95" cy="444.60" r="1.75" fill="#000"/><circle cx="527.32" cy="447.80" r="1.75" fill="#000"/><circle cx="526.70" cy="451.00" r="1.75" fill="#000"/><circle cx="525.92" cy="454.20" r="1.75" fill="#000"/><circle cx="524.88" cy="457.40" r="1.75" fill="#000"/><circle cx="524.67" cy="458.00" r="1.75" fill="#000"/><circle cx="524.22" cy="459.23" r="1.75" fill="#000"/><circle cx="523.78" cy="460.46" r="1.75" fill="#000"/><circle cx="523.34" cy="461.69" r="1.75" fill="#000"/><circle cx="522.93" cy="462.92" r="1.75" fill="#000"/><circle cx="522.52" cy="464.15" r="1.75" fill="#000"/><circle cx="522.11" cy="465.38" r="1.75" fill="#000"/><circle cx="521.69" cy="466.61" r="1.75" fill="#000"/><circle cx="521.28" cy="467.84" r="1.75" fill="#000"/><circle cx="520.87" cy="469.07" r="1.75" fill="#000"/><circle cx="520.46" cy="470.30" r="1.75" fill="#000"/><circle cx="520.05" cy="471.53" r="1.75" fill="#000"/><circle cx="519.65" cy="472.76" r="1.75" fill="#000"/><circle cx="519.25" cy="473.99" r="1.75" fill="#000"/><circle cx="518.87" cy="475.22" r="1.75" fill="#000"/><circle cx="518.49" cy="476.45" r="1.75" fill="#000"/><circle cx="518.10" cy="477.68" r="1.75" fill="#000"/><circle cx="517.71" cy="478.91" r="1.75" fill="#000"/><circle cx="517.30" cy="480.14" r="1.75" fill="#000"/><circle cx="516.88" cy="481.36" r="1.75" fill="#000"/><circle cx="516.43" cy="482.59" r="1.75" fill="#000"/><circle cx="515.94" cy="483.82" r="1.75" fill="#000"/><circle cx="515.43" cy="485.05" r="1.75" fill="#000"/><circle cx="514.90" cy="486.28" r="1.75" fill="#000"/><circle cx="514.35" cy="487.51" r="1.75" fill="#000"/><circle cx="513.78" cy="488.74" r="1.75" fill="#000"/><circle cx="513.20" cy="489.97" r="1.75" fill="#000"/><circle cx="512.62" cy="491.20" r="1.75" fill="#000"/><circle cx="512.04" cy="492.43" r="1.75" fill="#000"/><circle cx="511.44" cy="493.66" r="1.75" fill="#000"/><circle cx="510.83" cy="494.89" r="1.75" fill="#000"/><circle cx="510.20" cy="496.12" r="1.75" fill="#000"/><circle cx="509.57" cy="497.35" r="1.75" fill="#000"/><circle cx="508.94" cy="498.58" r="1.75" fill="#000"/><circle cx="508.30" cy="499.81" r="1.75" fill="#000"/><circle cx="507.68" cy="501.04" r="1.75" fill="#000"/><circle cx="507.08" cy="502.27" r="1.75" fill="#000"/><circle cx="506.49" cy="503.50" r="1.75" fill="#000"/><circle cx="505.92" cy="504.73" r="1.75" fill="#000"/><circle cx="505.33" cy="505.96" r="1.75" fill="#000"/><circle cx="504.73" cy="507.19" r="1.75" fill="#000"/><circle cx="504.08" cy="508.42" r="1.75" fill="#000"/><circle cx="503.39" cy="509.65" r="1.75" fill="#000"/><circle cx="502.62" cy="510.88" r="1.75" fill="#000"/><circle cx="501.76" cy="512.11" r="1.75" fill="#000"/><circle cx="500.84" cy="513.34" r="1.75" fill="#000"/><circle cx="499.90" cy="514.57" r="1.75" fill="#000"/><circle cx="498.96" cy="515.80" r="1.75" fill="#000"/><circle cx="498.06" cy="517.03" r="1.75" fill="#000"/><circle cx="497.22" cy="518.26" r="1.75" fill="#000"/><circle cx="496.42" cy="519.49" r="1.75" fill="#000"/><circle cx="495.64" cy="520.72" r="1.75" fill="#000"/><circle cx="494.87" cy="521.95" r="1.75" fill="#000"/><circle cx="494.09" cy="523.18" r="1.75" fill="#000"/><circle cx="493.30" cy="524.41" r="1.75" fill="#000"/><circle cx="492.48" cy="525.64" r="1.75" fill="#000"/><circle cx="491.62" cy="526.86" r="1.75" fill="#000"/><circle cx="490.70" cy="528.09" r="1.75" fill="#000"/><circle cx="489.71" cy="529.32" r="1.75" fill="#000"/><circle cx="488.69" cy="530.55" r="1.75" fill="#000"/><circle cx="487.63" cy="531.78" r="1.75" fill="#000"/><circle cx="486.56" cy="533.01" r="1.75" fill="#000"/><circle cx="485.51" cy="534.24" r="1.75" fill="#000"/><circle cx="484.45" cy="535.47" r="1.75" fill="#000"/><circle cx="483.39" cy="536.70" r="1.75" fill="#000"/><circle cx="482.31" cy="537.93" r="1.75" fill="#000"/><circle cx="481.23" cy="539.16" r="1.75" fill="#000"/><circle cx="480.13" cy="540.39" r="1.75" fill="#000"/><circle cx="479.01" cy="541.62" r="1.75" fill="#000"/><circle cx="477.86" cy="542.85" r="1.75" fill="#000"/><circle cx="476.70" cy="544.08" r="1.75" fill="#000"/><circle cx="475.51" cy="545.31" r="1.75" fill="#000"/><circle cx="474.29" cy="546.54" r="1.75" fill="#000"/><circle cx="473.06" cy="547.77" r="1.75" fill="#000"/><circle cx="471.81" cy="549.00" r="1.75" fill="#000"/>
<circle cx="530.5" cy="423.3" r="1.75" fill="#000"/>
<circle cx="531.4" cy="417.5" r="1.75" fill="#6B3B1B"/>
<circle cx="532.0" cy="406.8" r="1.75" fill="#4A7FD4"/>
<circle cx="532.8" cy="402.5" r="1.75" fill="#000"/>
<circle cx="533.2" cy="400.5" r="1.75" fill="#6B3B1B"/>
<circle cx="533.9" cy="397.3" r="1.75" fill="#4A7FD4"/>
<circle cx="534.6" cy="389.5" r="1.75" fill="#D41C6B"/>
<circle cx="535.0" cy="386.0" r="1.75" fill="#000"/>
<circle cx="535.0" cy="382.2" r="1.75" fill="#D41C6B"/>
<circle cx="535.6" cy="376.6" r="1.75" fill="#4A7FD4"/>
<circle cx="535.8" cy="369.6" r="1.75" fill="#4A7FD4"/>
<line x1="535.80" y1="369.60" x2="568.80" y2="365.70" stroke="#4A7FD4" stroke-width="0.6" />
<text x="571.10" y="368.90" font-size="6.5" font-weight="bold" text-anchor="start" fill="#4A7FD4" stroke="#4A7FD4" stroke-width="0.18" >LY9</text>
<line x1="535.60" y1="376.60" x2="568.80" y2="376.20" stroke="#4A7FD4" stroke-width="0.6" />
<text x="571.10" y="379.40" font-size="6.5" font-weight="bold" text-anchor="start" fill="#4A7FD4" stroke="#4A7FD4" stroke-width="0.18" >ICAM3</text>
<line x1="535.00" y1="382.20" x2="568.80" y2="385.40" stroke="#D41C6B" stroke-width="0.6" />
<text x="571.10" y="388.60" font-size="6.5" font-weight="bold" text-anchor="start" fill="#D41C6B" stroke="#D41C6B" stroke-width="0.18" >FCRL5</text>
<line x1="534.60" y1="389.50" x2="568.80" y2="398.50" stroke="#D41C6B" stroke-width="0.6" />
<text x="571.10" y="401.70" font-size="6.5" font-weight="bold" text-anchor="start" fill="#D41C6B" stroke="#D41C6B" stroke-width="0.18" >TNFRSF13B</text>
<line x1="533.60" y1="398.50" x2="568.80" y2="407.30" stroke="#D41C6B" stroke-width="0.6" />
<text x="571.10" y="410.50" font-size="6.5" font-weight="bold" text-anchor="start" fill="#D41C6B" stroke="#D41C6B" stroke-width="0.18" >CD79B</text>
<line x1="533.90" y1="397.30" x2="568.80" y2="416.00" stroke="#4A7FD4" stroke-width="0.6" />
<text x="571.10" y="419.20" font-size="6.5" font-weight="bold" text-anchor="start" fill="#4A7FD4" stroke="#4A7FD4" stroke-width="0.18" >SLAMF6</text>
<line x1="533.50" y1="398.80" x2="568.80" y2="423.80" stroke="#4A7FD4" stroke-width="0.6" />
<text x="571.10" y="427.00" font-size="6.5" font-weight="bold" text-anchor="start" fill="#4A7FD4" stroke="#4A7FD4" stroke-width="0.18" >CD48</text>
<line x1="533.20" y1="400.50" x2="568.80" y2="431.80" stroke="#6B3B1B" stroke-width="0.6" />
<text x="571.10" y="435.00" font-size="6.5" font-weight="bold" text-anchor="start" fill="#6B3B1B" stroke="#6B3B1B" stroke-width="0.18" >TXNDC5</text>
<line x1="533.00" y1="401.50" x2="568.80" y2="441.30" stroke="#D41C6B" stroke-width="0.6" />
<text x="571.10" y="444.50" font-size="6.5" font-weight="bold" text-anchor="start" fill="#D41C6B" stroke="#D41C6B" stroke-width="0.18" >TNFRSF17</text>
<line x1="532.00" y1="406.80" x2="568.80" y2="450.60" stroke="#4A7FD4" stroke-width="0.6" />
<text x="571.10" y="453.80" font-size="6.5" font-weight="bold" text-anchor="start" fill="#4A7FD4" stroke="#4A7FD4" stroke-width="0.18" >SLAMF7</text>
<line x1="531.40" y1="417.50" x2="568.80" y2="460.60" stroke="#6B3B1B" stroke-width="0.6" />
<text x="571.10" y="463.80" font-size="6.5" font-weight="bold" text-anchor="start" fill="#6B3B1B" stroke="#6B3B1B" stroke-width="0.18" >CNTN5</text>
<line x1="531.70" y1="422.90" x2="568.80" y2="469.30" stroke="#4A7FD4" stroke-width="0.6" />
<text x="571.10" y="472.50" font-size="6.5" font-weight="bold" text-anchor="start" fill="#4A7FD4" stroke="#4A7FD4" stroke-width="0.18" >SDC1</text>
<line x1="527.00" y1="455.00" x2="568.80" y2="486.70" stroke="#6B3B1B" stroke-width="0.6" />
<circle cx="527.0" cy="455.0" r="1.5" fill="#6B3B1B"/>
<text x="571.10" y="489.90" font-size="6.5" font-weight="bold" text-anchor="start" fill="#6B3B1B" stroke="#6B3B1B" stroke-width="0.18" >EPO</text>
<line x1="522.60" y1="463.80" x2="568.80" y2="495.50" stroke="#4A7FD4" stroke-width="0.6" />
<circle cx="522.6" cy="463.8" r="1.5" fill="#4A7FD4"/>
<text x="571.10" y="498.70" font-size="6.5" font-weight="bold" text-anchor="start" fill="#4A7FD4" stroke="#4A7FD4" stroke-width="0.18" >CD274</text>
<line x1="518.60" y1="477.50" x2="568.80" y2="503.60" stroke="#D41C6B" stroke-width="0.6" />
<circle cx="518.6" cy="477.5" r="1.5" fill="#D41C6B"/>
<text x="571.10" y="506.80" font-size="6.5" font-weight="bold" text-anchor="start" fill="#D41C6B" stroke="#D41C6B" stroke-width="0.18" >IL5RA</text>
<line x1="516.60" y1="482.20" x2="568.80" y2="510.80" stroke="#4A7FD4" stroke-width="0.6" />
<circle cx="516.6" cy="482.2" r="1.5" fill="#4A7FD4"/>
<text x="571.10" y="514.00" font-size="6.5" font-weight="bold" text-anchor="start" fill="#4A7FD4" stroke="#4A7FD4" stroke-width="0.18" >SLAMF1</text>
<line x1="513.00" y1="490.60" x2="568.80" y2="517.80" stroke="#6B3B1B" stroke-width="0.6" />
<circle cx="513.0" cy="490.6" r="1.5" fill="#6B3B1B"/>
<text x="571.10" y="521.00" font-size="6.5" font-weight="bold" text-anchor="start" fill="#6B3B1B" stroke="#6B3B1B" stroke-width="0.18" >ST6GAL1</text>
<line x1="512.30" y1="491.90" x2="568.80" y2="525.50" stroke="#4A7FD4" stroke-width="0.6" />
<circle cx="512.3" cy="491.9" r="1.5" fill="#4A7FD4"/>
<text x="571.10" y="528.70" font-size="6.5" font-weight="bold" text-anchor="start" fill="#4A7FD4" stroke="#4A7FD4" stroke-width="0.18" >B2M</text>
<text x="0.10" y="643.70" font-size="19.8" font-weight="bold" text-anchor="start" fill="#000" stroke="#000" stroke-width="0.18" >D</text>
<text x="48.3" y="639.60" font-size="10.1" font-weight="bold" stroke="#000" stroke-width="0.18">B-cell signaling<tspan font-size="8.55">, development and differentiation</tspan></text>
<rect x="49.50" y="644.50" width="11.15" height="10.97" fill="#7469f8"/><rect x="60.60" y="644.50" width="11.15" height="10.97" fill="#9591f9"/><rect x="71.70" y="644.50" width="11.15" height="10.97" fill="#7469f8"/><rect x="82.80" y="644.50" width="11.15" height="10.97" fill="#a8a5fa"/><rect x="93.90" y="644.50" width="11.15" height="10.97" fill="#817df7"/><rect x="49.50" y="655.42" width="11.15" height="10.97" fill="#cfcdfc"/><rect x="60.60" y="655.42" width="11.15" height="10.97" fill="#f0f0fe"/><rect x="71.70" y="655.42" width="11.15" height="10.97" fill="#dddcfd"/><rect x="82.80" y="655.42" width="11.15" height="10.97" fill="#b6b4fb"/><rect x="93.90" y="655.42" width="11.15" height="10.97" fill="#e2e1fd"/><rect x="49.50" y="666.33" width="11.15" height="10.97" fill="#9e9bf9"/><rect x="60.60" y="666.33" width="11.15" height="10.97" fill="#d3d2fc"/><rect x="71.70" y="666.33" width="11.15" height="10.97" fill="#8682f8"/><rect x="82.80" y="666.33" width="11.15" height="10.97" fill="#817df7"/><rect x="93.90" y="666.33" width="11.15" height="10.97" fill="#b6b4fb"/><rect x="49.50" y="677.25" width="11.15" height="10.97" fill="#a8a5fa"/><rect x="60.60" y="677.25" width="11.15" height="10.97" fill="#a8a5fa"/><rect x="71.70" y="677.25" width="11.15" height="10.97" fill="#a3a0f9"/><rect x="82.80" y="677.25" width="11.15" height="10.97" fill="#a8a5fa"/><rect x="93.90" y="677.25" width="11.15" height="10.97" fill="#adaafa"/><rect x="49.50" y="688.17" width="11.15" height="10.97" fill="#7469f8"/><rect x="60.60" y="688.17" width="11.15" height="10.97" fill="#9e9bf9"/><rect x="71.70" y="688.17" width="11.15" height="10.97" fill="#a3a0f9"/><rect x="82.80" y="688.17" width="11.15" height="10.97" fill="#9591f9"/><rect x="93.90" y="688.17" width="11.15" height="10.97" fill="#b2affa"/><rect x="49.50" y="699.08" width="11.15" height="10.97" fill="#fce7e7"/><rect x="60.60" y="699.08" width="11.15" height="10.97" fill="#fbdada"/><rect x="71.70" y="699.08" width="11.15" height="10.97" fill="#fbd6d6"/><rect x="82.80" y="699.08" width="11.15" height="10.97" fill="#fad2d2"/><rect x="93.90" y="699.08" width="11.15" height="10.97" fill="#ec5050"/>
<rect x="49.50" y="644.50" width="55.50" height="65.50" fill="none" stroke="#111" stroke-width="1.25" rx="0.8"/>
<rect x="111.50" y="644.50" width="11.10" height="10.97" fill="#9e9bf9"/><rect x="122.55" y="644.50" width="11.10" height="10.97" fill="#fdefef"/><rect x="133.60" y="644.50" width="11.10" height="10.97" fill="#f0f0fe"/><rect x="144.65" y="644.50" width="11.10" height="10.97" fill="#8682f8"/><rect x="155.70" y="644.50" width="11.10" height="10.97" fill="#b6b4fb"/><rect x="166.75" y="644.50" width="11.10" height="10.97" fill="#9e9bf9"/><rect x="177.80" y="644.50" width="11.10" height="10.97" fill="#9e9bf9"/><rect x="188.85" y="644.50" width="11.10" height="10.97" fill="#fcdfdf"/><rect x="199.90" y="644.50" width="11.10" height="10.97" fill="#fcdfdf"/><rect x="210.95" y="644.50" width="11.10" height="10.97" fill="#e7e6fe"/><rect x="111.50" y="655.42" width="11.10" height="10.97" fill="#7469f8"/><rect x="122.55" y="655.42" width="11.10" height="10.97" fill="#e2e1fd"/><rect x="133.60" y="655.42" width="11.10" height="10.97" fill="#9e9bf9"/><rect x="144.65" y="655.42" width="11.10" height="10.97" fill="#7c78f7"/><rect x="155.70" y="655.42" width="11.10" height="10.97" fill="#f0f0fe"/><rect x="166.75" y="655.42" width="11.10" height="10.97" fill="#7c78f7"/><rect x="177.80" y="655.42" width="11.10" height="10.97" fill="#e2e1fd"/><rect x="188.85" y="655.42" width="11.10" height="10.97" fill="#a8a5fa"/><rect x="199.90" y="655.42" width="11.10" height="10.97" fill="#9591f9"/><rect x="210.95" y="655.42" width="11.10" height="10.97" fill="#fffbfb"/><rect x="111.50" y="666.33" width="11.10" height="10.97" fill="#cfcdfc"/><rect x="122.55" y="666.33" width="11.10" height="10.97" fill="#fdebeb"/><rect x="133.60" y="666.33" width="11.10" height="10.97" fill="#b6b4fb"/><rect x="144.65" y="666.33" width="11.10" height="10.97" fill="#c0befb"/><rect x="155.70" y="666.33" width="11.10" height="10.97" fill="#c5c3fc"/><rect x="166.75" y="666.33" width="11.10" height="10.97" fill="#c0befb"/><rect x="177.80" y="666.33" width="11.10" height="10.97" fill="#cfcdfc"/><rect x="188.85" y="666.33" width="11.10" height="10.97" fill="#684ffa"/><rect x="199.90" y="666.33" width="11.10" height="10.97" fill="#c0befb"/><rect x="210.95" y="666.33" width="11.10" height="10.97" fill="#f9c6c6"/><rect x="111.50" y="677.25" width="11.10" height="10.97" fill="#c5c3fc"/><rect x="122.55" y="677.25" width="11.10" height="10.97" fill="#bbb9fb"/><rect x="133.60" y="677.25" width="11.10" height="10.97" fill="#bbb9fb"/><rect x="144.65" y="677.25" width="11.10" height="10.97" fill="#fef3f3"/><rect x="155.70" y="677.25" width="11.10" height="10.97" fill="#c5c3fc"/><rect x="166.75" y="677.25" width="11.10" height="10.97" fill="#c5c3fc"/><rect x="177.80" y="677.25" width="11.10" height="10.97" fill="#d3d2fc"/><rect x="188.85" y="677.25" width="11.10" height="10.97" fill="#fce7e7"/><rect x="199.90" y="677.25" width="11.10" height="10.97" fill="#dddcfd"/><rect x="210.95" y="677.25" width="11.10" height="10.97" fill="#a8a5fa"/><rect x="111.50" y="688.17" width="11.10" height="10.97" fill="#c0befb"/><rect x="122.55" y="688.17" width="11.10" height="10.97" fill="#fce7e7"/><rect x="133.60" y="688.17" width="11.10" height="10.97" fill="#fbd6d6"/><rect x="144.65" y="688.17" width="11.10" height="10.97" fill="#4400ff"/><rect x="155.70" y="688.17" width="11.10" height="10.97" fill="#c0befb"/><rect x="166.75" y="688.17" width="11.10" height="10.97" fill="#c5c3fc"/><rect x="177.80" y="688.17" width="11.10" height="10.97" fill="#f0f0fe"/><rect x="188.85" y="688.17" width="11.10" height="10.97" fill="#f8baba"/><rect x="199.90" y="688.17" width="11.10" height="10.97" fill="#f0f0fe"/><rect x="210.95" y="688.17" width="11.10" height="10.97" fill="#fbdada"/><rect x="111.50" y="699.08" width="11.10" height="10.97" fill="#cfcdfc"/><rect x="122.55" y="699.08" width="11.10" height="10.97" fill="#fbd6d6"/><rect x="133.60" y="699.08" width="11.10" height="10.97" fill="#fce7e7"/><rect x="144.65" y="699.08" width="11.10" height="10.97" fill="#7469f8"/><rect x="155.70" y="699.08" width="11.10" height="10.97" fill="#fef7f7"/><rect x="166.75" y="699.08" width="11.10" height="10.97" fill="#fdebeb"/><rect x="177.80" y="699.08" width="11.10" height="10.97" fill="#684ffa"/><rect x="188.85" y="699.08" width="11.10" height="10.97" fill="#684ffa"/><rect x="199.90" y="699.08" width="11.10" height="10.97" fill="#fdefef"/><rect x="210.95" y="699.08" width="11.10" height="10.97" fill="#ecebfe"/>
<rect x="111.50" y="644.50" width="110.50" height="65.50" fill="none" stroke="#111" stroke-width="1.25" rx="0.8"/>
<rect x="229.30" y="644.50" width="11.26" height="10.97" fill="#f6aeae"/><rect x="240.51" y="644.50" width="11.26" height="10.97" fill="#f5a6a6"/><rect x="251.73" y="644.50" width="11.26" height="10.97" fill="#f7b6b6"/><rect x="262.94" y="644.50" width="11.26" height="10.97" fill="#f28585"/><rect x="274.15" y="644.50" width="11.26" height="10.97" fill="#f7b6b6"/><rect x="285.36" y="644.50" width="11.26" height="10.97" fill="#f8bebe"/><rect x="296.57" y="644.50" width="11.26" height="10.97" fill="#f5a6a6"/><rect x="307.79" y="644.50" width="11.26" height="10.97" fill="#ecebfe"/><rect x="229.30" y="655.42" width="11.26" height="10.97" fill="#f8bebe"/><rect x="240.51" y="655.42" width="11.26" height="10.97" fill="#f6aaaa"/><rect x="251.73" y="655.42" width="11.26" height="10.97" fill="#f7b2b2"/><rect x="262.94" y="655.42" width="11.26" height="10.97" fill="#f38d8d"/><rect x="274.15" y="655.42" width="11.26" height="10.97" fill="#f38d8d"/><rect x="285.36" y="655.42" width="11.26" height="10.97" fill="#f59e9e"/><rect x="296.57" y="655.42" width="11.26" height="10.97" fill="#f8bebe"/><rect x="307.79" y="655.42" width="11.26" height="10.97" fill="#b6b4fb"/><rect x="229.30" y="666.33" width="11.26" height="10.97" fill="#f59e9e"/><rect x="240.51" y="666.33" width="11.26" height="10.97" fill="#ef6d6d"/><rect x="251.73" y="666.33" width="11.26" height="10.97" fill="#fce7e7"/><rect x="262.94" y="666.33" width="11.26" height="10.97" fill="#fef3f3"/><rect x="274.15" y="666.33" width="11.26" height="10.97" fill="#f49999"/><rect x="285.36" y="666.33" width="11.26" height="10.97" fill="#fcdfdf"/><rect x="296.57" y="666.33" width="11.26" height="10.97" fill="#f39191"/><rect x="307.79" y="666.33" width="11.26" height="10.97" fill="#fce7e7"/><rect x="229.30" y="677.25" width="11.26" height="10.97" fill="#f49999"/><rect x="240.51" y="677.25" width="11.26" height="10.97" fill="#ee5d5d"/><rect x="251.73" y="677.25" width="11.26" height="10.97" fill="#fafaff"/><rect x="262.94" y="677.25" width="11.26" height="10.97" fill="#f17979"/><rect x="274.15" y="677.25" width="11.26" height="10.97" fill="#f8baba"/><rect x="285.36" y="677.25" width="11.26" height="10.97" fill="#fbd6d6"/><rect x="296.57" y="677.25" width="11.26" height="10.97" fill="#f7b6b6"/><rect x="307.79" y="677.25" width="11.26" height="10.97" fill="#d8d7fd"/><rect x="229.30" y="688.17" width="11.26" height="10.97" fill="#f59e9e"/><rect x="240.51" y="688.17" width="11.26" height="10.97" fill="#a8a5fa"/><rect x="251.73" y="688.17" width="11.26" height="10.97" fill="#fdefef"/><rect x="262.94" y="688.17" width="11.26" height="10.97" fill="#fce7e7"/><rect x="274.15" y="688.17" width="11.26" height="10.97" fill="#f39191"/><rect x="285.36" y="688.17" width="11.26" height="10.97" fill="#f5a6a6"/><rect x="296.57" y="688.17" width="11.26" height="10.97" fill="#f49595"/><rect x="307.79" y="688.17" width="11.26" height="10.97" fill="#fffbfb"/><rect x="229.30" y="699.08" width="11.26" height="10.97" fill="#fdebeb"/><rect x="240.51" y="699.08" width="11.26" height="10.97" fill="#684ffa"/><rect x="251.73" y="699.08" width="11.26" height="10.97" fill="#f8bebe"/><rect x="262.94" y="699.08" width="11.26" height="10.97" fill="#cfcdfc"/><rect x="274.15" y="699.08" width="11.26" height="10.97" fill="#fdefef"/><rect x="285.36" y="699.08" width="11.26" height="10.97" fill="#f5f5fe"/><rect x="296.57" y="699.08" width="11.26" height="10.97" fill="#ecebfe"/><rect x="307.79" y="699.08" width="11.26" height="10.97" fill="#5c34fb"/>
<rect x="229.30" y="644.50" width="89.70" height="65.50" fill="none" stroke="#111" stroke-width="1.25" rx="0.8"/>
<text x="44.00" y="652.66" font-size="6.7" font-weight="bold" text-anchor="end" fill="#000" stroke="#000" stroke-width="0.18" >TNFRSF17</text>
<line x1="45.60" y1="649.96" x2="49.80" y2="649.96" stroke="#111" stroke-width="1.3" />
<text x="44.00" y="663.58" font-size="6.7" font-weight="bold" text-anchor="end" fill="#000" stroke="#000" stroke-width="0.18" >CD79B</text>
<line x1="45.60" y1="660.88" x2="49.80" y2="660.88" stroke="#111" stroke-width="1.3" />
<text x="44.00" y="674.49" font-size="6.7" font-weight="bold" text-anchor="end" fill="#000" stroke="#000" stroke-width="0.18" >FCRL5</text>
<line x1="45.60" y1="671.79" x2="49.80" y2="671.79" stroke="#111" stroke-width="1.3" />
<text x="44.00" y="685.41" font-size="6.7" font-weight="bold" text-anchor="end" fill="#000" stroke="#000" stroke-width="0.18" >TNFRSF13B</text>
<line x1="45.60" y1="682.71" x2="49.80" y2="682.71" stroke="#111" stroke-width="1.3" />
<text x="44.00" y="696.33" font-size="6.7" font-weight="bold" text-anchor="end" fill="#000" stroke="#000" stroke-width="0.18" >IL5RA</text>
<line x1="45.60" y1="693.62" x2="49.80" y2="693.62" stroke="#111" stroke-width="1.3" />
<text x="44.00" y="707.24" font-size="6.7" font-weight="bold" text-anchor="end" fill="#000" stroke="#000" stroke-width="0.18" >IL5</text>
<line x1="45.60" y1="704.54" x2="49.80" y2="704.54" stroke="#111" stroke-width="1.3" />
<text x="0.40" y="720.00" font-size="18.9" font-weight="bold" text-anchor="start" fill="#000" stroke="#000" stroke-width="0.18" >E</text>
<text x="48.80" y="723.10" font-size="9.5" font-weight="bold" text-anchor="start" fill="#000" stroke="#000" stroke-width="0.18" >Immune regulation</text>
<rect x="49.50" y="727.40" width="11.15" height="10.98" fill="#9e9bf9"/><rect x="60.60" y="727.40" width="11.15" height="10.98" fill="#9591f9"/><rect x="71.70" y="727.40" width="11.15" height="10.98" fill="#adaafa"/><rect x="82.80" y="727.40" width="11.15" height="10.98" fill="#b2affa"/><rect x="93.90" y="727.40" width="11.15" height="10.98" fill="#b2affa"/><rect x="49.50" y="738.33" width="11.15" height="10.98" fill="#9e9bf9"/><rect x="60.60" y="738.33" width="11.15" height="10.98" fill="#fafaff"/><rect x="71.70" y="738.33" width="11.15" height="10.98" fill="#8682f8"/><rect x="82.80" y="738.33" width="11.15" height="10.98" fill="#e7e6fe"/><rect x="93.90" y="738.33" width="11.15" height="10.98" fill="#b2affa"/><rect x="49.50" y="749.26" width="11.15" height="10.98" fill="#8682f8"/><rect x="60.60" y="749.26" width="11.15" height="10.98" fill="#d8d7fd"/><rect x="71.70" y="749.26" width="11.15" height="10.98" fill="#d8d7fd"/><rect x="82.80" y="749.26" width="11.15" height="10.98" fill="#c5c3fc"/><rect x="93.90" y="749.26" width="11.15" height="10.98" fill="#b6b4fb"/><rect x="49.50" y="760.19" width="11.15" height="10.98" fill="#7469f8"/><rect x="60.60" y="760.19" width="11.15" height="10.98" fill="#f0f0fe"/><rect x="71.70" y="760.19" width="11.15" height="10.98" fill="#f5f5fe"/><rect x="82.80" y="760.19" width="11.15" height="10.98" fill="#a3a0f9"/><rect x="93.90" y="760.19" width="11.15" height="10.98" fill="#d3d2fc"/><rect x="49.50" y="771.12" width="11.15" height="10.98" fill="#908cf8"/><rect x="60.60" y="771.12" width="11.15" height="10.98" fill="#b6b4fb"/><rect x="71.70" y="771.12" width="11.15" height="10.98" fill="#b6b4fb"/><rect x="82.80" y="771.12" width="11.15" height="10.98" fill="#b6b4fb"/><rect x="93.90" y="771.12" width="11.15" height="10.98" fill="#a3a0f9"/><rect x="49.50" y="782.05" width="11.15" height="10.98" fill="#b6b4fb"/><rect x="60.60" y="782.05" width="11.15" height="10.98" fill="#bbb9fb"/><rect x="71.70" y="782.05" width="11.15" height="10.98" fill="#bbb9fb"/><rect x="82.80" y="782.05" width="11.15" height="10.98" fill="#bbb9fb"/><rect x="93.90" y="782.05" width="11.15" height="10.98" fill="#cfcdfc"/><rect x="49.50" y="792.98" width="11.15" height="10.98" fill="#9996f9"/><rect x="60.60" y="792.98" width="11.15" height="10.98" fill="#b2affa"/><rect x="71.70" y="792.98" width="11.15" height="10.98" fill="#b6b4fb"/><rect x="82.80" y="792.98" width="11.15" height="10.98" fill="#b2affa"/><rect x="93.90" y="792.98" width="11.15" height="10.98" fill="#a3a0f9"/><rect x="49.50" y="803.91" width="11.15" height="10.98" fill="#c5c3fc"/><rect x="60.60" y="803.91" width="11.15" height="10.98" fill="#e7e6fe"/><rect x="71.70" y="803.91" width="11.15" height="10.98" fill="#c5c3fc"/><rect x="82.80" y="803.91" width="11.15" height="10.98" fill="#d8d7fd"/><rect x="93.90" y="803.91" width="11.15" height="10.98" fill="#a8a5fa"/><rect x="49.50" y="814.84" width="11.15" height="10.98" fill="#a8a5fa"/><rect x="60.60" y="814.84" width="11.15" height="10.98" fill="#adaafa"/><rect x="71.70" y="814.84" width="11.15" height="10.98" fill="#b2affa"/><rect x="82.80" y="814.84" width="11.15" height="10.98" fill="#adaafa"/><rect x="93.90" y="814.84" width="11.15" height="10.98" fill="#9e9bf9"/><rect x="49.50" y="825.77" width="11.15" height="10.98" fill="#6344fa"/><rect x="60.60" y="825.77" width="11.15" height="10.98" fill="#7973f7"/><rect x="71.70" y="825.77" width="11.15" height="10.98" fill="#613ffb"/><rect x="82.80" y="825.77" width="11.15" height="10.98" fill="#5c34fb"/><rect x="93.90" y="825.77" width="11.15" height="10.98" fill="#7973f7"/>
<rect x="49.50" y="727.40" width="55.50" height="109.30" fill="none" stroke="#111" stroke-width="1.25" rx="0.8"/>
<rect x="111.50" y="727.40" width="11.10" height="10.98" fill="#6d59f9"/><rect x="122.55" y="727.40" width="11.10" height="10.98" fill="#f8bebe"/><rect x="133.60" y="727.40" width="11.10" height="10.98" fill="#fef7f7"/><rect x="144.65" y="727.40" width="11.10" height="10.98" fill="#e7e6fe"/><rect x="155.70" y="727.40" width="11.10" height="10.98" fill="#d3d2fc"/><rect x="166.75" y="727.40" width="11.10" height="10.98" fill="#cfcdfc"/><rect x="177.80" y="727.40" width="11.10" height="10.98" fill="#dddcfd"/><rect x="188.85" y="727.40" width="11.10" height="10.98" fill="#cfcdfc"/><rect x="199.90" y="727.40" width="11.10" height="10.98" fill="#fdefef"/><rect x="210.95" y="727.40" width="11.10" height="10.98" fill="#f0f0fe"/><rect x="111.50" y="738.33" width="11.10" height="10.98" fill="#c5c3fc"/><rect x="122.55" y="738.33" width="11.10" height="10.98" fill="#b2affa"/><rect x="133.60" y="738.33" width="11.10" height="10.98" fill="#a8a5fa"/><rect x="144.65" y="738.33" width="11.10" height="10.98" fill="#9e9bf9"/><rect x="155.70" y="738.33" width="11.10" height="10.98" fill="#a8a5fa"/><rect x="166.75" y="738.33" width="11.10" height="10.98" fill="#bbb9fb"/><rect x="177.80" y="738.33" width="11.10" height="10.98" fill="#fef3f3"/><rect x="188.85" y="738.33" width="11.10" height="10.98" fill="#b2affa"/><rect x="199.90" y="738.33" width="11.10" height="10.98" fill="#fef3f3"/><rect x="210.95" y="738.33" width="11.10" height="10.98" fill="#cac8fc"/><rect x="111.50" y="749.26" width="11.10" height="10.98" fill="#9e9bf9"/><rect x="122.55" y="749.26" width="11.10" height="10.98" fill="#fdefef"/><rect x="133.60" y="749.26" width="11.10" height="10.98" fill="#cac8fc"/><rect x="144.65" y="749.26" width="11.10" height="10.98" fill="#5c34fb"/><rect x="155.70" y="749.26" width="11.10" height="10.98" fill="#cac8fc"/><rect x="166.75" y="749.26" width="11.10" height="10.98" fill="#b2affa"/><rect x="177.80" y="749.26" width="11.10" height="10.98" fill="#e7e6fe"/><rect x="188.85" y="749.26" width="11.10" height="10.98" fill="#c0befb"/><rect x="199.90" y="749.26" width="11.10" height="10.98" fill="#fffbfb"/><rect x="210.95" y="749.26" width="11.10" height="10.98" fill="#ffffff"/><rect x="111.50" y="760.19" width="11.10" height="10.98" fill="#cfcdfc"/><rect x="122.55" y="760.19" width="11.10" height="10.98" fill="#fdefef"/><rect x="133.60" y="760.19" width="11.10" height="10.98" fill="#b6b4fb"/><rect x="144.65" y="760.19" width="11.10" height="10.98" fill="#fdebeb"/><rect x="155.70" y="760.19" width="11.10" height="10.98" fill="#8682f8"/><rect x="166.75" y="760.19" width="11.10" height="10.98" fill="#8682f8"/><rect x="177.80" y="760.19" width="11.10" height="10.98" fill="#ffffff"/><rect x="188.85" y="760.19" width="11.10" height="10.98" fill="#684ffa"/><rect x="199.90" y="760.19" width="11.10" height="10.98" fill="#ecebfe"/><rect x="210.95" y="760.19" width="11.10" height="10.98" fill="#fce7e7"/><rect x="111.50" y="771.12" width="11.10" height="10.98" fill="#8682f8"/><rect x="122.55" y="771.12" width="11.10" height="10.98" fill="#fef3f3"/><rect x="133.60" y="771.12" width="11.10" height="10.98" fill="#fef3f3"/><rect x="144.65" y="771.12" width="11.10" height="10.98" fill="#7c78f7"/><rect x="155.70" y="771.12" width="11.10" height="10.98" fill="#d8d7fd"/><rect x="166.75" y="771.12" width="11.10" height="10.98" fill="#8682f8"/><rect x="177.80" y="771.12" width="11.10" height="10.98" fill="#b2affa"/><rect x="188.85" y="771.12" width="11.10" height="10.98" fill="#bbb9fb"/><rect x="199.90" y="771.12" width="11.10" height="10.98" fill="#fcdfdf"/><rect x="210.95" y="771.12" width="11.10" height="10.98" fill="#e2e1fd"/><rect x="111.50" y="782.05" width="11.10" height="10.98" fill="#e7e6fe"/><rect x="122.55" y="782.05" width="11.10" height="10.98" fill="#fce3e3"/><rect x="133.60" y="782.05" width="11.10" height="10.98" fill="#a8a5fa"/><rect x="144.65" y="782.05" width="11.10" height="10.98" fill="#9591f9"/><rect x="155.70" y="782.05" width="11.10" height="10.98" fill="#f5f5fe"/><rect x="166.75" y="782.05" width="11.10" height="10.98" fill="#b6b4fb"/><rect x="177.80" y="782.05" width="11.10" height="10.98" fill="#c5c3fc"/><rect x="188.85" y="782.05" width="11.10" height="10.98" fill="#d8d7fd"/><rect x="199.90" y="782.05" width="11.10" height="10.98" fill="#dddcfd"/><rect x="210.95" y="782.05" width="11.10" height="10.98" fill="#f9caca"/><rect x="111.50" y="792.98" width="11.10" height="10.98" fill="#bbb9fb"/><rect x="122.55" y="792.98" width="11.10" height="10.98" fill="#fef7f7"/><rect x="133.60" y="792.98" width="11.10" height="10.98" fill="#b2affa"/><rect x="144.65" y="792.98" width="11.10" height="10.98" fill="#dddcfd"/><rect x="155.70" y="792.98" width="11.10" height="10.98" fill="#e7e6fe"/><rect x="166.75" y="792.98" width="11.10" height="10.98" fill="#b2affa"/><rect x="177.80" y="792.98" width="11.10" height="10.98" fill="#fdebeb"/><rect x="188.85" y="792.98" width="11.10" height="10.98" fill="#f0f0fe"/><rect x="199.90" y="792.98" width="11.10" height="10.98" fill="#fef3f3"/><rect x="210.95" y="792.98" width="11.10" height="10.98" fill="#fdefef"/><rect x="111.50" y="803.91" width="11.10" height="10.98" fill="#cfcdfc"/><rect x="122.55" y="803.91" width="11.10" height="10.98" fill="#f7b6b6"/><rect x="133.60" y="803.91" width="11.10" height="10.98" fill="#dddcfd"/><rect x="144.65" y="803.91" width="11.10" height="10.98" fill="#8b87f8"/><rect x="155.70" y="803.91" width="11.10" height="10.98" fill="#a3a0f9"/><rect x="166.75" y="803.91" width="11.10" height="10.98" fill="#8682f8"/><rect x="177.80" y="803.91" width="11.10" height="10.98" fill="#ecebfe"/><rect x="188.85" y="803.91" width="11.10" height="10.98" fill="#d8d7fd"/><rect x="199.90" y="803.91" width="11.10" height="10.98" fill="#c0befb"/><rect x="210.95" y="803.91" width="11.10" height="10.98" fill="#f5f5fe"/><rect x="111.50" y="814.84" width="11.10" height="10.98" fill="#9e9bf9"/><rect x="122.55" y="814.84" width="11.10" height="10.98" fill="#e7e6fe"/><rect x="133.60" y="814.84" width="11.10" height="10.98" fill="#f5f5fe"/><rect x="144.65" y="814.84" width="11.10" height="10.98" fill="#c0befb"/><rect x="155.70" y="814.84" width="11.10" height="10.98" fill="#c5c3fc"/><rect x="166.75" y="814.84" width="11.10" height="10.98" fill="#c5c3fc"/><rect x="177.80" y="814.84" width="11.10" height="10.98" fill="#d8d7fd"/><rect x="188.85" y="814.84" width="11.10" height="10.98" fill="#b2affa"/><rect x="199.90" y="814.84" width="11.10" height="10.98" fill="#f5f5fe"/><rect x="210.95" y="814.84" width="11.10" height="10.98" fill="#c0befb"/><rect x="111.50" y="825.77" width="11.10" height="10.98" fill="#facece"/><rect x="122.55" y="825.77" width="11.10" height="10.98" fill="#fdebeb"/><rect x="133.60" y="825.77" width="11.10" height="10.98" fill="#fbd6d6"/><rect x="144.65" y="825.77" width="11.10" height="10.98" fill="#fbd6d6"/><rect x="155.70" y="825.77" width="11.10" height="10.98" fill="#fce7e7"/><rect x="166.75" y="825.77" width="11.10" height="10.98" fill="#fef3f3"/><rect x="177.80" y="825.77" width="11.10" height="10.98" fill="#fbd6d6"/><rect x="188.85" y="825.77" width="11.10" height="10.98" fill="#fce3e3"/><rect x="199.90" y="825.77" width="11.10" height="10.98" fill="#fce3e3"/><rect x="210.95" y="825.77" width="11.10" height="10.98" fill="#7469f8"/>
<rect x="111.50" y="727.40" width="110.50" height="109.30" fill="none" stroke="#111" stroke-width="1.25" rx="0.8"/>
<rect x="229.30" y="727.40" width="11.26" height="10.98" fill="#f28585"/><rect x="240.51" y="727.40" width="11.26" height="10.98" fill="#fce3e3"/><rect x="251.73" y="727.40" width="11.26" height="10.98" fill="#f17d7d"/><rect x="262.94" y="727.40" width="11.26" height="10.98" fill="#f8bebe"/><rect x="274.15" y="727.40" width="11.26" height="10.98" fill="#b6b4fb"/><rect x="285.36" y="727.40" width="11.26" height="10.98" fill="#f6aeae"/><rect x="296.57" y="727.40" width="11.26" height="10.98" fill="#fbd6d6"/><rect x="307.79" y="727.40" width="11.26" height="10.98" fill="#c5c3fc"/><rect x="229.30" y="738.33" width="11.26" height="10.98" fill="#f49595"/><rect x="240.51" y="738.33" width="11.26" height="10.98" fill="#f39191"/><rect x="251.73" y="738.33" width="11.26" height="10.98" fill="#f49999"/><rect x="262.94" y="738.33" width="11.26" height="10.98" fill="#f38d8d"/><rect x="274.15" y="738.33" width="11.26" height="10.98" fill="#fdebeb"/><rect x="285.36" y="738.33" width="11.26" height="10.98" fill="#fbdada"/><rect x="296.57" y="738.33" width="11.26" height="10.98" fill="#f8bebe"/><rect x="307.79" y="738.33" width="11.26" height="10.98" fill="#d3d2fc"/><rect x="229.30" y="749.26" width="11.26" height="10.98" fill="#f07171"/><rect x="240.51" y="749.26" width="11.26" height="10.98" fill="#f7b6b6"/><rect x="251.73" y="749.26" width="11.26" height="10.98" fill="#f8bebe"/><rect x="262.94" y="749.26" width="11.26" height="10.98" fill="#f9caca"/><rect x="274.15" y="749.26" width="11.26" height="10.98" fill="#fad2d2"/><rect x="285.36" y="749.26" width="11.26" height="10.98" fill="#f6aaaa"/><rect x="296.57" y="749.26" width="11.26" height="10.98" fill="#f59e9e"/><rect x="307.79" y="749.26" width="11.26" height="10.98" fill="#fffbfb"/><rect x="229.30" y="760.19" width="11.26" height="10.98" fill="#f07575"/><rect x="240.51" y="760.19" width="11.26" height="10.98" fill="#f6aeae"/><rect x="251.73" y="760.19" width="11.26" height="10.98" fill="#fdebeb"/><rect x="262.94" y="760.19" width="11.26" height="10.98" fill="#f9caca"/><rect x="274.15" y="760.19" width="11.26" height="10.98" fill="#fbd6d6"/><rect x="285.36" y="760.19" width="11.26" height="10.98" fill="#f6aeae"/><rect x="296.57" y="760.19" width="11.26" height="10.98" fill="#f8baba"/><rect x="307.79" y="760.19" width="11.26" height="10.98" fill="#fef7f7"/><rect x="229.30" y="771.12" width="11.26" height="10.98" fill="#f59e9e"/><rect x="240.51" y="771.12" width="11.26" height="10.98" fill="#f8baba"/><rect x="251.73" y="771.12" width="11.26" height="10.98" fill="#f7b2b2"/><rect x="262.94" y="771.12" width="11.26" height="10.98" fill="#f59e9e"/><rect x="274.15" y="771.12" width="11.26" height="10.98" fill="#f8baba"/><rect x="285.36" y="771.12" width="11.26" height="10.98" fill="#f7b2b2"/><rect x="296.57" y="771.12" width="11.26" height="10.98" fill="#f9c2c2"/><rect x="307.79" y="771.12" width="11.26" height="10.98" fill="#fad2d2"/><rect x="229.30" y="782.05" width="11.26" height="10.98" fill="#f38d8d"/><rect x="240.51" y="782.05" width="11.26" height="10.98" fill="#ef6565"/><rect x="251.73" y="782.05" width="11.26" height="10.98" fill="#f0f0fe"/><rect x="262.94" y="782.05" width="11.26" height="10.98" fill="#fad2d2"/><rect x="274.15" y="782.05" width="11.26" height="10.98" fill="#d8d7fd"/><rect x="285.36" y="782.05" width="11.26" height="10.98" fill="#d3d2fc"/><rect x="296.57" y="782.05" width="11.26" height="10.98" fill="#f17d7d"/><rect x="307.79" y="782.05" width="11.26" height="10.98" fill="#f5f5fe"/><rect x="229.30" y="792.98" width="11.26" height="10.98" fill="#f8bebe"/><rect x="240.51" y="792.98" width="11.26" height="10.98" fill="#f5a6a6"/><rect x="251.73" y="792.98" width="11.26" height="10.98" fill="#fffbfb"/><rect x="262.94" y="792.98" width="11.26" height="10.98" fill="#ffffff"/><rect x="274.15" y="792.98" width="11.26" height="10.98" fill="#fffdfd"/><rect x="285.36" y="792.98" width="11.26" height="10.98" fill="#fcdfdf"/><rect x="296.57" y="792.98" width="11.26" height="10.98" fill="#fad2d2"/><rect x="307.79" y="792.98" width="11.26" height="10.98" fill="#c0befb"/><rect x="229.30" y="803.91" width="11.26" height="10.98" fill="#f38d8d"/><rect x="240.51" y="803.91" width="11.26" height="10.98" fill="#f59e9e"/><rect x="251.73" y="803.91" width="11.26" height="10.98" fill="#fad2d2"/><rect x="262.94" y="803.91" width="11.26" height="10.98" fill="#f17979"/><rect x="274.15" y="803.91" width="11.26" height="10.98" fill="#e2e1fd"/><rect x="285.36" y="803.91" width="11.26" height="10.98" fill="#f9c2c2"/><rect x="296.57" y="803.91" width="11.26" height="10.98" fill="#f0f0fe"/><rect x="307.79" y="803.91" width="11.26" height="10.98" fill="#fffdfd"/><rect x="229.30" y="814.84" width="11.26" height="10.98" fill="#f17d7d"/><rect x="240.51" y="814.84" width="11.26" height="10.98" fill="#f49999"/><rect x="251.73" y="814.84" width="11.26" height="10.98" fill="#f28989"/><rect x="262.94" y="814.84" width="11.26" height="10.98" fill="#fcdfdf"/><rect x="274.15" y="814.84" width="11.26" height="10.98" fill="#f7b2b2"/><rect x="285.36" y="814.84" width="11.26" height="10.98" fill="#f8bebe"/><rect x="296.57" y="814.84" width="11.26" height="10.98" fill="#fbd6d6"/><rect x="307.79" y="814.84" width="11.26" height="10.98" fill="#f0f0fe"/><rect x="229.30" y="825.77" width="11.26" height="10.98" fill="#fbd6d6"/><rect x="240.51" y="825.77" width="11.26" height="10.98" fill="#fdebeb"/><rect x="251.73" y="825.77" width="11.26" height="10.98" fill="#fef3f3"/><rect x="262.94" y="825.77" width="11.26" height="10.98" fill="#fef3f3"/><rect x="274.15" y="825.77" width="11.26" height="10.98" fill="#f9c2c2"/><rect x="285.36" y="825.77" width="11.26" height="10.98" fill="#f9caca"/><rect x="296.57" y="825.77" width="11.26" height="10.98" fill="#fbd6d6"/><rect x="307.79" y="825.77" width="11.26" height="10.98" fill="#fce7e7"/>
<rect x="229.30" y="727.40" width="89.70" height="109.30" fill="none" stroke="#111" stroke-width="1.25" rx="0.8"/>
<text x="44.00" y="735.57" font-size="6.7" font-weight="bold" text-anchor="end" fill="#000" stroke="#000" stroke-width="0.18" >SLAMF1</text>
<line x1="45.60" y1="732.87" x2="49.80" y2="732.87" stroke="#111" stroke-width="1.3" />
<text x="44.00" y="746.50" font-size="6.7" font-weight="bold" text-anchor="end" fill="#000" stroke="#000" stroke-width="0.18" >CD48</text>
<line x1="45.60" y1="743.79" x2="49.80" y2="743.79" stroke="#111" stroke-width="1.3" />
<text x="44.00" y="757.43" font-size="6.7" font-weight="bold" text-anchor="end" fill="#000" stroke="#000" stroke-width="0.18" >LY9</text>
<line x1="45.60" y1="754.73" x2="49.80" y2="754.73" stroke="#111" stroke-width="1.3" />
<text x="44.00" y="768.36" font-size="6.7" font-weight="bold" text-anchor="end" fill="#000" stroke="#000" stroke-width="0.18" >SLAMF6</text>
<line x1="45.60" y1="765.65" x2="49.80" y2="765.65" stroke="#111" stroke-width="1.3" />
<text x="44.00" y="779.29" font-size="6.7" font-weight="bold" text-anchor="end" fill="#000" stroke="#000" stroke-width="0.18" >SLAMF7</text>
<line x1="45.60" y1="776.59" x2="49.80" y2="776.59" stroke="#111" stroke-width="1.3" />
<text x="44.00" y="790.22" font-size="6.7" font-weight="bold" text-anchor="end" fill="#000" stroke="#000" stroke-width="0.18" >SDC1</text>
<line x1="45.60" y1="787.51" x2="49.80" y2="787.51" stroke="#111" stroke-width="1.3" />
<text x="44.00" y="801.15" font-size="6.7" font-weight="bold" text-anchor="end" fill="#000" stroke="#000" stroke-width="0.18" >B2M</text>
<line x1="45.60" y1="798.45" x2="49.80" y2="798.45" stroke="#111" stroke-width="1.3" />
<text x="44.00" y="812.08" font-size="6.7" font-weight="bold" text-anchor="end" fill="#000" stroke="#000" stroke-width="0.18" >CD274</text>
<line x1="45.60" y1="809.38" x2="49.80" y2="809.38" stroke="#111" stroke-width="1.3" />
<text x="44.00" y="823.01" font-size="6.7" font-weight="bold" text-anchor="end" fill="#000" stroke="#000" stroke-width="0.18" >ICAM3</text>
<line x1="45.60" y1="820.31" x2="49.80" y2="820.31" stroke="#111" stroke-width="1.3" />
<text x="44.00" y="833.94" font-size="6.7" font-weight="bold" text-anchor="end" fill="#000" stroke="#000" stroke-width="0.18" >C3</text>
<line x1="45.60" y1="831.24" x2="49.80" y2="831.24" stroke="#111" stroke-width="1.3" />
<text x="334.50" y="644.60" font-size="19.8" font-weight="bold" text-anchor="start" fill="#000" stroke="#000" stroke-width="0.18" >F</text>
<text x="373.20" y="639.80" font-size="9.5" font-weight="bold" text-anchor="start" fill="#000" stroke="#000" stroke-width="0.18" >Metabolism</text>
<rect x="374.30" y="643.50" width="11.19" height="10.97" fill="#7469f8"/><rect x="385.44" y="643.50" width="11.19" height="10.97" fill="#8b87f8"/><rect x="396.58" y="643.50" width="11.19" height="10.97" fill="#572afc"/><rect x="407.72" y="643.50" width="11.19" height="10.97" fill="#ffffff"/><rect x="418.86" y="643.50" width="11.19" height="10.97" fill="#7469f8"/><rect x="374.30" y="654.42" width="11.19" height="10.97" fill="#4400ff"/><rect x="385.44" y="654.42" width="11.19" height="10.97" fill="#7973f7"/><rect x="396.58" y="654.42" width="11.19" height="10.97" fill="#6a54f9"/><rect x="407.72" y="654.42" width="11.19" height="10.97" fill="#613ffb"/><rect x="418.86" y="654.42" width="11.19" height="10.97" fill="#7973f7"/><rect x="374.30" y="665.33" width="11.19" height="10.97" fill="#4400ff"/><rect x="385.44" y="665.33" width="11.19" height="10.97" fill="#7973f7"/><rect x="396.58" y="665.33" width="11.19" height="10.97" fill="#6d59f9"/><rect x="407.72" y="665.33" width="11.19" height="10.97" fill="#b6b4fb"/><rect x="418.86" y="665.33" width="11.19" height="10.97" fill="#6d59f9"/><rect x="374.30" y="676.25" width="11.19" height="10.97" fill="#4400ff"/><rect x="385.44" y="676.25" width="11.19" height="10.97" fill="#684ffa"/><rect x="396.58" y="676.25" width="11.19" height="10.97" fill="#9e9bf9"/><rect x="407.72" y="676.25" width="11.19" height="10.97" fill="#908cf8"/><rect x="418.86" y="676.25" width="11.19" height="10.97" fill="#9e9bf9"/><rect x="374.30" y="687.17" width="11.19" height="10.97" fill="#4400ff"/><rect x="385.44" y="687.17" width="11.19" height="10.97" fill="#908cf8"/><rect x="396.58" y="687.17" width="11.19" height="10.97" fill="#613ffb"/><rect x="407.72" y="687.17" width="11.19" height="10.97" fill="#908cf8"/><rect x="418.86" y="687.17" width="11.19" height="10.97" fill="#766ef8"/><rect x="374.30" y="698.08" width="11.19" height="10.97" fill="#6f5ef9"/><rect x="385.44" y="698.08" width="11.19" height="10.97" fill="#5c34fb"/><rect x="396.58" y="698.08" width="11.19" height="10.97" fill="#4400ff"/><rect x="407.72" y="698.08" width="11.19" height="10.97" fill="#8b87f8"/><rect x="418.86" y="698.08" width="11.19" height="10.97" fill="#8b87f8"/>
<rect x="374.30" y="643.50" width="55.70" height="65.50" fill="none" stroke="#111" stroke-width="1.25" rx="0.8"/>
<rect x="435.80" y="643.50" width="11.10" height="10.97" fill="#fef3f3"/><rect x="446.85" y="643.50" width="11.10" height="10.97" fill="#facece"/><rect x="457.90" y="643.50" width="11.10" height="10.97" fill="#fce3e3"/><rect x="468.95" y="643.50" width="11.10" height="10.97" fill="#f0f0fe"/><rect x="480.00" y="643.50" width="11.10" height="10.97" fill="#fce3e3"/><rect x="491.05" y="643.50" width="11.10" height="10.97" fill="#fbdada"/><rect x="502.10" y="643.50" width="11.10" height="10.97" fill="#fbdada"/><rect x="513.15" y="643.50" width="11.10" height="10.97" fill="#fdebeb"/><rect x="524.20" y="643.50" width="11.10" height="10.97" fill="#fce3e3"/><rect x="535.25" y="643.50" width="11.10" height="10.97" fill="#fcdfdf"/><rect x="435.80" y="654.42" width="11.10" height="10.97" fill="#fdefef"/><rect x="446.85" y="654.42" width="11.10" height="10.97" fill="#fcdfdf"/><rect x="457.90" y="654.42" width="11.10" height="10.97" fill="#fbdada"/><rect x="468.95" y="654.42" width="11.10" height="10.97" fill="#fffbfb"/><rect x="480.00" y="654.42" width="11.10" height="10.97" fill="#fdebeb"/><rect x="491.05" y="654.42" width="11.10" height="10.97" fill="#fbd6d6"/><rect x="502.10" y="654.42" width="11.10" height="10.97" fill="#fbdada"/><rect x="513.15" y="654.42" width="11.10" height="10.97" fill="#fce7e7"/><rect x="524.20" y="654.42" width="11.10" height="10.97" fill="#fbd6d6"/><rect x="535.25" y="654.42" width="11.10" height="10.97" fill="#fce3e3"/><rect x="435.80" y="665.33" width="11.10" height="10.97" fill="#facece"/><rect x="446.85" y="665.33" width="11.10" height="10.97" fill="#fef7f7"/><rect x="457.90" y="665.33" width="11.10" height="10.97" fill="#fcdfdf"/><rect x="468.95" y="665.33" width="11.10" height="10.97" fill="#ffffff"/><rect x="480.00" y="665.33" width="11.10" height="10.97" fill="#e7e6fe"/><rect x="491.05" y="665.33" width="11.10" height="10.97" fill="#fffbfb"/><rect x="502.10" y="665.33" width="11.10" height="10.97" fill="#fce7e7"/><rect x="513.15" y="665.33" width="11.10" height="10.97" fill="#fbdada"/><rect x="524.20" y="665.33" width="11.10" height="10.97" fill="#f9c2c2"/><rect x="535.25" y="665.33" width="11.10" height="10.97" fill="#fce7e7"/><rect x="435.80" y="676.25" width="11.10" height="10.97" fill="#fef7f7"/><rect x="446.85" y="676.25" width="11.10" height="10.97" fill="#f7b6b6"/><rect x="457.90" y="676.25" width="11.10" height="10.97" fill="#fef3f3"/><rect x="468.95" y="676.25" width="11.10" height="10.97" fill="#9e9bf9"/><rect x="480.00" y="676.25" width="11.10" height="10.97" fill="#9e9bf9"/><rect x="491.05" y="676.25" width="11.10" height="10.97" fill="#ffffff"/><rect x="502.10" y="676.25" width="11.10" height="10.97" fill="#fdebeb"/><rect x="513.15" y="676.25" width="11.10" height="10.97" fill="#fce3e3"/><rect x="524.20" y="676.25" width="11.10" height="10.97" fill="#f5f5fe"/><rect x="535.25" y="676.25" width="11.10" height="10.97" fill="#ecebfe"/><rect x="435.80" y="687.17" width="11.10" height="10.97" fill="#f5f5fe"/><rect x="446.85" y="687.17" width="11.10" height="10.97" fill="#f9c6c6"/><rect x="457.90" y="687.17" width="11.10" height="10.97" fill="#fdefef"/><rect x="468.95" y="687.17" width="11.10" height="10.97" fill="#fce7e7"/><rect x="480.00" y="687.17" width="11.10" height="10.97" fill="#fef3f3"/><rect x="491.05" y="687.17" width="11.10" height="10.97" fill="#fcdfdf"/><rect x="502.10" y="687.17" width="11.10" height="10.97" fill="#fce7e7"/><rect x="513.15" y="687.17" width="11.10" height="10.97" fill="#fbdada"/><rect x="524.20" y="687.17" width="11.10" height="10.97" fill="#f9c2c2"/><rect x="535.25" y="687.17" width="11.10" height="10.97" fill="#fcdfdf"/><rect x="435.80" y="698.08" width="11.10" height="10.97" fill="#e7e6fe"/><rect x="446.85" y="698.08" width="11.10" height="10.97" fill="#e7e6fe"/><rect x="457.90" y="698.08" width="11.10" height="10.97" fill="#fef7f7"/><rect x="468.95" y="698.08" width="11.10" height="10.97" fill="#fcdfdf"/><rect x="480.00" y="698.08" width="11.10" height="10.97" fill="#fdebeb"/><rect x="491.05" y="698.08" width="11.10" height="10.97" fill="#fcdfdf"/><rect x="502.10" y="698.08" width="11.10" height="10.97" fill="#fbdada"/><rect x="513.15" y="698.08" width="11.10" height="10.97" fill="#f9caca"/><rect x="524.20" y="698.08" width="11.10" height="10.97" fill="#fbdada"/><rect x="535.25" y="698.08" width="11.10" height="10.97" fill="#b2affa"/>
<rect x="435.80" y="643.50" width="110.50" height="65.50" fill="none" stroke="#111" stroke-width="1.25" rx="0.8"/>
<rect x="554.40" y="643.50" width="11.10" height="10.97" fill="#fdebeb"/><rect x="565.45" y="643.50" width="11.10" height="10.97" fill="#fdebeb"/><rect x="576.50" y="643.50" width="11.10" height="10.97" fill="#fcdfdf"/><rect x="587.55" y="643.50" width="11.10" height="10.97" fill="#fdefef"/><rect x="598.60" y="643.50" width="11.10" height="10.97" fill="#fbd6d6"/><rect x="609.65" y="643.50" width="11.10" height="10.97" fill="#fce7e7"/><rect x="620.70" y="643.50" width="11.10" height="10.97" fill="#f0f0fe"/><rect x="631.75" y="643.50" width="11.10" height="10.97" fill="#fce7e7"/><rect x="554.40" y="654.42" width="11.10" height="10.97" fill="#f9caca"/><rect x="565.45" y="654.42" width="11.10" height="10.97" fill="#cfcdfc"/><rect x="576.50" y="654.42" width="11.10" height="10.97" fill="#fcdfdf"/><rect x="587.55" y="654.42" width="11.10" height="10.97" fill="#d8d7fd"/><rect x="598.60" y="654.42" width="11.10" height="10.97" fill="#fce3e3"/><rect x="609.65" y="654.42" width="11.10" height="10.97" fill="#fce3e3"/><rect x="620.70" y="654.42" width="11.10" height="10.97" fill="#fce3e3"/><rect x="631.75" y="654.42" width="11.10" height="10.97" fill="#fce3e3"/><rect x="554.40" y="665.33" width="11.10" height="10.97" fill="#fdefef"/><rect x="565.45" y="665.33" width="11.10" height="10.97" fill="#fbd6d6"/><rect x="576.50" y="665.33" width="11.10" height="10.97" fill="#f9c2c2"/><rect x="587.55" y="665.33" width="11.10" height="10.97" fill="#facece"/><rect x="598.60" y="665.33" width="11.10" height="10.97" fill="#dddcfd"/><rect x="609.65" y="665.33" width="11.10" height="10.97" fill="#fef7f7"/><rect x="620.70" y="665.33" width="11.10" height="10.97" fill="#fef7f7"/><rect x="631.75" y="665.33" width="11.10" height="10.97" fill="#fdebeb"/><rect x="554.40" y="676.25" width="11.10" height="10.97" fill="#f8bebe"/><rect x="565.45" y="676.25" width="11.10" height="10.97" fill="#facece"/><rect x="576.50" y="676.25" width="11.10" height="10.97" fill="#fbd6d6"/><rect x="587.55" y="676.25" width="11.10" height="10.97" fill="#f8bebe"/><rect x="598.60" y="676.25" width="11.10" height="10.97" fill="#fef3f3"/><rect x="609.65" y="676.25" width="11.10" height="10.97" fill="#fef3f3"/><rect x="620.70" y="676.25" width="11.10" height="10.97" fill="#fef7f7"/><rect x="631.75" y="676.25" width="11.10" height="10.97" fill="#fce7e7"/><rect x="554.40" y="687.17" width="11.10" height="10.97" fill="#fce3e3"/><rect x="565.45" y="687.17" width="11.10" height="10.97" fill="#fef3f3"/><rect x="576.50" y="687.17" width="11.10" height="10.97" fill="#fcdfdf"/><rect x="587.55" y="687.17" width="11.10" height="10.97" fill="#f9caca"/><rect x="598.60" y="687.17" width="11.10" height="10.97" fill="#9591f9"/><rect x="609.65" y="687.17" width="11.10" height="10.97" fill="#fffbfb"/><rect x="620.70" y="687.17" width="11.10" height="10.97" fill="#f5f5fe"/><rect x="631.75" y="687.17" width="11.10" height="10.97" fill="#fef3f3"/><rect x="554.40" y="698.08" width="11.10" height="10.97" fill="#fcdfdf"/><rect x="565.45" y="698.08" width="11.10" height="10.97" fill="#fbd6d6"/><rect x="576.50" y="698.08" width="11.10" height="10.97" fill="#fce3e3"/><rect x="587.55" y="698.08" width="11.10" height="10.97" fill="#fef7f7"/><rect x="598.60" y="698.08" width="11.10" height="10.97" fill="#fce3e3"/><rect x="609.65" y="698.08" width="11.10" height="10.97" fill="#fdefef"/><rect x="620.70" y="698.08" width="11.10" height="10.97" fill="#facece"/><rect x="631.75" y="698.08" width="11.10" height="10.97" fill="#facece"/>
<rect x="554.40" y="643.50" width="88.40" height="65.50" fill="none" stroke="#111" stroke-width="1.25" rx="0.8"/>
<text x="369.00" y="651.66" font-size="6.7" font-weight="bold" text-anchor="end" fill="#000" stroke="#000" stroke-width="0.18" >APOA2</text>
<line x1="370.60" y1="648.96" x2="374.80" y2="648.96" stroke="#111" stroke-width="1.3" />
<text x="369.00" y="662.58" font-size="6.7" font-weight="bold" text-anchor="end" fill="#000" stroke="#000" stroke-width="0.18" >APOB</text>
<line x1="370.60" y1="659.88" x2="374.80" y2="659.88" stroke="#111" stroke-width="1.3" />
<text x="369.00" y="673.49" font-size="6.7" font-weight="bold" text-anchor="end" fill="#000" stroke="#000" stroke-width="0.18" >ABHD14B</text>
<line x1="370.60" y1="670.79" x2="374.80" y2="670.79" stroke="#111" stroke-width="1.3" />
<text x="369.00" y="684.41" font-size="6.7" font-weight="bold" text-anchor="end" fill="#000" stroke="#000" stroke-width="0.18" >MEP1A</text>
<line x1="370.60" y1="681.71" x2="374.80" y2="681.71" stroke="#111" stroke-width="1.3" />
<text x="369.00" y="695.33" font-size="6.7" font-weight="bold" text-anchor="end" fill="#000" stroke="#000" stroke-width="0.18" >DNPEP</text>
<line x1="370.60" y1="692.62" x2="374.80" y2="692.62" stroke="#111" stroke-width="1.3" />
<text x="369.00" y="706.24" font-size="6.7" font-weight="bold" text-anchor="end" fill="#000" stroke="#000" stroke-width="0.18" >FBP1</text>
<line x1="370.60" y1="703.54" x2="374.80" y2="703.54" stroke="#111" stroke-width="1.3" />
<text x="334.50" y="734.70" font-size="19.8" font-weight="bold" text-anchor="start" fill="#000" stroke="#000" stroke-width="0.18" >G</text>
<text x="373.20" y="736.60" font-size="9.5" font-weight="bold" text-anchor="start" fill="#000" stroke="#000" stroke-width="0.18" >Additional proteins with potential role in MM</text>
<rect x="374.30" y="742.40" width="11.19" height="11.02" fill="#9591f9"/><rect x="385.44" y="742.40" width="11.19" height="11.02" fill="#fafaff"/><rect x="396.58" y="742.40" width="11.19" height="11.02" fill="#817df7"/><rect x="407.72" y="742.40" width="11.19" height="11.02" fill="#cfcdfc"/><rect x="418.86" y="742.40" width="11.19" height="11.02" fill="#9591f9"/><rect x="374.30" y="753.37" width="11.19" height="11.02" fill="#908cf8"/><rect x="385.44" y="753.37" width="11.19" height="11.02" fill="#d3d2fc"/><rect x="396.58" y="753.37" width="11.19" height="11.02" fill="#c5c3fc"/><rect x="407.72" y="753.37" width="11.19" height="11.02" fill="#9591f9"/><rect x="418.86" y="753.37" width="11.19" height="11.02" fill="#8b87f8"/><rect x="374.30" y="764.33" width="11.19" height="11.02" fill="#6f5ef9"/><rect x="385.44" y="764.33" width="11.19" height="11.02" fill="#9e9bf9"/><rect x="396.58" y="764.33" width="11.19" height="11.02" fill="#7973f7"/><rect x="407.72" y="764.33" width="11.19" height="11.02" fill="#6d59f9"/><rect x="418.86" y="764.33" width="11.19" height="11.02" fill="#adaafa"/><rect x="374.30" y="775.30" width="11.19" height="11.02" fill="#9591f9"/><rect x="385.44" y="775.30" width="11.19" height="11.02" fill="#bbb9fb"/><rect x="396.58" y="775.30" width="11.19" height="11.02" fill="#bbb9fb"/><rect x="407.72" y="775.30" width="11.19" height="11.02" fill="#bbb9fb"/><rect x="418.86" y="775.30" width="11.19" height="11.02" fill="#b6b4fb"/><rect x="374.30" y="786.27" width="11.19" height="11.02" fill="#fcdfdf"/><rect x="385.44" y="786.27" width="11.19" height="11.02" fill="#fce3e3"/><rect x="396.58" y="786.27" width="11.19" height="11.02" fill="#f17d7d"/><rect x="407.72" y="786.27" width="11.19" height="11.02" fill="#f9c6c6"/><rect x="418.86" y="786.27" width="11.19" height="11.02" fill="#fbd6d6"/><rect x="374.30" y="797.23" width="11.19" height="11.02" fill="#fafaff"/><rect x="385.44" y="797.23" width="11.19" height="11.02" fill="#fbd6d6"/><rect x="396.58" y="797.23" width="11.19" height="11.02" fill="#cfcdfc"/><rect x="407.72" y="797.23" width="11.19" height="11.02" fill="#fbd6d6"/><rect x="418.86" y="797.23" width="11.19" height="11.02" fill="#ec4848"/>
<rect x="374.30" y="742.40" width="55.70" height="65.80" fill="none" stroke="#111" stroke-width="1.25" rx="0.8"/>
<rect x="435.80" y="742.40" width="11.10" height="11.02" fill="#e7e6fe"/><rect x="446.85" y="742.40" width="11.10" height="11.02" fill="#fcdfdf"/><rect x="457.90" y="742.40" width="11.10" height="11.02" fill="#572afc"/><rect x="468.95" y="742.40" width="11.10" height="11.02" fill="#e7e6fe"/><rect x="480.00" y="742.40" width="11.10" height="11.02" fill="#8b87f8"/><rect x="491.05" y="742.40" width="11.10" height="11.02" fill="#c0befb"/><rect x="502.10" y="742.40" width="11.10" height="11.02" fill="#e7e6fe"/><rect x="513.15" y="742.40" width="11.10" height="11.02" fill="#fef3f3"/><rect x="524.20" y="742.40" width="11.10" height="11.02" fill="#f5f5fe"/><rect x="535.25" y="742.40" width="11.10" height="11.02" fill="#e7e6fe"/><rect x="435.80" y="753.37" width="11.10" height="11.02" fill="#ffffff"/><rect x="446.85" y="753.37" width="11.10" height="11.02" fill="#fdebeb"/><rect x="457.90" y="753.37" width="11.10" height="11.02" fill="#fce7e7"/><rect x="468.95" y="753.37" width="11.10" height="11.02" fill="#f5f5fe"/><rect x="480.00" y="753.37" width="11.10" height="11.02" fill="#572afc"/><rect x="491.05" y="753.37" width="11.10" height="11.02" fill="#d8d7fd"/><rect x="502.10" y="753.37" width="11.10" height="11.02" fill="#b2affa"/><rect x="513.15" y="753.37" width="11.10" height="11.02" fill="#fdefef"/><rect x="524.20" y="753.37" width="11.10" height="11.02" fill="#b6b4fb"/><rect x="535.25" y="753.37" width="11.10" height="11.02" fill="#fafaff"/><rect x="435.80" y="764.33" width="11.10" height="11.02" fill="#fef3f3"/><rect x="446.85" y="764.33" width="11.10" height="11.02" fill="#f17d7d"/><rect x="457.90" y="764.33" width="11.10" height="11.02" fill="#ffffff"/><rect x="468.95" y="764.33" width="11.10" height="11.02" fill="#d3d2fc"/><rect x="480.00" y="764.33" width="11.10" height="11.02" fill="#c5c3fc"/><rect x="491.05" y="764.33" width="11.10" height="11.02" fill="#cfcdfc"/><rect x="502.10" y="764.33" width="11.10" height="11.02" fill="#fffbfb"/><rect x="513.15" y="764.33" width="11.10" height="11.02" fill="#fffbfb"/><rect x="524.20" y="764.33" width="11.10" height="11.02" fill="#fef7f7"/><rect x="535.25" y="764.33" width="11.10" height="11.02" fill="#fffbfb"/><rect x="435.80" y="775.30" width="11.10" height="11.02" fill="#a8a5fa"/><rect x="446.85" y="775.30" width="11.10" height="11.02" fill="#cac8fc"/><rect x="457.90" y="775.30" width="11.10" height="11.02" fill="#fce7e7"/><rect x="468.95" y="775.30" width="11.10" height="11.02" fill="#fef3f3"/><rect x="480.00" y="775.30" width="11.10" height="11.02" fill="#d3d2fc"/><rect x="491.05" y="775.30" width="11.10" height="11.02" fill="#cfcdfc"/><rect x="502.10" y="775.30" width="11.10" height="11.02" fill="#e7e6fe"/><rect x="513.15" y="775.30" width="11.10" height="11.02" fill="#fdebeb"/><rect x="524.20" y="775.30" width="11.10" height="11.02" fill="#ecebfe"/><rect x="535.25" y="775.30" width="11.10" height="11.02" fill="#a8a5fa"/><rect x="435.80" y="786.27" width="11.10" height="11.02" fill="#fef3f3"/><rect x="446.85" y="786.27" width="11.10" height="11.02" fill="#8682f8"/><rect x="457.90" y="786.27" width="11.10" height="11.02" fill="#8682f8"/><rect x="468.95" y="786.27" width="11.10" height="11.02" fill="#fffbfb"/><rect x="480.00" y="786.27" width="11.10" height="11.02" fill="#a8a5fa"/><rect x="491.05" y="786.27" width="11.10" height="11.02" fill="#908cf8"/><rect x="502.10" y="786.27" width="11.10" height="11.02" fill="#fef3f3"/><rect x="513.15" y="786.27" width="11.10" height="11.02" fill="#fbdada"/><rect x="524.20" y="786.27" width="11.10" height="11.02" fill="#fef3f3"/><rect x="535.25" y="786.27" width="11.10" height="11.02" fill="#fdebeb"/><rect x="435.80" y="797.23" width="11.10" height="11.02" fill="#f9c6c6"/><rect x="446.85" y="797.23" width="11.10" height="11.02" fill="#fdebeb"/><rect x="457.90" y="797.23" width="11.10" height="11.02" fill="#fafaff"/><rect x="468.95" y="797.23" width="11.10" height="11.02" fill="#fef3f3"/><rect x="480.00" y="797.23" width="11.10" height="11.02" fill="#cfcdfc"/><rect x="491.05" y="797.23" width="11.10" height="11.02" fill="#f5f5fe"/><rect x="502.10" y="797.23" width="11.10" height="11.02" fill="#fce7e7"/><rect x="513.15" y="797.23" width="11.10" height="11.02" fill="#dddcfd"/><rect x="524.20" y="797.23" width="11.10" height="11.02" fill="#fef3f3"/><rect x="535.25" y="797.23" width="11.10" height="11.02" fill="#fce7e7"/>
<rect x="435.80" y="742.40" width="110.50" height="65.80" fill="none" stroke="#111" stroke-width="1.25" rx="0.8"/>
<rect x="554.40" y="742.40" width="11.10" height="11.02" fill="#f5a6a6"/><rect x="565.45" y="742.40" width="11.10" height="11.02" fill="#f6aeae"/><rect x="576.50" y="742.40" width="11.10" height="11.02" fill="#facece"/><rect x="587.55" y="742.40" width="11.10" height="11.02" fill="#f8bebe"/><rect x="598.60" y="742.40" width="11.10" height="11.02" fill="#facece"/><rect x="609.65" y="742.40" width="11.10" height="11.02" fill="#fdebeb"/><rect x="620.70" y="742.40" width="11.10" height="11.02" fill="#f6aeae"/><rect x="631.75" y="742.40" width="11.10" height="11.02" fill="#e2e1fd"/><rect x="554.40" y="753.37" width="11.10" height="11.02" fill="#f7b6b6"/><rect x="565.45" y="753.37" width="11.10" height="11.02" fill="#f38d8d"/><rect x="576.50" y="753.37" width="11.10" height="11.02" fill="#fbd6d6"/><rect x="587.55" y="753.37" width="11.10" height="11.02" fill="#f7b6b6"/><rect x="598.60" y="753.37" width="11.10" height="11.02" fill="#f9c6c6"/><rect x="609.65" y="753.37" width="11.10" height="11.02" fill="#fbdada"/><rect x="620.70" y="753.37" width="11.10" height="11.02" fill="#f0f0fe"/><rect x="631.75" y="753.37" width="11.10" height="11.02" fill="#cfcdfc"/><rect x="554.40" y="764.33" width="11.10" height="11.02" fill="#f9c2c2"/><rect x="565.45" y="764.33" width="11.10" height="11.02" fill="#f49999"/><rect x="576.50" y="764.33" width="11.10" height="11.02" fill="#f9caca"/><rect x="587.55" y="764.33" width="11.10" height="11.02" fill="#fcdfdf"/><rect x="598.60" y="764.33" width="11.10" height="11.02" fill="#fce7e7"/><rect x="609.65" y="764.33" width="11.10" height="11.02" fill="#fbdada"/><rect x="620.70" y="764.33" width="11.10" height="11.02" fill="#fcdfdf"/><rect x="631.75" y="764.33" width="11.10" height="11.02" fill="#f0f0fe"/><rect x="554.40" y="775.30" width="11.10" height="11.02" fill="#f28585"/><rect x="565.45" y="775.30" width="11.10" height="11.02" fill="#f5a2a2"/><rect x="576.50" y="775.30" width="11.10" height="11.02" fill="#e7e6fe"/><rect x="587.55" y="775.30" width="11.10" height="11.02" fill="#f8baba"/><rect x="598.60" y="775.30" width="11.10" height="11.02" fill="#c5c3fc"/><rect x="609.65" y="775.30" width="11.10" height="11.02" fill="#f8bebe"/><rect x="620.70" y="775.30" width="11.10" height="11.02" fill="#f7b2b2"/><rect x="631.75" y="775.30" width="11.10" height="11.02" fill="#d3d2fc"/><rect x="554.40" y="786.27" width="11.10" height="11.02" fill="#fcdfdf"/><rect x="565.45" y="786.27" width="11.10" height="11.02" fill="#8682f8"/><rect x="576.50" y="786.27" width="11.10" height="11.02" fill="#fef7f7"/><rect x="587.55" y="786.27" width="11.10" height="11.02" fill="#fef7f7"/><rect x="598.60" y="786.27" width="11.10" height="11.02" fill="#8b87f8"/><rect x="609.65" y="786.27" width="11.10" height="11.02" fill="#f5f5fe"/><rect x="620.70" y="786.27" width="11.10" height="11.02" fill="#8682f8"/><rect x="631.75" y="786.27" width="11.10" height="11.02" fill="#fdefef"/><rect x="554.40" y="797.23" width="11.10" height="11.02" fill="#8682f8"/><rect x="565.45" y="797.23" width="11.10" height="11.02" fill="#d8d7fd"/><rect x="576.50" y="797.23" width="11.10" height="11.02" fill="#f0f0fe"/><rect x="587.55" y="797.23" width="11.10" height="11.02" fill="#d8d7fd"/><rect x="598.60" y="797.23" width="11.10" height="11.02" fill="#8b87f8"/><rect x="609.65" y="797.23" width="11.10" height="11.02" fill="#6649fa"/><rect x="620.70" y="797.23" width="11.10" height="11.02" fill="#8682f8"/><rect x="631.75" y="797.23" width="11.10" height="11.02" fill="#c5c3fc"/>
<rect x="554.40" y="742.40" width="88.40" height="65.80" fill="none" stroke="#111" stroke-width="1.25" rx="0.8"/>
<text x="369.00" y="750.58" font-size="6.7" font-weight="bold" text-anchor="end" fill="#000" stroke="#000" stroke-width="0.18" >TXNDC5</text>
<line x1="370.60" y1="747.88" x2="374.80" y2="747.88" stroke="#111" stroke-width="1.3" />
<text x="369.00" y="761.55" font-size="6.7" font-weight="bold" text-anchor="end" fill="#000" stroke="#000" stroke-width="0.18" >EPO</text>
<line x1="370.60" y1="758.85" x2="374.80" y2="758.85" stroke="#111" stroke-width="1.3" />
<text x="369.00" y="772.52" font-size="6.7" font-weight="bold" text-anchor="end" fill="#000" stroke="#000" stroke-width="0.18" >ST6GAL1</text>
<line x1="370.60" y1="769.82" x2="374.80" y2="769.82" stroke="#111" stroke-width="1.3" />
<text x="369.00" y="783.48" font-size="6.7" font-weight="bold" text-anchor="end" fill="#000" stroke="#000" stroke-width="0.18" >CNTN5</text>
<line x1="370.60" y1="780.78" x2="374.80" y2="780.78" stroke="#111" stroke-width="1.3" />
<text x="369.00" y="794.45" font-size="6.7" font-weight="bold" text-anchor="end" fill="#000" stroke="#000" stroke-width="0.18" >MN1</text>
<line x1="370.60" y1="791.75" x2="374.80" y2="791.75" stroke="#111" stroke-width="1.3" />
<text x="369.00" y="805.42" font-size="6.7" font-weight="bold" text-anchor="end" fill="#000" stroke="#000" stroke-width="0.18" >VCPKMT</text>
<line x1="370.60" y1="802.72" x2="374.80" y2="802.72" stroke="#111" stroke-width="1.3" />
<rect x="50.00" y="841.40" width="55.90" height="9.70" fill="#D6508D" stroke="#B93C75" stroke-width="0.5"/>
<text x="77.95" y="849.80" font-size="9.6" font-weight="bold" text-anchor="middle" fill="#111" stroke="#111" stroke-width="0.18" >Control</text>
<rect x="109.40" y="841.40" width="113.50" height="9.70" fill="#4A82E2" stroke="#3B6CC4" stroke-width="0.5"/>
<text x="166.15" y="849.80" font-size="9.6" font-weight="bold" text-anchor="middle" fill="#111" stroke="#111" stroke-width="0.18" >MGUS</text>
<rect x="228.30" y="841.40" width="91.70" height="9.70" fill="#F2C100" stroke="#C9A100" stroke-width="0.5"/>
<text x="274.15" y="849.80" font-size="9.6" font-weight="bold" text-anchor="middle" fill="#111" stroke="#111" stroke-width="0.18" >MM</text>
<text x="55.05" y="858.80" font-size="7.8" font-weight="bold" text-anchor="middle" fill="#000" stroke="#000" stroke-width="0.18" >1</text>
<text x="66.15" y="858.80" font-size="7.8" font-weight="bold" text-anchor="middle" fill="#000" stroke="#000" stroke-width="0.18" >2</text>
<text x="77.25" y="858.80" font-size="7.8" font-weight="bold" text-anchor="middle" fill="#000" stroke="#000" stroke-width="0.18" >3</text>
<text x="88.35" y="858.80" font-size="7.8" font-weight="bold" text-anchor="middle" fill="#000" stroke="#000" stroke-width="0.18" >4</text>
<text x="99.45" y="858.80" font-size="7.8" font-weight="bold" text-anchor="middle" fill="#000" stroke="#000" stroke-width="0.18" >5</text>
<text x="117.03" y="858.80" font-size="7.8" font-weight="bold" text-anchor="middle" fill="#000" stroke="#000" stroke-width="0.18" >1</text>
<text x="128.07" y="858.80" font-size="7.8" font-weight="bold" text-anchor="middle" fill="#000" stroke="#000" stroke-width="0.18" >2</text>
<text x="139.12" y="858.80" font-size="7.8" font-weight="bold" text-anchor="middle" fill="#000" stroke="#000" stroke-width="0.18" >3</text>
<text x="150.18" y="858.80" font-size="7.8" font-weight="bold" text-anchor="middle" fill="#000" stroke="#000" stroke-width="0.18" >4</text>
<text x="161.22" y="858.80" font-size="7.8" font-weight="bold" text-anchor="middle" fill="#000" stroke="#000" stroke-width="0.18" >5</text>
<text x="172.28" y="858.80" font-size="7.8" font-weight="bold" text-anchor="middle" fill="#000" stroke="#000" stroke-width="0.18" >6</text>
<text x="183.32" y="858.80" font-size="7.8" font-weight="bold" text-anchor="middle" fill="#000" stroke="#000" stroke-width="0.18" >7</text>
<text x="194.38" y="858.80" font-size="7.8" font-weight="bold" text-anchor="middle" fill="#000" stroke="#000" stroke-width="0.18" >8</text>
<text x="205.43" y="858.80" font-size="7.8" font-weight="bold" text-anchor="middle" fill="#000" stroke="#000" stroke-width="0.18" >9</text>
<text x="216.48" y="858.80" font-size="7.8" font-weight="bold" text-anchor="middle" fill="#000" stroke="#000" stroke-width="0.18" >10</text>
<text x="234.91" y="858.80" font-size="7.8" font-weight="bold" text-anchor="middle" fill="#000" stroke="#000" stroke-width="0.18" >1</text>
<text x="246.12" y="858.80" font-size="7.8" font-weight="bold" text-anchor="middle" fill="#000" stroke="#000" stroke-width="0.18" >2</text>
<text x="257.33" y="858.80" font-size="7.8" font-weight="bold" text-anchor="middle" fill="#000" stroke="#000" stroke-width="0.18" >3</text>
<text x="268.54" y="858.80" font-size="7.8" font-weight="bold" text-anchor="middle" fill="#000" stroke="#000" stroke-width="0.18" >4</text>
<text x="279.76" y="858.80" font-size="7.8" font-weight="bold" text-anchor="middle" fill="#000" stroke="#000" stroke-width="0.18" >5</text>
<text x="290.97" y="858.80" font-size="7.8" font-weight="bold" text-anchor="middle" fill="#000" stroke="#000" stroke-width="0.18" >6</text>
<text x="302.18" y="858.80" font-size="7.8" font-weight="bold" text-anchor="middle" fill="#000" stroke="#000" stroke-width="0.18" >7</text>
<text x="313.39" y="858.80" font-size="7.8" font-weight="bold" text-anchor="middle" fill="#000" stroke="#000" stroke-width="0.18" >8</text>
<rect x="375.30" y="811.80" width="55.70" height="10.10" fill="#D6508D" stroke="#B93C75" stroke-width="0.5"/>
<text x="403.15" y="820.60" font-size="9.6" font-weight="bold" text-anchor="middle" fill="#111" stroke="#111" stroke-width="0.18" >Control</text>
<rect x="434.50" y="811.80" width="113.80" height="10.10" fill="#4A82E2" stroke="#3B6CC4" stroke-width="0.5"/>
<text x="491.40" y="820.60" font-size="9.6" font-weight="bold" text-anchor="middle" fill="#111" stroke="#111" stroke-width="0.18" >MGUS</text>
<rect x="553.60" y="811.80" width="91.10" height="10.10" fill="#F2C100" stroke="#C9A100" stroke-width="0.5"/>
<text x="599.15" y="820.60" font-size="9.6" font-weight="bold" text-anchor="middle" fill="#111" stroke="#111" stroke-width="0.18" >MM</text>
<text x="379.87" y="829.90" font-size="7.8" font-weight="bold" text-anchor="middle" fill="#000" stroke="#000" stroke-width="0.18" >1</text>
<text x="391.01" y="829.90" font-size="7.8" font-weight="bold" text-anchor="middle" fill="#000" stroke="#000" stroke-width="0.18" >2</text>
<text x="402.15" y="829.90" font-size="7.8" font-weight="bold" text-anchor="middle" fill="#000" stroke="#000" stroke-width="0.18" >3</text>
<text x="413.29" y="829.90" font-size="7.8" font-weight="bold" text-anchor="middle" fill="#000" stroke="#000" stroke-width="0.18" >4</text>
<text x="424.43" y="829.90" font-size="7.8" font-weight="bold" text-anchor="middle" fill="#000" stroke="#000" stroke-width="0.18" >5</text>
<text x="441.32" y="829.90" font-size="7.8" font-weight="bold" text-anchor="middle" fill="#000" stroke="#000" stroke-width="0.18" >1</text>
<text x="452.38" y="829.90" font-size="7.8" font-weight="bold" text-anchor="middle" fill="#000" stroke="#000" stroke-width="0.18" >2</text>
<text x="463.43" y="829.90" font-size="7.8" font-weight="bold" text-anchor="middle" fill="#000" stroke="#000" stroke-width="0.18" >3</text>
<text x="474.47" y="829.90" font-size="7.8" font-weight="bold" text-anchor="middle" fill="#000" stroke="#000" stroke-width="0.18" >4</text>
<text x="485.52" y="829.90" font-size="7.8" font-weight="bold" text-anchor="middle" fill="#000" stroke="#000" stroke-width="0.18" >5</text>
<text x="496.57" y="829.90" font-size="7.8" font-weight="bold" text-anchor="middle" fill="#000" stroke="#000" stroke-width="0.18" >6</text>
<text x="507.62" y="829.90" font-size="7.8" font-weight="bold" text-anchor="middle" fill="#000" stroke="#000" stroke-width="0.18" >7</text>
<text x="518.67" y="829.90" font-size="7.8" font-weight="bold" text-anchor="middle" fill="#000" stroke="#000" stroke-width="0.18" >8</text>
<text x="529.72" y="829.90" font-size="7.8" font-weight="bold" text-anchor="middle" fill="#000" stroke="#000" stroke-width="0.18" >9</text>
<text x="540.77" y="829.90" font-size="7.8" font-weight="bold" text-anchor="middle" fill="#000" stroke="#000" stroke-width="0.18" >10</text>
<text x="559.92" y="829.90" font-size="7.8" font-weight="bold" text-anchor="middle" fill="#000" stroke="#000" stroke-width="0.18" >1</text>
<text x="570.98" y="829.90" font-size="7.8" font-weight="bold" text-anchor="middle" fill="#000" stroke="#000" stroke-width="0.18" >2</text>
<text x="582.02" y="829.90" font-size="7.8" font-weight="bold" text-anchor="middle" fill="#000" stroke="#000" stroke-width="0.18" >3</text>
<text x="593.07" y="829.90" font-size="7.8" font-weight="bold" text-anchor="middle" fill="#000" stroke="#000" stroke-width="0.18" >4</text>
<text x="604.12" y="829.90" font-size="7.8" font-weight="bold" text-anchor="middle" fill="#000" stroke="#000" stroke-width="0.18" >5</text>
<text x="615.17" y="829.90" font-size="7.8" font-weight="bold" text-anchor="middle" fill="#000" stroke="#000" stroke-width="0.18" >6</text>
<text x="626.22" y="829.90" font-size="7.8" font-weight="bold" text-anchor="middle" fill="#000" stroke="#000" stroke-width="0.18" >7</text>
<text x="637.27" y="829.90" font-size="7.8" font-weight="bold" text-anchor="middle" fill="#000" stroke="#000" stroke-width="0.18" >8</text>
<text x="645.60" y="634.30" font-size="9.4" font-weight="bold" text-anchor="start" fill="#000" stroke="#000" stroke-width="0.18" >z-score</text>
<defs><linearGradient id="zb" x1="0" y1="0" x2="0" y2="1"><stop offset="-0.0007" stop-color="#ea3d3d"/><stop offset="0.0244" stop-color="#eb4545"/><stop offset="0.0494" stop-color="#ec4e4e"/><stop offset="0.0745" stop-color="#ed5757"/><stop offset="0.0995" stop-color="#ee5f5f"/><stop offset="0.1246" stop-color="#ef6868"/><stop offset="0.1496" stop-color="#f07171"/><stop offset="0.1747" stop-color="#f17a7a"/><stop offset="0.1997" stop-color="#f28282"/><stop offset="0.2248" stop-color="#f38b8b"/><stop offset="0.2498" stop-color="#f49494"/><stop offset="0.2749" stop-color="#f49c9c"/><stop offset="0.2999" stop-color="#f5a5a5"/><stop offset="0.3250" stop-color="#f6aeae"/><stop offset="0.3500" stop-color="#f7b6b6"/><stop offset="0.3751" stop-color="#f8bfbf"/><stop offset="0.4001" stop-color="#f9c8c8"/><stop offset="0.4252" stop-color="#fad0d0"/><stop offset="0.4502" stop-color="#fbd9d9"/><stop offset="0.4753" stop-color="#fce2e2"/><stop offset="0.5003" stop-color="#fdeaea"/><stop offset="0.5254" stop-color="#fef3f3"/><stop offset="0.5504" stop-color="#fffcfc"/><stop offset="0.5755" stop-color="#f5f5fe"/><stop offset="0.6005" stop-color="#e6e6fe"/><stop offset="0.6256" stop-color="#d7d6fd"/><stop offset="0.6506" stop-color="#c8c6fc"/><stop offset="0.6757" stop-color="#b9b7fb"/><stop offset="0.7007" stop-color="#aaa7fa"/><stop offset="0.7258" stop-color="#9a97f9"/><stop offset="0.7508" stop-color="#8b88f8"/><stop offset="0.7759" stop-color="#7c78f7"/><stop offset="0.8009" stop-color="#7368f8"/><stop offset="0.8260" stop-color="#6c57f9"/><stop offset="0.8510" stop-color="#6447fa"/><stop offset="0.8761" stop-color="#5d36fb"/><stop offset="0.9011" stop-color="#5526fc"/><stop offset="0.9262" stop-color="#4e15fe"/><stop offset="0.9512" stop-color="#4605ff"/><stop offset="0.9763" stop-color="#4400ff"/><stop offset="1.0013" stop-color="#4400ff"/></linearGradient></defs>
<rect x="657.8" y="640.9" width="11.5" height="169.0" fill="url(#zb)" stroke="#111" stroke-width="1.3" rx="0.6"/>
<line x1="657.80" y1="678.10" x2="659.80" y2="678.10" stroke="#111" stroke-width="1.0" />
<line x1="667.30" y1="678.10" x2="669.30" y2="678.10" stroke="#111" stroke-width="1.0" />
<text x="675.20" y="681.30" font-size="9.2" font-weight="bold" text-anchor="start" fill="#000" stroke="#000" stroke-width="0.18" >2</text>
<line x1="657.80" y1="735.50" x2="659.80" y2="735.50" stroke="#111" stroke-width="1.0" />
<line x1="667.30" y1="735.50" x2="669.30" y2="735.50" stroke="#111" stroke-width="1.0" />
<text x="675.20" y="738.70" font-size="9.2" font-weight="bold" text-anchor="start" fill="#000" stroke="#000" stroke-width="0.18" >0</text>
<line x1="657.80" y1="792.90" x2="659.80" y2="792.90" stroke="#111" stroke-width="1.0" />
<line x1="667.30" y1="792.90" x2="669.30" y2="792.90" stroke="#111" stroke-width="1.0" />
<text x="671.80" y="796.10" font-size="9.2" font-weight="bold" text-anchor="start" fill="#000" stroke="#000" stroke-width="0.18" >-2</text>
</svg>
</body></html>
